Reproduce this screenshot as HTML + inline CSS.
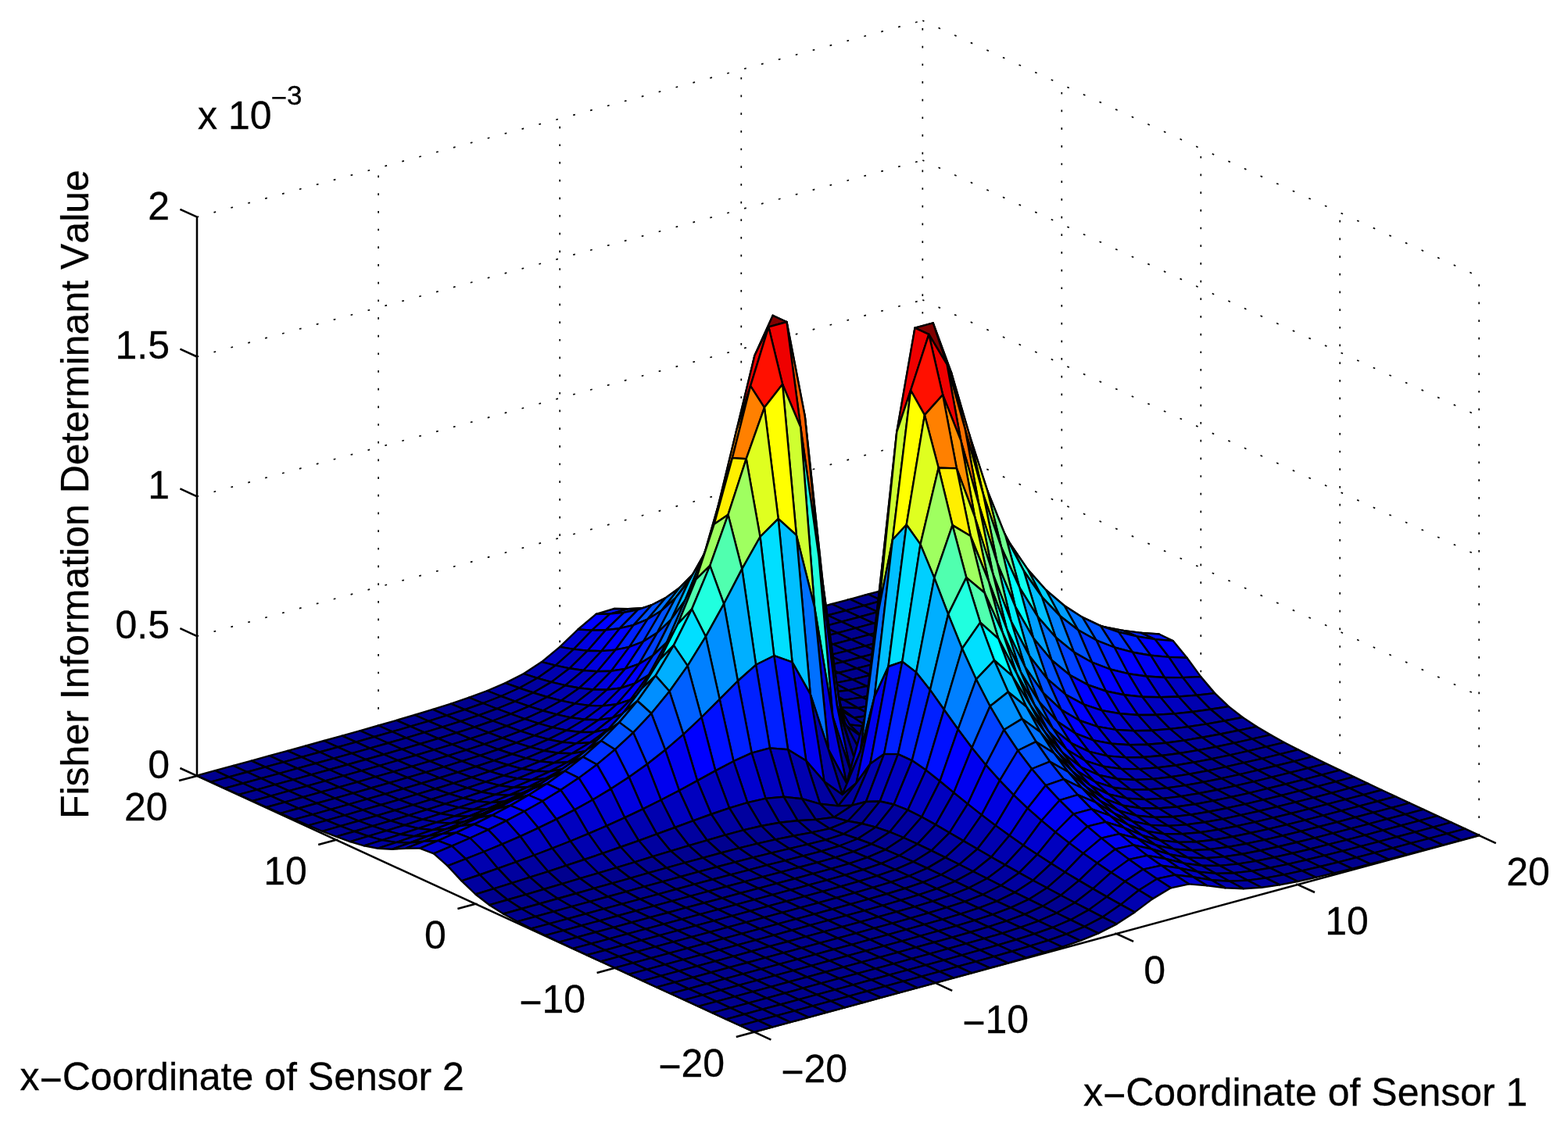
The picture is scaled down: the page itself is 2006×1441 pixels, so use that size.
<!DOCTYPE html>
<html lang="en"><head><meta charset="utf-8"><title>Fisher Information Determinant Value</title>
<style>html,body{margin:0;padding:0;background:#fff}svg{display:block}</style></head>
<body>
<svg width="2006" height="1441" viewBox="0 0 2006 1441" role="img" aria-label="Surface plot of the Fisher Information Determinant Value versus the x-coordinates of sensor 1 and sensor 2">
<rect width="2006" height="1441" fill="#fff"/>
<path d="M484.1 930L484.1 214.8M716.2 867.1L716.2 151.9M948.3 804.3L948.3 89.1M1180.3 741.4L1180.3 26.2M1358.3 823.3L1358.3 108.1M1536.3 905.3L1536.3 190.1M1714.2 987.2L1714.2 272M1892.2 1069.2L1892.2 354M252 992.9L1180.3 741.4M1180.3 741.4L1892.2 1069.2M252 814.1L1180.3 562.6M1180.3 562.6L1892.2 890.4M252 635.3L1180.3 383.8M1180.3 383.8L1892.2 711.6M252 456.5L1180.3 205M1180.3 205L1892.2 532.8M252 277.7L1180.3 26.2M1180.3 26.2L1892.2 354M1196.6 1257.8L484.1 930.1M786.6 1238.8L1714.2 987.3M1428.5 1195L716.2 867.3M608.4 1156.8L1536.3 905.4M1660.3 1132.1L948.3 804.5M430.2 1074.8L1358.3 823.6" fill="none" stroke="#000" stroke-width="1.7" stroke-dasharray="2.7 19.98" stroke-dashoffset="0.4"/>
<path d="M252 992.9L252 277.7M964.8 1320.7L1892.2 1069.2M964.8 1320.7L252 992.9M964.8 1320.7L986.4 1330.6M964.8 1320.7L941.8 1326.9M1196.6 1257.8L1218.2 1267.8M786.6 1238.8L763.6 1245M1428.5 1195L1450.1 1204.9M608.4 1156.8L585.4 1163M1660.3 1132.1L1682 1142M430.2 1074.8L407.2 1081.1M1892.2 1069.2L1913.8 1079.1M252 992.9L229 999.1M252 992.9L230.4 983M252 814.1L230.4 804.2M252 635.3L230.4 625.4M252 456.5L230.4 446.6M252 277.7L230.4 267.8" fill="none" stroke="#000" stroke-width="2.55" stroke-linecap="butt"/>
<g stroke="#000" stroke-width="2.4" stroke-linejoin="round">
<path fill="#00008f" d="M1174.9 756.2L1198.1 749.9L1180.4 741.7L1157.1 748Z"/>
<path fill="#00008f" d="M1151.7 762.5L1174.9 756.2L1157.1 748L1133.9 754.3Z"/>
<path fill="#00008f" d="M1128.5 768.7L1151.7 762.5L1133.9 754.3L1110.7 760.5Z"/>
<path fill="#00008f" d="M1105.3 775L1128.5 768.7L1110.7 760.5L1087.5 766.8Z"/>
<path fill="#00008f" d="M1082.1 781.3L1105.3 775L1087.5 766.8L1064.3 773Z"/>
<path fill="#00008f" d="M1058.9 787.5L1082.1 781.3L1064.3 773L1041.1 779.3Z"/>
<path fill="#00008f" d="M1035.7 793.7L1058.9 787.5L1041.1 779.3L1017.9 785.4Z"/>
<path fill="#00008f" d="M1012.5 799.7L1035.7 793.7L1017.9 785.4L994.7 791.5Z"/>
<path fill="#00008f" d="M989.3 805.7L1012.5 799.7L994.7 791.5L971.5 797.4Z"/>
<path fill="#00008f" d="M966.1 811.2L989.3 805.7L971.5 797.4L948.3 803Z"/>
<path fill="#00008f" d="M942.9 816.1L966.1 811.2L948.3 803L925.1 808Z"/>
<path fill="#00008f" d="M919.6 819.7L942.9 816.1L925.1 808L901.8 811.8Z"/>
<path fill="#00009f" d="M896.4 820.7L919.6 819.7L901.8 811.8L878.6 813.2Z"/>
<path fill="#0000af" d="M873.2 816.9L896.4 820.7L878.6 813.2L855.4 810.3Z"/>
<path fill="#0000cf" d="M850 806.2L873.2 816.9L855.4 810.3L832.2 801.3Z"/>
<path fill="#0000ef" d="M826.8 790.2L850 806.2L832.2 801.3L809 787.7Z"/>
<path fill="#0010ff" d="M803.6 779.3L826.8 790.2L809 787.7L785.8 779Z"/>
<path fill="#0010ff" d="M780.4 785.6L803.6 779.3L785.8 779L762.6 785.8Z"/>
<path fill="#0000ff" d="M757.2 806.6L780.4 785.6L762.6 785.8L739.4 805.5Z"/>
<path fill="#0000cf" d="M734 830.9L757.2 806.6L739.4 805.5L716.2 827.9Z"/>
<path fill="#0000bf" d="M710.8 851.6L734 830.9L716.2 827.9L693 847.1Z"/>
<path fill="#0000af" d="M687.6 867.8L710.8 851.6L693 847.1L669.8 862.2Z"/>
<path fill="#00009f" d="M664.4 880.5L687.6 867.8L669.8 862.2L646.5 874.1Z"/>
<path fill="#00009f" d="M641.1 891L664.4 880.5L646.5 874.1L623.3 884Z"/>
<path fill="#00008f" d="M617.9 900L641.1 891L623.3 884L600.1 892.7Z"/>
<path fill="#00008f" d="M594.7 908.1L617.9 900L600.1 892.7L576.9 900.6Z"/>
<path fill="#00008f" d="M571.5 915.6L594.7 908.1L576.9 900.6L553.7 907.9Z"/>
<path fill="#00008f" d="M548.3 922.8L571.5 915.6L553.7 907.9L530.5 915Z"/>
<path fill="#00008f" d="M525.1 929.7L548.3 922.8L530.5 915L507.3 921.8Z"/>
<path fill="#00008f" d="M501.9 936.4L525.1 929.7L507.3 921.8L484.1 928.5Z"/>
<path fill="#00008f" d="M478.7 943L501.9 936.4L484.1 928.5L460.9 935.1Z"/>
<path fill="#00008f" d="M455.5 949.6L478.7 943L460.9 935.1L437.7 941.6Z"/>
<path fill="#00008f" d="M432.3 956.1L455.5 949.6L437.7 941.6L414.5 948Z"/>
<path fill="#00008f" d="M409.1 962.5L432.3 956.1L414.5 948L391.3 954.5Z"/>
<path fill="#00008f" d="M385.9 968.9L409.1 962.5L391.3 954.5L368 960.8Z"/>
<path fill="#00008f" d="M362.7 975.3L385.9 968.9L368 960.8L344.8 967.2Z"/>
<path fill="#00008f" d="M339.4 981.7L362.7 975.3L344.8 967.2L321.6 973.6Z"/>
<path fill="#00008f" d="M316.2 988L339.4 981.7L321.6 973.6L298.4 979.9Z"/>
<path fill="#00008f" d="M293 994.4L316.2 988L298.4 979.9L275.2 986.2Z"/>
<path fill="#00008f" d="M269.8 1000.7L293 994.4L275.2 986.2L252 992.6Z"/>
<path fill="#00008f" d="M1192.7 764.4L1215.9 758.1L1198.1 749.9L1174.9 756.2Z"/>
<path fill="#00008f" d="M1169.5 770.6L1192.7 764.4L1174.9 756.2L1151.7 762.5Z"/>
<path fill="#00008f" d="M1146.3 776.9L1169.5 770.6L1151.7 762.5L1128.5 768.7Z"/>
<path fill="#00008f" d="M1123.1 783.2L1146.3 776.9L1128.5 768.7L1105.3 775Z"/>
<path fill="#00008f" d="M1099.9 789.5L1123.1 783.2L1105.3 775L1082.1 781.3Z"/>
<path fill="#00008f" d="M1076.7 795.7L1099.9 789.5L1082.1 781.3L1058.9 787.5Z"/>
<path fill="#00008f" d="M1053.5 801.9L1076.7 795.7L1058.9 787.5L1035.7 793.7Z"/>
<path fill="#00008f" d="M1030.3 808L1053.5 801.9L1035.7 793.7L1012.5 799.7Z"/>
<path fill="#00008f" d="M1007.1 813.9L1030.3 808L1012.5 799.7L989.3 805.7Z"/>
<path fill="#00008f" d="M983.9 819.4L1007.1 813.9L989.3 805.7L966.1 811.2Z"/>
<path fill="#00008f" d="M960.7 824.3L983.9 819.4L966.1 811.2L942.9 816.1Z"/>
<path fill="#00008f" d="M937.5 827.6L960.7 824.3L942.9 816.1L919.6 819.7Z"/>
<path fill="#00009f" d="M914.2 828.1L937.5 827.6L919.6 819.7L896.4 820.7Z"/>
<path fill="#0000af" d="M891 823.4L914.2 828.1L896.4 820.7L873.2 816.9Z"/>
<path fill="#0000cf" d="M867.8 810.7L891 823.4L873.2 816.9L850 806.2Z"/>
<path fill="#0000ff" d="M844.6 791.8L867.8 810.7L850 806.2L826.8 790.2Z"/>
<path fill="#0020ff" d="M821.4 778.3L844.6 791.8L826.8 790.2L803.6 779.3Z"/>
<path fill="#0020ff" d="M798.2 783.9L821.4 778.3L803.6 779.3L780.4 785.6Z"/>
<path fill="#0000ff" d="M775 806.3L798.2 783.9L780.4 785.6L757.2 806.6Z"/>
<path fill="#0000df" d="M751.8 832.7L775 806.3L757.2 806.6L734 830.9Z"/>
<path fill="#0000bf" d="M728.6 855.3L751.8 832.7L734 830.9L710.8 851.6Z"/>
<path fill="#0000af" d="M705.4 872.9L728.6 855.3L710.8 851.6L687.6 867.8Z"/>
<path fill="#00009f" d="M682.2 886.5L705.4 872.9L687.6 867.8L664.4 880.5Z"/>
<path fill="#00009f" d="M659 897.6L682.2 886.5L664.4 880.5L641.1 891Z"/>
<path fill="#00008f" d="M635.8 907L659 897.6L641.1 891L617.9 900Z"/>
<path fill="#00008f" d="M612.5 915.4L635.8 907L617.9 900L594.7 908.1Z"/>
<path fill="#00008f" d="M589.3 923.1L612.5 915.4L594.7 908.1L571.5 915.6Z"/>
<path fill="#00008f" d="M566.1 930.4L589.3 923.1L571.5 915.6L548.3 922.8Z"/>
<path fill="#00008f" d="M542.9 937.4L566.1 930.4L548.3 922.8L525.1 929.7Z"/>
<path fill="#00008f" d="M519.7 944.3L542.9 937.4L525.1 929.7L501.9 936.4Z"/>
<path fill="#00008f" d="M496.5 951L519.7 944.3L501.9 936.4L478.7 943Z"/>
<path fill="#00008f" d="M473.3 957.6L496.5 951L478.7 943L455.5 949.6Z"/>
<path fill="#00008f" d="M450.1 964.1L473.3 957.6L455.5 949.6L432.3 956.1Z"/>
<path fill="#00008f" d="M426.9 970.6L450.1 964.1L432.3 956.1L409.1 962.5Z"/>
<path fill="#00008f" d="M403.7 977L426.9 970.6L409.1 962.5L385.9 968.9Z"/>
<path fill="#00008f" d="M380.5 983.4L403.7 977L385.9 968.9L362.7 975.3Z"/>
<path fill="#00008f" d="M357.3 989.8L380.5 983.4L362.7 975.3L339.4 981.7Z"/>
<path fill="#00008f" d="M334.1 996.1L357.3 989.8L339.4 981.7L316.2 988Z"/>
<path fill="#00008f" d="M310.8 1002.5L334.1 996.1L316.2 988L293 994.4Z"/>
<path fill="#00008f" d="M287.6 1008.8L310.8 1002.5L293 994.4L269.8 1000.7Z"/>
<path fill="#00008f" d="M1210.5 772.5L1233.7 766.3L1215.9 758.1L1192.7 764.4Z"/>
<path fill="#00008f" d="M1187.3 778.8L1210.5 772.5L1192.7 764.4L1169.5 770.6Z"/>
<path fill="#00008f" d="M1164.1 785.1L1187.3 778.8L1169.5 770.6L1146.3 776.9Z"/>
<path fill="#00008f" d="M1140.9 791.4L1164.1 785.1L1146.3 776.9L1123.1 783.2Z"/>
<path fill="#00008f" d="M1117.7 797.7L1140.9 791.4L1123.1 783.2L1099.9 789.5Z"/>
<path fill="#00008f" d="M1094.5 803.9L1117.7 797.7L1099.9 789.5L1076.7 795.7Z"/>
<path fill="#00008f" d="M1071.3 810.1L1094.5 803.9L1076.7 795.7L1053.5 801.9Z"/>
<path fill="#00008f" d="M1048.1 816.2L1071.3 810.1L1053.5 801.9L1030.3 808Z"/>
<path fill="#00008f" d="M1024.9 822.1L1048.1 816.2L1030.3 808L1007.1 813.9Z"/>
<path fill="#00008f" d="M1001.7 827.7L1024.9 822.1L1007.1 813.9L983.9 819.4Z"/>
<path fill="#00008f" d="M978.5 832.4L1001.7 827.7L983.9 819.4L960.7 824.3Z"/>
<path fill="#00008f" d="M955.3 835.6L978.5 832.4L960.7 824.3L937.5 827.6Z"/>
<path fill="#00009f" d="M932 835.6L955.3 835.6L937.5 827.6L914.2 828.1Z"/>
<path fill="#0000af" d="M908.8 829.6L932 835.6L914.2 828.1L891 823.4Z"/>
<path fill="#0000df" d="M885.6 814.7L908.8 829.6L891 823.4L867.8 810.7Z"/>
<path fill="#0010ff" d="M862.4 792.4L885.6 814.7L867.8 810.7L844.6 791.8Z"/>
<path fill="#0030ff" d="M839.2 775.6L862.4 792.4L844.6 791.8L821.4 778.3Z"/>
<path fill="#0040ff" stroke="none" d="M816 780.3L821.4 778.3L839.2 775.6ZM816 780.3L798.2 783.9L821.4 778.3Z"/><path fill="none" d="M816 780.3L839.2 775.6L821.4 778.3L798.2 783.9Z"/>
<path fill="#0020ff" d="M792.8 804.2L816 780.3L798.2 783.9L775 806.3Z"/>
<path fill="#0000ef" d="M769.6 833.1L792.8 804.2L775 806.3L751.8 832.7Z"/>
<path fill="#0000cf" d="M746.4 858L769.6 833.1L751.8 832.7L728.6 855.3Z"/>
<path fill="#0000bf" d="M723.2 877.2L746.4 858L728.6 855.3L705.4 872.9Z"/>
<path fill="#0000af" d="M700 892L723.2 877.2L705.4 872.9L682.2 886.5Z"/>
<path fill="#00009f" d="M676.8 903.8L700 892L682.2 886.5L659 897.6Z"/>
<path fill="#00009f" d="M653.6 913.7L676.8 903.8L659 897.6L635.8 907Z"/>
<path fill="#00008f" d="M630.4 922.5L653.6 913.7L635.8 907L612.5 915.4Z"/>
<path fill="#00008f" d="M607.1 930.5L630.4 922.5L612.5 915.4L589.3 923.1Z"/>
<path fill="#00008f" d="M583.9 937.9L607.1 930.5L589.3 923.1L566.1 930.4Z"/>
<path fill="#00008f" d="M560.7 945.1L583.9 937.9L566.1 930.4L542.9 937.4Z"/>
<path fill="#00008f" d="M537.5 952L560.7 945.1L542.9 937.4L519.7 944.3Z"/>
<path fill="#00008f" d="M514.3 958.8L537.5 952L519.7 944.3L496.5 951Z"/>
<path fill="#00008f" d="M491.1 965.5L514.3 958.8L496.5 951L473.3 957.6Z"/>
<path fill="#00008f" d="M467.9 972L491.1 965.5L473.3 957.6L450.1 964.1Z"/>
<path fill="#00008f" d="M444.7 978.5L467.9 972L450.1 964.1L426.9 970.6Z"/>
<path fill="#00008f" d="M421.5 985L444.7 978.5L426.9 970.6L403.7 977Z"/>
<path fill="#00008f" d="M398.3 991.4L421.5 985L403.7 977L380.5 983.4Z"/>
<path fill="#00008f" d="M375.1 997.8L398.3 991.4L380.5 983.4L357.3 989.8Z"/>
<path fill="#00008f" d="M351.9 1004.2L375.1 997.8L357.3 989.8L334.1 996.1Z"/>
<path fill="#00008f" d="M328.7 1010.6L351.9 1004.2L334.1 996.1L310.8 1002.5Z"/>
<path fill="#00008f" d="M305.5 1016.9L328.7 1010.6L310.8 1002.5L287.6 1008.8Z"/>
<path fill="#00008f" d="M1228.3 780.7L1251.5 774.4L1233.7 766.3L1210.5 772.5Z"/>
<path fill="#00008f" d="M1205.1 787L1228.3 780.7L1210.5 772.5L1187.3 778.8Z"/>
<path fill="#00008f" d="M1181.9 793.3L1205.1 787L1187.3 778.8L1164.1 785.1Z"/>
<path fill="#00008f" d="M1158.7 799.6L1181.9 793.3L1164.1 785.1L1140.9 791.4Z"/>
<path fill="#00008f" d="M1135.5 805.9L1158.7 799.6L1140.9 791.4L1117.7 797.7Z"/>
<path fill="#00008f" d="M1112.3 812.2L1135.5 805.9L1117.7 797.7L1094.5 803.9Z"/>
<path fill="#00008f" d="M1089.1 818.4L1112.3 812.2L1094.5 803.9L1071.3 810.1Z"/>
<path fill="#00008f" d="M1065.9 824.5L1089.1 818.4L1071.3 810.1L1048.1 816.2Z"/>
<path fill="#00008f" d="M1042.7 830.4L1065.9 824.5L1048.1 816.2L1024.9 822.1Z"/>
<path fill="#00008f" d="M1019.5 835.9L1042.7 830.4L1024.9 822.1L1001.7 827.7Z"/>
<path fill="#00008f" d="M996.3 840.6L1019.5 835.9L1001.7 827.7L978.5 832.4Z"/>
<path fill="#00008f" d="M973.1 843.5L996.3 840.6L978.5 832.4L955.3 835.6Z"/>
<path fill="#00009f" d="M949.9 843L973.1 843.5L955.3 835.6L932 835.6Z"/>
<path fill="#0000af" d="M926.6 835.7L949.9 843L932 835.6L908.8 829.6Z"/>
<path fill="#0000df" d="M903.4 818.2L926.6 835.7L908.8 829.6L885.6 814.7Z"/>
<path fill="#0020ff" d="M880.2 791.7L903.4 818.2L885.6 814.7L862.4 792.4Z"/>
<path fill="#0050ff" d="M857 771L880.2 791.7L862.4 792.4L839.2 775.6Z"/>
<path fill="#0050ff" d="M833.8 774.2L857 771L839.2 775.6L816 780.3Z"/>
<path fill="#0030ff" d="M810.6 799.9L833.8 774.2L816 780.3L792.8 804.2Z"/>
<path fill="#0000ff" d="M787.4 831.7L810.6 799.9L792.8 804.2L769.6 833.1Z"/>
<path fill="#0000df" d="M764.2 859.3L787.4 831.7L769.6 833.1L746.4 858Z"/>
<path fill="#0000bf" d="M741 880.5L764.2 859.3L746.4 858L723.2 877.2Z"/>
<path fill="#0000af" d="M717.8 896.7L741 880.5L723.2 877.2L700 892Z"/>
<path fill="#00009f" d="M694.6 909.5L717.8 896.7L700 892L676.8 903.8Z"/>
<path fill="#00009f" d="M671.4 920.1L694.6 909.5L676.8 903.8L653.6 913.7Z"/>
<path fill="#00008f" d="M648.2 929.2L671.4 920.1L653.6 913.7L630.4 922.5Z"/>
<path fill="#00008f" d="M625 937.6L648.2 929.2L630.4 922.5L607.1 930.5Z"/>
<path fill="#00008f" d="M601.8 945.3L625 937.6L607.1 930.5L583.9 937.9Z"/>
<path fill="#00008f" d="M578.5 952.6L601.8 945.3L583.9 937.9L560.7 945.1Z"/>
<path fill="#00008f" d="M555.3 959.7L578.5 952.6L560.7 945.1L537.5 952Z"/>
<path fill="#00008f" d="M532.1 966.5L555.3 959.7L537.5 952L514.3 958.8Z"/>
<path fill="#00008f" d="M508.9 973.2L532.1 966.5L514.3 958.8L491.1 965.5Z"/>
<path fill="#00008f" d="M485.7 979.9L508.9 973.2L491.1 965.5L467.9 972Z"/>
<path fill="#00008f" d="M462.5 986.4L485.7 979.9L467.9 972L444.7 978.5Z"/>
<path fill="#00008f" d="M439.3 992.9L462.5 986.4L444.7 978.5L421.5 985Z"/>
<path fill="#00008f" d="M416.1 999.4L439.3 992.9L421.5 985L398.3 991.4Z"/>
<path fill="#00008f" d="M392.9 1005.8L416.1 999.4L398.3 991.4L375.1 997.8Z"/>
<path fill="#00008f" d="M369.7 1012.2L392.9 1005.8L375.1 997.8L351.9 1004.2Z"/>
<path fill="#00008f" d="M346.5 1018.6L369.7 1012.2L351.9 1004.2L328.7 1010.6Z"/>
<path fill="#00008f" d="M323.3 1025L346.5 1018.6L328.7 1010.6L305.5 1016.9Z"/>
<path fill="#00008f" d="M1246.1 788.9L1269.3 782.6L1251.5 774.4L1228.3 780.7Z"/>
<path fill="#00008f" d="M1222.9 795.2L1246.1 788.9L1228.3 780.7L1205.1 787Z"/>
<path fill="#00008f" d="M1199.7 801.5L1222.9 795.2L1205.1 787L1181.9 793.3Z"/>
<path fill="#00008f" d="M1176.5 807.8L1199.7 801.5L1181.9 793.3L1158.7 799.6Z"/>
<path fill="#00008f" d="M1153.3 814.1L1176.5 807.8L1158.7 799.6L1135.5 805.9Z"/>
<path fill="#00008f" d="M1130.1 820.4L1153.3 814.1L1135.5 805.9L1112.3 812.2Z"/>
<path fill="#00008f" d="M1106.9 826.6L1130.1 820.4L1112.3 812.2L1089.1 818.4Z"/>
<path fill="#00008f" d="M1083.7 832.8L1106.9 826.6L1089.1 818.4L1065.9 824.5Z"/>
<path fill="#00008f" d="M1060.5 838.7L1083.7 832.8L1065.9 824.5L1042.7 830.4Z"/>
<path fill="#00008f" d="M1037.3 844.2L1060.5 838.7L1042.7 830.4L1019.5 835.9Z"/>
<path fill="#00008f" d="M1014.1 848.9L1037.3 844.2L1019.5 835.9L996.3 840.6Z"/>
<path fill="#00008f" d="M990.9 851.6L1014.1 848.9L996.3 840.6L973.1 843.5Z"/>
<path fill="#00009f" d="M967.7 850.4L990.9 851.6L973.1 843.5L949.9 843Z"/>
<path fill="#0000bf" stroke="none" d="M944.4 841.7L949.9 843L967.7 850.4ZM944.4 841.7L926.6 835.7L949.9 843Z"/><path fill="none" d="M944.4 841.7L967.7 850.4L949.9 843L926.6 835.7Z"/>
<path fill="#0000ef" d="M921.2 821.1L944.4 841.7L926.6 835.7L903.4 818.2Z"/>
<path fill="#0030ff" d="M898 789.7L921.2 821.1L903.4 818.2L880.2 791.7Z"/>
<path fill="#0070ff" d="M874.8 763.8L898 789.7L880.2 791.7L857 771Z"/>
<path fill="#0070ff" d="M851.6 765.1L874.8 763.8L857 771L833.8 774.2Z"/>
<path fill="#0050ff" d="M828.4 792.6L851.6 765.1L833.8 774.2L810.6 799.9Z"/>
<path fill="#0020ff" d="M805.2 827.9L828.4 792.6L810.6 799.9L787.4 831.7Z"/>
<path fill="#0000ef" d="M782 858.8L805.2 827.9L787.4 831.7L764.2 859.3Z"/>
<path fill="#0000cf" d="M758.8 882.5L782 858.8L764.2 859.3L741 880.5Z"/>
<path fill="#0000af" d="M735.6 900.4L758.8 882.5L741 880.5L717.8 896.7Z"/>
<path fill="#0000af" d="M712.4 914.4L735.6 900.4L717.8 896.7L694.6 909.5Z"/>
<path fill="#00009f" d="M689.2 925.8L712.4 914.4L694.6 909.5L671.4 920.1Z"/>
<path fill="#00009f" d="M666 935.6L689.2 925.8L671.4 920.1L648.2 929.2Z"/>
<path fill="#00008f" d="M642.8 944.3L666 935.6L648.2 929.2L625 937.6Z"/>
<path fill="#00008f" d="M619.6 952.3L642.8 944.3L625 937.6L601.8 945.3Z"/>
<path fill="#00008f" d="M596.4 959.9L619.6 952.3L601.8 945.3L578.5 952.6Z"/>
<path fill="#00008f" d="M573.2 967.1L596.4 959.9L578.5 952.6L555.3 959.7Z"/>
<path fill="#00008f" d="M549.9 974.1L573.2 967.1L555.3 959.7L532.1 966.5Z"/>
<path fill="#00008f" d="M526.7 980.9L549.9 974.1L532.1 966.5L508.9 973.2Z"/>
<path fill="#00008f" d="M503.5 987.6L526.7 980.9L508.9 973.2L485.7 979.9Z"/>
<path fill="#00008f" d="M480.3 994.2L503.5 987.6L485.7 979.9L462.5 986.4Z"/>
<path fill="#00008f" d="M457.1 1000.8L480.3 994.2L462.5 986.4L439.3 992.9Z"/>
<path fill="#00008f" d="M433.9 1007.3L457.1 1000.8L439.3 992.9L416.1 999.4Z"/>
<path fill="#00008f" d="M410.7 1013.7L433.9 1007.3L416.1 999.4L392.9 1005.8Z"/>
<path fill="#00008f" d="M387.5 1020.2L410.7 1013.7L392.9 1005.8L369.7 1012.2Z"/>
<path fill="#00008f" d="M364.3 1026.6L387.5 1020.2L369.7 1012.2L346.5 1018.6Z"/>
<path fill="#00008f" d="M341.1 1033L364.3 1026.6L346.5 1018.6L323.3 1025Z"/>
<path fill="#00008f" d="M1263.9 797L1287.1 790.7L1269.3 782.6L1246.1 788.9Z"/>
<path fill="#00008f" d="M1240.7 803.3L1263.9 797L1246.1 788.9L1222.9 795.2Z"/>
<path fill="#00008f" d="M1217.5 809.6L1240.7 803.3L1222.9 795.2L1199.7 801.5Z"/>
<path fill="#00008f" d="M1194.3 816L1217.5 809.6L1199.7 801.5L1176.5 807.8Z"/>
<path fill="#00008f" d="M1171.1 822.3L1194.3 816L1176.5 807.8L1153.3 814.1Z"/>
<path fill="#00008f" d="M1147.9 828.6L1171.1 822.3L1153.3 814.1L1130.1 820.4Z"/>
<path fill="#00008f" d="M1124.7 834.9L1147.9 828.6L1130.1 820.4L1106.9 826.6Z"/>
<path fill="#00008f" d="M1101.5 841L1124.7 834.9L1106.9 826.6L1083.7 832.8Z"/>
<path fill="#00008f" d="M1078.3 847L1101.5 841L1083.7 832.8L1060.5 838.7Z"/>
<path fill="#00008f" d="M1055.1 852.6L1078.3 847L1060.5 838.7L1037.3 844.2Z"/>
<path fill="#00008f" d="M1031.9 857.2L1055.1 852.6L1037.3 844.2L1014.1 848.9Z"/>
<path fill="#00008f" d="M1008.7 859.8L1031.9 857.2L1014.1 848.9L990.9 851.6Z"/>
<path fill="#00009f" d="M985.5 858L1008.7 859.8L990.9 851.6L967.7 850.4Z"/>
<path fill="#0000bf" stroke="none" d="M962.3 847.7L985.5 858L967.7 850.4ZM962.3 847.7L967.7 850.4L944.4 841.7Z"/><path fill="none" d="M962.3 847.7L985.5 858L967.7 850.4L944.4 841.7Z"/>
<path fill="#0000ef" d="M939 823.5L962.3 847.7L944.4 841.7L921.2 821.1Z"/>
<path fill="#0040ff" d="M915.8 786L939 823.5L921.2 821.1L898 789.7Z"/>
<path fill="#008fff" d="M892.6 753.7L915.8 786L898 789.7L874.8 763.8Z"/>
<path fill="#008fff" d="M869.4 752.1L892.6 753.7L874.8 763.8L851.6 765.1Z"/>
<path fill="#0070ff" d="M846.2 781.5L869.4 752.1L851.6 765.1L828.4 792.6Z"/>
<path fill="#0030ff" d="M823 821L846.2 781.5L828.4 792.6L805.2 827.9Z"/>
<path fill="#0000ff" d="M799.8 855.9L823 821L805.2 827.9L782 858.8Z"/>
<path fill="#0000df" d="M776.6 882.7L799.8 855.9L782 858.8L758.8 882.5Z"/>
<path fill="#0000bf" d="M753.4 902.9L776.6 882.7L758.8 882.5L735.6 900.4Z"/>
<path fill="#0000af" d="M730.2 918.3L753.4 902.9L735.6 900.4L712.4 914.4Z"/>
<path fill="#00009f" d="M707 930.8L730.2 918.3L712.4 914.4L689.2 925.8Z"/>
<path fill="#00009f" d="M683.8 941.3L707 930.8L689.2 925.8L666 935.6Z"/>
<path fill="#00009f" d="M660.6 950.6L683.8 941.3L666 935.6L642.8 944.3Z"/>
<path fill="#00008f" d="M637.4 959L660.6 950.6L642.8 944.3L619.6 952.3Z"/>
<path fill="#00008f" d="M614.2 966.8L637.4 959L619.6 952.3L596.4 959.9Z"/>
<path fill="#00008f" d="M591 974.2L614.2 966.8L596.4 959.9L573.2 967.1Z"/>
<path fill="#00008f" d="M567.8 981.4L591 974.2L573.2 967.1L549.9 974.1Z"/>
<path fill="#00008f" d="M544.6 988.4L567.8 981.4L549.9 974.1L526.7 980.9Z"/>
<path fill="#00008f" d="M521.4 995.2L544.6 988.4L526.7 980.9L503.5 987.6Z"/>
<path fill="#00008f" d="M498.1 1001.9L521.4 995.2L503.5 987.6L480.3 994.2Z"/>
<path fill="#00008f" d="M474.9 1008.5L498.1 1001.9L480.3 994.2L457.1 1000.8Z"/>
<path fill="#00008f" d="M451.7 1015.1L474.9 1008.5L457.1 1000.8L433.9 1007.3Z"/>
<path fill="#00008f" d="M428.5 1021.6L451.7 1015.1L433.9 1007.3L410.7 1013.7Z"/>
<path fill="#00008f" d="M405.3 1028L428.5 1021.6L410.7 1013.7L387.5 1020.2Z"/>
<path fill="#00008f" d="M382.1 1034.5L405.3 1028L387.5 1020.2L364.3 1026.6Z"/>
<path fill="#00008f" d="M358.9 1040.9L382.1 1034.5L364.3 1026.6L341.1 1033Z"/>
<path fill="#00008f" d="M1281.7 805.1L1304.9 798.8L1287.1 790.7L1263.9 797Z"/>
<path fill="#00008f" d="M1258.5 811.4L1281.7 805.1L1263.9 797L1240.7 803.3Z"/>
<path fill="#00008f" d="M1235.3 817.8L1258.5 811.4L1240.7 803.3L1217.5 809.6Z"/>
<path fill="#00008f" d="M1212.1 824.1L1235.3 817.8L1217.5 809.6L1194.3 816Z"/>
<path fill="#00008f" d="M1188.9 830.4L1212.1 824.1L1194.3 816L1171.1 822.3Z"/>
<path fill="#00008f" d="M1165.7 836.8L1188.9 830.4L1171.1 822.3L1147.9 828.6Z"/>
<path fill="#00008f" d="M1142.5 843.1L1165.7 836.8L1147.9 828.6L1124.7 834.9Z"/>
<path fill="#00008f" d="M1119.3 849.3L1142.5 843.1L1124.7 834.9L1101.5 841Z"/>
<path fill="#00008f" d="M1096.1 855.4L1119.3 849.3L1101.5 841L1078.3 847Z"/>
<path fill="#00008f" d="M1072.9 861L1096.1 855.4L1078.3 847L1055.1 852.6Z"/>
<path fill="#00008f" d="M1049.7 865.7L1072.9 861L1055.1 852.6L1031.9 857.2Z"/>
<path fill="#00008f" d="M1026.5 868.2L1049.7 865.7L1031.9 857.2L1008.7 859.8Z"/>
<path fill="#00009f" d="M1003.3 865.9L1026.5 868.2L1008.7 859.8L985.5 858Z"/>
<path fill="#0000bf" d="M980.1 853.8L1003.3 865.9L985.5 858L962.3 847.7Z"/>
<path fill="#0000ff" d="M956.9 825.4L980.1 853.8L962.3 847.7L939 823.5Z"/>
<path fill="#0060ff" d="M933.6 780.5L956.9 825.4L939 823.5L915.8 786Z"/>
<path fill="#00afff" d="M910.4 739.9L933.6 780.5L915.8 786L892.6 753.7Z"/>
<path fill="#00bfff" d="M887.2 734.2L910.4 739.9L892.6 753.7L869.4 752.1Z"/>
<path fill="#009fff" d="M864 765.5L887.2 734.2L869.4 752.1L846.2 781.5Z"/>
<path fill="#0050ff" d="M840.8 809.8L864 765.5L846.2 781.5L823 821Z"/>
<path fill="#0020ff" d="M817.6 849.7L840.8 809.8L823 821L799.8 855.9Z"/>
<path fill="#0000ef" d="M794.4 880.5L817.6 849.7L799.8 855.9L776.6 882.7Z"/>
<path fill="#0000cf" d="M771.2 903.4L794.4 880.5L776.6 882.7L753.4 902.9Z"/>
<path fill="#0000bf" d="M748 920.8L771.2 903.4L753.4 902.9L730.2 918.3Z"/>
<path fill="#0000af" d="M724.8 934.7L748 920.8L730.2 918.3L707 930.8Z"/>
<path fill="#00009f" d="M701.6 946.2L724.8 934.7L707 930.8L683.8 941.3Z"/>
<path fill="#00009f" d="M678.4 956.1L701.6 946.2L683.8 941.3L660.6 950.6Z"/>
<path fill="#00009f" d="M655.2 965L678.4 956.1L660.6 950.6L637.4 959Z"/>
<path fill="#00008f" d="M632 973.3L655.2 965L637.4 959L614.2 966.8Z"/>
<path fill="#00008f" d="M608.8 981L632 973.3L614.2 966.8L591 974.2Z"/>
<path fill="#00008f" d="M585.6 988.4L608.8 981L591 974.2L567.8 981.4Z"/>
<path fill="#00008f" d="M562.4 995.5L585.6 988.4L567.8 981.4L544.6 988.4Z"/>
<path fill="#00008f" d="M539.2 1002.5L562.4 995.5L544.6 988.4L521.4 995.2Z"/>
<path fill="#00008f" d="M516 1009.3L539.2 1002.5L521.4 995.2L498.1 1001.9Z"/>
<path fill="#00008f" d="M492.8 1016.1L516 1009.3L498.1 1001.9L474.9 1008.5Z"/>
<path fill="#00008f" d="M469.6 1022.7L492.8 1016.1L474.9 1008.5L451.7 1015.1Z"/>
<path fill="#00008f" d="M446.3 1029.3L469.6 1022.7L451.7 1015.1L428.5 1021.6Z"/>
<path fill="#00008f" d="M423.1 1035.8L446.3 1029.3L428.5 1021.6L405.3 1028Z"/>
<path fill="#00008f" d="M399.9 1042.3L423.1 1035.8L405.3 1028L382.1 1034.5Z"/>
<path fill="#00008f" d="M376.7 1048.7L399.9 1042.3L382.1 1034.5L358.9 1040.9Z"/>
<path fill="#00008f" d="M1299.5 813.1L1322.7 806.8L1304.9 798.8L1281.7 805.1Z"/>
<path fill="#00008f" d="M1276.3 819.4L1299.5 813.1L1281.7 805.1L1258.5 811.4Z"/>
<path fill="#00008f" d="M1253.1 825.8L1276.3 819.4L1258.5 811.4L1235.3 817.8Z"/>
<path fill="#00008f" d="M1229.9 832.1L1253.1 825.8L1235.3 817.8L1212.1 824.1Z"/>
<path fill="#00008f" d="M1206.7 838.5L1229.9 832.1L1212.1 824.1L1188.9 830.4Z"/>
<path fill="#00008f" d="M1183.5 844.9L1206.7 838.5L1188.9 830.4L1165.7 836.8Z"/>
<path fill="#00008f" d="M1160.3 851.2L1183.5 844.9L1165.7 836.8L1142.5 843.1Z"/>
<path fill="#00008f" d="M1137.1 857.6L1160.3 851.2L1142.5 843.1L1119.3 849.3Z"/>
<path fill="#00008f" d="M1113.9 863.8L1137.1 857.6L1119.3 849.3L1096.1 855.4Z"/>
<path fill="#00008f" d="M1090.7 869.6L1113.9 863.8L1096.1 855.4L1072.9 861Z"/>
<path fill="#00008f" d="M1067.5 874.4L1090.7 869.6L1072.9 861L1049.7 865.7Z"/>
<path fill="#00008f" d="M1044.3 877L1067.5 874.4L1049.7 865.7L1026.5 868.2Z"/>
<path fill="#00009f" d="M1021.1 874.2L1044.3 877L1026.5 868.2L1003.3 865.9Z"/>
<path fill="#0000bf" d="M997.9 860.3L1021.1 874.2L1003.3 865.9L980.1 853.8Z"/>
<path fill="#0010ff" d="M974.7 827.1L997.9 860.3L980.1 853.8L956.9 825.4Z"/>
<path fill="#0080ff" d="M951.5 773.2L974.7 827.1L956.9 825.4L933.6 780.5Z"/>
<path fill="#00dfff" d="M928.2 721.8L951.5 773.2L933.6 780.5L910.4 739.9Z"/>
<path fill="#00ffff" d="M905 710L928.2 721.8L910.4 739.9L887.2 734.2Z"/>
<path fill="#00cfff" stroke="none" d="M881.8 742.8L887.2 734.2L905 710ZM881.8 742.8L864 765.5L887.2 734.2Z"/><path fill="none" d="M881.8 742.8L905 710L887.2 734.2L864 765.5Z"/>
<path fill="#0080ff" d="M858.6 792.9L881.8 742.8L864 765.5L840.8 809.8Z"/>
<path fill="#0040ff" d="M835.4 838.9L858.6 792.9L840.8 809.8L817.6 849.7Z"/>
<path fill="#0000ff" d="M812.2 874.7L835.4 838.9L817.6 849.7L794.4 880.5Z"/>
<path fill="#0000df" d="M789 901.3L812.2 874.7L794.4 880.5L771.2 903.4Z"/>
<path fill="#0000cf" d="M765.8 921.3L789 901.3L771.2 903.4L748 920.8Z"/>
<path fill="#0000bf" d="M742.6 937L765.8 921.3L748 920.8L724.8 934.7Z"/>
<path fill="#0000af" d="M719.4 949.8L742.6 937L724.8 934.7L701.6 946.2Z"/>
<path fill="#00009f" d="M696.2 960.7L719.4 949.8L701.6 946.2L678.4 956.1Z"/>
<path fill="#00009f" d="M673 970.3L696.2 960.7L678.4 956.1L655.2 965Z"/>
<path fill="#00009f" d="M649.8 979L673 970.3L655.2 965L632 973.3Z"/>
<path fill="#00008f" d="M626.6 987.2L649.8 979L632 973.3L608.8 981Z"/>
<path fill="#00008f" d="M603.4 994.9L626.6 987.2L608.8 981L585.6 988.4Z"/>
<path fill="#00008f" d="M580.2 1002.3L603.4 994.9L585.6 988.4L562.4 995.5Z"/>
<path fill="#00008f" d="M557 1009.5L580.2 1002.3L562.4 995.5L539.2 1002.5Z"/>
<path fill="#00008f" d="M533.8 1016.4L557 1009.5L539.2 1002.5L516 1009.3Z"/>
<path fill="#00008f" d="M510.6 1023.3L533.8 1016.4L516 1009.3L492.8 1016.1Z"/>
<path fill="#00008f" d="M487.4 1030L510.6 1023.3L492.8 1016.1L469.6 1022.7Z"/>
<path fill="#00008f" d="M464.2 1036.7L487.4 1030L469.6 1022.7L446.3 1029.3Z"/>
<path fill="#00008f" d="M441 1043.3L464.2 1036.7L446.3 1029.3L423.1 1035.8Z"/>
<path fill="#00008f" d="M417.8 1049.9L441 1043.3L423.1 1035.8L399.9 1042.3Z"/>
<path fill="#00008f" d="M394.5 1056.4L417.8 1049.9L399.9 1042.3L376.7 1048.7Z"/>
<path fill="#00008f" d="M1317.3 820.9L1340.5 814.6L1322.7 806.8L1299.5 813.1Z"/>
<path fill="#00008f" d="M1294.1 827.2L1317.3 820.9L1299.5 813.1L1276.3 819.4Z"/>
<path fill="#00008f" d="M1270.9 833.6L1294.1 827.2L1276.3 819.4L1253.1 825.8Z"/>
<path fill="#00008f" d="M1247.7 839.9L1270.9 833.6L1253.1 825.8L1229.9 832.1Z"/>
<path fill="#00008f" d="M1224.5 846.3L1247.7 839.9L1229.9 832.1L1206.7 838.5Z"/>
<path fill="#00008f" d="M1201.3 852.8L1224.5 846.3L1206.7 838.5L1183.5 844.9Z"/>
<path fill="#00008f" d="M1178.1 859.2L1201.3 852.8L1183.5 844.9L1160.3 851.2Z"/>
<path fill="#00008f" d="M1154.9 865.7L1178.1 859.2L1160.3 851.2L1137.1 857.6Z"/>
<path fill="#00008f" d="M1131.7 872.1L1154.9 865.7L1137.1 857.6L1113.9 863.8Z"/>
<path fill="#00008f" d="M1108.5 878.1L1131.7 872.1L1113.9 863.8L1090.7 869.6Z"/>
<path fill="#00008f" d="M1085.3 883.3L1108.5 878.1L1090.7 869.6L1067.5 874.4Z"/>
<path fill="#00008f" d="M1062.1 886.2L1085.3 883.3L1067.5 874.4L1044.3 877Z"/>
<path fill="#00009f" d="M1038.9 883.3L1062.1 886.2L1044.3 877L1021.1 874.2Z"/>
<path fill="#0000cf" d="M1015.7 867.8L1038.9 883.3L1021.1 874.2L997.9 860.3Z"/>
<path fill="#0020ff" d="M992.5 829.3L1015.7 867.8L997.9 860.3L974.7 827.1Z"/>
<path fill="#008fff" d="M969.3 764.5L992.5 829.3L974.7 827.1L951.5 773.2Z"/>
<path fill="#20ffdf" d="M946.1 698.9L969.3 764.5L951.5 773.2L928.2 721.8Z"/>
<path fill="#50ffaf" d="M922.8 678.1L946.1 698.9L928.2 721.8L905 710Z"/>
<path fill="#20ffdf" d="M899.6 711.4L922.8 678.1L905 710L881.8 742.8Z"/>
<path fill="#00bfff" d="M876.4 768.2L899.6 711.4L881.8 742.8L858.6 792.9Z"/>
<path fill="#0070ff" d="M853.2 821.8L876.4 768.2L858.6 792.9L835.4 838.9Z"/>
<path fill="#0030ff" d="M830 863.9L853.2 821.8L835.4 838.9L812.2 874.7Z"/>
<path fill="#0000ff" d="M806.8 895.3L830 863.9L812.2 874.7L789 901.3Z"/>
<path fill="#0000df" d="M783.6 918.7L806.8 895.3L789 901.3L765.8 921.3Z"/>
<path fill="#0000cf" d="M760.4 936.9L783.6 918.7L765.8 921.3L742.6 937Z"/>
<path fill="#0000bf" d="M737.2 951.4L760.4 936.9L742.6 937L719.4 949.8Z"/>
<path fill="#0000af" d="M714 963.7L737.2 951.4L719.4 949.8L696.2 960.7Z"/>
<path fill="#00009f" d="M690.8 974.3L714 963.7L696.2 960.7L673 970.3Z"/>
<path fill="#00009f" d="M667.6 983.8L690.8 974.3L673 970.3L649.8 979Z"/>
<path fill="#00009f" d="M644.4 992.5L667.6 983.8L649.8 979L626.6 987.2Z"/>
<path fill="#00009f" d="M621.2 1000.6L644.4 992.5L626.6 987.2L603.4 994.9Z"/>
<path fill="#00008f" d="M598 1008.4L621.2 1000.6L603.4 994.9L580.2 1002.3Z"/>
<path fill="#00008f" d="M574.8 1015.8L598 1008.4L580.2 1002.3L557 1009.5Z"/>
<path fill="#00008f" d="M551.6 1023.1L574.8 1015.8L557 1009.5L533.8 1016.4Z"/>
<path fill="#00008f" d="M528.4 1030.1L551.6 1023.1L533.8 1016.4L510.6 1023.3Z"/>
<path fill="#00008f" d="M505.2 1037L528.4 1030.1L510.6 1023.3L487.4 1030Z"/>
<path fill="#00008f" d="M482 1043.8L505.2 1037L487.4 1030L464.2 1036.7Z"/>
<path fill="#00008f" d="M458.8 1050.5L482 1043.8L464.2 1036.7L441 1043.3Z"/>
<path fill="#00008f" d="M435.6 1057.2L458.8 1050.5L441 1043.3L417.8 1049.9Z"/>
<path fill="#00008f" d="M412.4 1063.8L435.6 1057.2L417.8 1049.9L394.5 1056.4Z"/>
<path fill="#00008f" d="M1335.1 828.4L1358.3 822.1L1340.5 814.6L1317.3 820.9Z"/>
<path fill="#00008f" d="M1311.9 834.7L1335.1 828.4L1317.3 820.9L1294.1 827.2Z"/>
<path fill="#00008f" d="M1288.7 841L1311.9 834.7L1294.1 827.2L1270.9 833.6Z"/>
<path fill="#00008f" d="M1265.5 847.4L1288.7 841L1270.9 833.6L1247.7 839.9Z"/>
<path fill="#00008f" d="M1242.3 853.8L1265.5 847.4L1247.7 839.9L1224.5 846.3Z"/>
<path fill="#00008f" d="M1219.1 860.2L1242.3 853.8L1224.5 846.3L1201.3 852.8Z"/>
<path fill="#00008f" d="M1195.9 866.8L1219.1 860.2L1201.3 852.8L1178.1 859.2Z"/>
<path fill="#00008f" d="M1172.7 873.4L1195.9 866.8L1178.1 859.2L1154.9 865.7Z"/>
<path fill="#00008f" d="M1149.5 880.1L1172.7 873.4L1154.9 865.7L1131.7 872.1Z"/>
<path fill="#00008f" d="M1126.3 886.6L1149.5 880.1L1131.7 872.1L1108.5 878.1Z"/>
<path fill="#00008f" d="M1103.1 892.4L1126.3 886.6L1108.5 878.1L1085.3 883.3Z"/>
<path fill="#00008f" d="M1079.9 895.9L1103.1 892.4L1085.3 883.3L1062.1 886.2Z"/>
<path fill="#00009f" d="M1056.7 893.5L1079.9 895.9L1062.1 886.2L1038.9 883.3Z"/>
<path fill="#0000bf" d="M1033.5 877.1L1056.7 893.5L1038.9 883.3L1015.7 867.8Z"/>
<path fill="#0020ff" d="M1010.3 833.4L1033.5 877.1L1015.7 867.8L992.5 829.3Z"/>
<path fill="#00afff" d="M987.1 755.6L1010.3 833.4L992.5 829.3L969.3 764.5Z"/>
<path fill="#50ffaf" d="M963.9 671.4L987.1 755.6L969.3 764.5L946.1 698.9Z"/>
<path fill="#9fff60" d="M940.7 637L963.9 671.4L946.1 698.9L922.8 678.1Z"/>
<path fill="#70ff8f" d="M917.5 668.9L940.7 637L922.8 678.1L899.6 711.4Z"/>
<path fill="#10ffef" d="M894.2 732.8L917.5 668.9L899.6 711.4L876.4 768.2Z"/>
<path fill="#009fff" d="M871 795.7L894.2 732.8L876.4 768.2L853.2 821.8Z"/>
<path fill="#0050ff" d="M847.8 846L871 795.7L853.2 821.8L830 863.9Z"/>
<path fill="#0020ff" d="M824.6 883.6L847.8 846L830 863.9L806.8 895.3Z"/>
<path fill="#0000ff" d="M801.4 911.7L824.6 883.6L806.8 895.3L783.6 918.7Z"/>
<path fill="#0000df" d="M778.2 933.2L801.4 911.7L783.6 918.7L760.4 936.9Z"/>
<path fill="#0000cf" d="M755 950.3L778.2 933.2L760.4 936.9L737.2 951.4Z"/>
<path fill="#0000bf" d="M731.8 964.3L755 950.3L737.2 951.4L714 963.7Z"/>
<path fill="#0000af" d="M708.6 976.3L731.8 964.3L714 963.7L690.8 974.3Z"/>
<path fill="#0000af" d="M685.4 986.8L708.6 976.3L690.8 974.3L667.6 983.8Z"/>
<path fill="#00009f" d="M662.2 996.4L685.4 986.8L667.6 983.8L644.4 992.5Z"/>
<path fill="#00009f" d="M639 1005.2L662.2 996.4L644.4 992.5L621.2 1000.6Z"/>
<path fill="#00009f" d="M615.8 1013.5L639 1005.2L621.2 1000.6L598 1008.4Z"/>
<path fill="#00009f" d="M592.6 1021.3L615.8 1013.5L598 1008.4L574.8 1015.8Z"/>
<path fill="#00008f" d="M569.4 1028.9L592.6 1021.3L574.8 1015.8L551.6 1023.1Z"/>
<path fill="#00008f" d="M546.2 1036.2L569.4 1028.9L551.6 1023.1L528.4 1030.1Z"/>
<path fill="#00008f" d="M523 1043.4L546.2 1036.2L528.4 1030.1L505.2 1037Z"/>
<path fill="#00008f" d="M499.8 1050.4L523 1043.4L505.2 1037L482 1043.8Z"/>
<path fill="#00008f" d="M476.6 1057.2L499.8 1050.4L482 1043.8L458.8 1050.5Z"/>
<path fill="#00008f" d="M453.4 1064L476.6 1057.2L458.8 1050.5L435.6 1057.2Z"/>
<path fill="#00008f" d="M430.2 1070.7L453.4 1064L435.6 1057.2L412.4 1063.8Z"/>
<path fill="#00008f" d="M1352.9 835.2L1376.1 829L1358.3 822.1L1335.1 828.4Z"/>
<path fill="#00008f" d="M1329.7 841.4L1352.9 835.2L1335.1 828.4L1311.9 834.7Z"/>
<path fill="#00008f" d="M1306.5 847.7L1329.7 841.4L1311.9 834.7L1288.7 841Z"/>
<path fill="#00008f" d="M1283.3 853.9L1306.5 847.7L1288.7 841L1265.5 847.4Z"/>
<path fill="#00008f" d="M1260.1 860.3L1283.3 853.9L1265.5 847.4L1242.3 853.8Z"/>
<path fill="#00008f" d="M1236.9 866.8L1260.1 860.3L1242.3 853.8L1219.1 860.2Z"/>
<path fill="#00008f" d="M1213.7 873.4L1236.9 866.8L1219.1 860.2L1195.9 866.8Z"/>
<path fill="#00008f" d="M1190.5 880.1L1213.7 873.4L1195.9 866.8L1172.7 873.4Z"/>
<path fill="#00008f" d="M1167.3 887.1L1190.5 880.1L1172.7 873.4L1149.5 880.1Z"/>
<path fill="#00008f" d="M1144.1 894.3L1167.3 887.1L1149.5 880.1L1126.3 886.6Z"/>
<path fill="#00008f" d="M1120.9 901.1L1144.1 894.3L1126.3 886.6L1103.1 892.4Z"/>
<path fill="#00008f" d="M1097.7 906.1L1120.9 901.1L1103.1 892.4L1079.9 895.9Z"/>
<path fill="#00008f" d="M1074.5 905.4L1097.7 906.1L1079.9 895.9L1056.7 893.5Z"/>
<path fill="#0000bf" stroke="none" d="M1051.3 889.5L1074.5 905.4L1056.7 893.5ZM1051.3 889.5L1056.7 893.5L1033.5 877.1Z"/><path fill="none" d="M1051.3 889.5L1074.5 905.4L1056.7 893.5L1033.5 877.1Z"/>
<path fill="#0020ff" d="M1028.1 841.6L1051.3 889.5L1033.5 877.1L1010.3 833.4Z"/>
<path fill="#00cfff" d="M1004.9 749.5L1028.1 841.6L1010.3 833.4L987.1 755.6Z"/>
<path fill="#9fff60" d="M981.7 641.2L1004.9 749.5L987.1 755.6L963.9 671.4Z"/>
<path fill="#ffef00" d="M958.5 586.3L981.7 641.2L963.9 671.4L940.7 637Z"/>
<path fill="#dfff20" d="M935.3 612.8L958.5 586.3L940.7 637L917.5 668.9Z"/>
<path fill="#70ff8f" stroke="none" d="M912.1 683.4L935.3 612.8L917.5 668.9ZM912.1 683.4L917.5 668.9L894.2 732.8Z"/><path fill="none" d="M912.1 683.4L935.3 612.8L917.5 668.9L894.2 732.8Z"/>
<path fill="#00ffff" stroke="none" d="M888.9 757.3L894.2 732.8L912.1 683.4ZM888.9 757.3L871 795.7L894.2 732.8Z"/><path fill="none" d="M888.9 757.3L912.1 683.4L894.2 732.8L871 795.7Z"/>
<path fill="#009fff" d="M865.7 817.9L888.9 757.3L871 795.7L847.8 846Z"/>
<path fill="#0050ff" d="M842.4 863.8L865.7 817.9L847.8 846L824.6 883.6Z"/>
<path fill="#0020ff" d="M819.2 898.1L842.4 863.8L824.6 883.6L801.4 911.7Z"/>
<path fill="#0000ff" d="M796 924.2L819.2 898.1L801.4 911.7L778.2 933.2Z"/>
<path fill="#0000df" d="M772.8 944.7L796 924.2L778.2 933.2L755 950.3Z"/>
<path fill="#0000cf" d="M749.6 961.3L772.8 944.7L755 950.3L731.8 964.3Z"/>
<path fill="#0000bf" d="M726.4 975.3L749.6 961.3L731.8 964.3L708.6 976.3Z"/>
<path fill="#0000af" d="M703.2 987.4L726.4 975.3L708.6 976.3L685.4 986.8Z"/>
<path fill="#0000af" d="M680 998.1L703.2 987.4L685.4 986.8L662.2 996.4Z"/>
<path fill="#0000af" d="M656.8 1007.8L680 998.1L662.2 996.4L639 1005.2Z"/>
<path fill="#00009f" d="M633.6 1016.9L656.8 1007.8L639 1005.2L615.8 1013.5Z"/>
<path fill="#00009f" d="M610.4 1025.4L633.6 1016.9L615.8 1013.5L592.6 1021.3Z"/>
<path fill="#00009f" d="M587.2 1033.4L610.4 1025.4L592.6 1021.3L569.4 1028.9Z"/>
<path fill="#00009f" d="M564 1041.2L587.2 1033.4L569.4 1028.9L546.2 1036.2Z"/>
<path fill="#00009f" d="M540.8 1048.7L564 1041.2L546.2 1036.2L523 1043.4Z"/>
<path fill="#00008f" d="M517.6 1056L540.8 1048.7L523 1043.4L499.8 1050.4Z"/>
<path fill="#00008f" d="M494.4 1063.1L517.6 1056L499.8 1050.4L476.6 1057.2Z"/>
<path fill="#00008f" d="M471.2 1070.2L494.4 1063.1L476.6 1057.2L453.4 1064Z"/>
<path fill="#00008f" d="M448 1077.1L471.2 1070.2L453.4 1064L430.2 1070.7Z"/>
<path fill="#00008f" d="M1370.7 840.7L1393.9 834.7L1376.1 829L1352.9 835.2Z"/>
<path fill="#00008f" d="M1347.5 846.7L1370.7 840.7L1352.9 835.2L1329.7 841.4Z"/>
<path fill="#00008f" d="M1324.3 852.7L1347.5 846.7L1329.7 841.4L1306.5 847.7Z"/>
<path fill="#00008f" d="M1301.1 858.8L1324.3 852.7L1306.5 847.7L1283.3 853.9Z"/>
<path fill="#00008f" d="M1277.9 865L1301.1 858.8L1283.3 853.9L1260.1 860.3Z"/>
<path fill="#00008f" d="M1254.7 871.2L1277.9 865L1260.1 860.3L1236.9 866.8Z"/>
<path fill="#00008f" d="M1231.5 877.7L1254.7 871.2L1236.9 866.8L1213.7 873.4Z"/>
<path fill="#00008f" d="M1208.3 884.6L1231.5 877.7L1213.7 873.4L1190.5 880.1Z"/>
<path fill="#00008f" d="M1185.1 891.9L1208.3 884.6L1190.5 880.1L1167.3 887.1Z"/>
<path fill="#00008f" d="M1161.9 899.7L1185.1 891.9L1167.3 887.1L1144.1 894.3Z"/>
<path fill="#00008f" d="M1138.7 908L1161.9 899.7L1144.1 894.3L1120.9 901.1Z"/>
<path fill="#00008f" d="M1115.5 915.5L1138.7 908L1120.9 901.1L1097.7 906.1Z"/>
<path fill="#00008f" d="M1092.3 918.5L1115.5 915.5L1097.7 906.1L1074.5 905.4Z"/>
<path fill="#0000af" d="M1069.1 906.3L1092.3 918.5L1074.5 905.4L1051.3 889.5Z"/>
<path fill="#0010ff" d="M1045.9 857.8L1069.1 906.3L1051.3 889.5L1028.1 841.6Z"/>
<path fill="#00dfff" d="M1022.7 752.3L1045.9 857.8L1028.1 841.6L1004.9 749.5Z"/>
<path fill="#dfff20" d="M999.5 614.6L1022.7 752.3L1004.9 749.5L981.7 641.2Z"/>
<path fill="#ff8000" d="M976.3 529.3L999.5 614.6L981.7 641.2L958.5 586.3Z"/>
<path fill="#ff8f00" d="M953.1 542.6L976.3 529.3L958.5 586.3L935.3 612.8Z"/>
<path fill="#efff10" d="M929.9 617.3L953.1 542.6L935.3 612.8L912.1 683.4Z"/>
<path fill="#70ff8f" stroke="none" d="M906.7 702.9L929.9 617.3L912.1 683.4ZM906.7 702.9L888.9 757.3L912.1 683.4Z"/><path fill="none" d="M906.7 702.9L929.9 617.3L912.1 683.4L888.9 757.3Z"/>
<path fill="#00efff" stroke="none" d="M883.5 775.9L888.9 757.3L906.7 702.9ZM883.5 775.9L865.7 817.9L888.9 757.3Z"/><path fill="none" d="M883.5 775.9L906.7 702.9L888.9 757.3L865.7 817.9Z"/>
<path fill="#009fff" stroke="none" d="M860.3 832.4L865.7 817.9L883.5 775.9ZM860.3 832.4L842.4 863.8L865.7 817.9Z"/><path fill="none" d="M860.3 832.4L883.5 775.9L865.7 817.9L842.4 863.8Z"/>
<path fill="#0050ff" stroke="none" d="M837.1 875L842.4 863.8L860.3 832.4ZM837.1 875L819.2 898.1L842.4 863.8Z"/><path fill="none" d="M837.1 875L860.3 832.4L842.4 863.8L819.2 898.1Z"/>
<path fill="#0030ff" stroke="none" d="M813.9 907.4L819.2 898.1L837.1 875ZM813.9 907.4L796 924.2L819.2 898.1Z"/><path fill="none" d="M813.9 907.4L837.1 875L819.2 898.1L796 924.2Z"/>
<path fill="#0000ff" stroke="none" d="M790.7 932.6L796 924.2L813.9 907.4ZM790.7 932.6L772.8 944.7L796 924.2Z"/><path fill="none" d="M790.7 932.6L813.9 907.4L796 924.2L772.8 944.7Z"/>
<path fill="#0000ef" d="M767.5 952.9L790.7 932.6L772.8 944.7L749.6 961.3Z"/>
<path fill="#0000df" d="M744.2 969.6L767.5 952.9L749.6 961.3L726.4 975.3Z"/>
<path fill="#0000cf" d="M721 983.9L744.2 969.6L726.4 975.3L703.2 987.4Z"/>
<path fill="#0000bf" d="M697.8 996.4L721 983.9L703.2 987.4L680 998.1Z"/>
<path fill="#0000bf" d="M674.6 1007.5L697.8 996.4L680 998.1L656.8 1007.8Z"/>
<path fill="#0000af" d="M651.4 1017.7L674.6 1007.5L656.8 1007.8L633.6 1016.9Z"/>
<path fill="#0000af" d="M628.2 1027.1L651.4 1017.7L633.6 1016.9L610.4 1025.4Z"/>
<path fill="#00009f" d="M605 1036L628.2 1027.1L610.4 1025.4L587.2 1033.4Z"/>
<path fill="#00009f" d="M581.8 1044.4L605 1036L587.2 1033.4L564 1041.2Z"/>
<path fill="#00009f" d="M558.6 1052.4L581.8 1044.4L564 1041.2L540.8 1048.7Z"/>
<path fill="#00009f" d="M535.4 1060.2L558.6 1052.4L540.8 1048.7L517.6 1056Z"/>
<path fill="#00009f" d="M512.2 1067.7L535.4 1060.2L517.6 1056L494.4 1063.1Z"/>
<path fill="#00009f" d="M489 1075.1L512.2 1067.7L494.4 1063.1L471.2 1070.2Z"/>
<path fill="#00009f" d="M465.8 1082.3L489 1075.1L471.2 1070.2L448 1077.1Z"/>
<path fill="#00009f" d="M1388.5 843.6L1411.7 838L1393.9 834.7L1370.7 840.7Z"/>
<path fill="#00009f" d="M1365.3 849.1L1388.5 843.6L1370.7 840.7L1347.5 846.7Z"/>
<path fill="#00009f" d="M1342.1 854.6L1365.3 849.1L1347.5 846.7L1324.3 852.7Z"/>
<path fill="#00009f" d="M1318.9 860.1L1342.1 854.6L1324.3 852.7L1301.1 858.8Z"/>
<path fill="#00009f" d="M1295.7 865.7L1318.9 860.1L1301.1 858.8L1277.9 865Z"/>
<path fill="#00009f" d="M1272.5 871.4L1295.7 865.7L1277.9 865L1254.7 871.2Z"/>
<path fill="#00009f" d="M1249.3 877.3L1272.5 871.4L1254.7 871.2L1231.5 877.7Z"/>
<path fill="#00009f" d="M1226.1 883.7L1249.3 877.3L1231.5 877.7L1208.3 884.6Z"/>
<path fill="#00009f" d="M1202.9 890.9L1226.1 883.7L1208.3 884.6L1185.1 891.9Z"/>
<path fill="#00009f" d="M1179.7 899.3L1202.9 890.9L1185.1 891.9L1161.9 899.7Z"/>
<path fill="#00008f" d="M1156.5 909.2L1179.7 899.3L1161.9 899.7L1138.7 908Z"/>
<path fill="#00008f" d="M1133.3 920.4L1156.5 909.2L1138.7 908L1115.5 915.5Z"/>
<path fill="#00008f" d="M1110.1 930L1133.3 920.4L1115.5 915.5L1092.3 918.5Z"/>
<path fill="#00009f" d="M1086.9 927.4L1110.1 930L1092.3 918.5L1069.1 906.3Z"/>
<path fill="#0000ef" d="M1063.7 886.7L1086.9 927.4L1069.1 906.3L1045.9 857.8Z"/>
<path fill="#00bfff" d="M1040.5 774.9L1063.7 886.7L1045.9 857.8L1022.7 752.3Z"/>
<path fill="#ffff00" d="M1017.3 606L1040.5 774.9L1022.7 752.3L999.5 614.6Z"/>
<path fill="#ff1000" d="M994.1 478.1L1017.3 606L999.5 614.6L976.3 529.3Z"/>
<path fill="#ef0000" d="M970.9 464.9L994.1 478.1L976.3 529.3L953.1 542.6Z"/>
<path fill="#ff7000" d="M947.7 536L970.9 464.9L953.1 542.6L929.9 617.3Z"/>
<path fill="#ffff00" stroke="none" d="M924.5 631.1L947.7 536L929.9 617.3ZM924.5 631.1L929.9 617.3L906.7 702.9Z"/><path fill="none" d="M924.5 631.1L947.7 536L929.9 617.3L906.7 702.9Z"/>
<path fill="#70ff8f" stroke="none" d="M901.3 717.4L924.5 631.1L906.7 702.9ZM901.3 717.4L906.7 702.9L883.5 775.9Z"/><path fill="none" d="M901.3 717.4L924.5 631.1L906.7 702.9L883.5 775.9Z"/>
<path fill="#00ffff" stroke="none" d="M878.1 786.3L901.3 717.4L883.5 775.9ZM878.1 786.3L883.5 775.9L860.3 832.4Z"/><path fill="none" d="M878.1 786.3L901.3 717.4L883.5 775.9L860.3 832.4Z"/>
<path fill="#009fff" stroke="none" d="M854.9 839.1L878.1 786.3L860.3 832.4ZM854.9 839.1L860.3 832.4L837.1 875Z"/><path fill="none" d="M854.9 839.1L878.1 786.3L860.3 832.4L837.1 875Z"/>
<path fill="#0070ff" stroke="none" d="M831.7 879.7L854.9 839.1L837.1 875ZM831.7 879.7L837.1 875L813.9 907.4Z"/><path fill="none" d="M831.7 879.7L854.9 839.1L837.1 875L813.9 907.4Z"/>
<path fill="#0040ff" stroke="none" d="M808.5 911.4L831.7 879.7L813.9 907.4ZM808.5 911.4L813.9 907.4L790.7 932.6Z"/><path fill="none" d="M808.5 911.4L831.7 879.7L813.9 907.4L790.7 932.6Z"/>
<path fill="#0020ff" stroke="none" d="M785.3 936.6L808.5 911.4L790.7 932.6ZM785.3 936.6L790.7 932.6L767.5 952.9Z"/><path fill="none" d="M785.3 936.6L808.5 911.4L790.7 932.6L767.5 952.9Z"/>
<path fill="#0000ff" stroke="none" d="M762.1 957.3L785.3 936.6L767.5 952.9ZM762.1 957.3L744.2 969.6L767.5 952.9Z"/><path fill="none" d="M762.1 957.3L785.3 936.6L767.5 952.9L744.2 969.6Z"/>
<path fill="#0000ef" stroke="none" d="M738.9 974.7L744.2 969.6L762.1 957.3ZM738.9 974.7L721 983.9L744.2 969.6Z"/><path fill="none" d="M738.9 974.7L762.1 957.3L744.2 969.6L721 983.9Z"/>
<path fill="#0000df" d="M715.7 989.6L738.9 974.7L721 983.9L697.8 996.4Z"/>
<path fill="#0000cf" d="M692.5 1002.8L715.7 989.6L697.8 996.4L674.6 1007.5Z"/>
<path fill="#0000bf" d="M669.3 1014.6L692.5 1002.8L674.6 1007.5L651.4 1017.7Z"/>
<path fill="#0000bf" d="M646.1 1025.4L669.3 1014.6L651.4 1017.7L628.2 1027.1Z"/>
<path fill="#0000af" d="M622.9 1035.4L646.1 1025.4L628.2 1027.1L605 1036Z"/>
<path fill="#0000af" d="M599.7 1044.7L622.9 1035.4L605 1036L581.8 1044.4Z"/>
<path fill="#0000af" d="M576.4 1053.6L599.7 1044.7L581.8 1044.4L558.6 1052.4Z"/>
<path fill="#0000af" d="M553.2 1062.1L576.4 1053.6L558.6 1052.4L535.4 1060.2Z"/>
<path fill="#00009f" d="M530 1070.2L553.2 1062.1L535.4 1060.2L512.2 1067.7Z"/>
<path fill="#00009f" d="M506.8 1078.1L530 1070.2L512.2 1067.7L489 1075.1Z"/>
<path fill="#00009f" d="M483.6 1085.7L506.8 1078.1L489 1075.1L465.8 1082.3Z"/>
<path fill="#0000af" d="M1406.3 841.7L1429.5 837L1411.7 838L1388.5 843.6Z"/>
<path fill="#0000af" d="M1383.1 846.2L1406.3 841.7L1388.5 843.6L1365.3 849.1Z"/>
<path fill="#0000af" stroke="none" d="M1359.9 850.6L1365.3 849.1L1383.1 846.2ZM1359.9 850.6L1342.1 854.6L1365.3 849.1Z"/><path fill="none" d="M1359.9 850.6L1383.1 846.2L1365.3 849.1L1342.1 854.6Z"/>
<path fill="#0000af" stroke="none" d="M1336.7 854.8L1359.9 850.6L1342.1 854.6ZM1336.7 854.8L1342.1 854.6L1318.9 860.1Z"/><path fill="none" d="M1336.7 854.8L1359.9 850.6L1342.1 854.6L1318.9 860.1Z"/>
<path fill="#0000bf" d="M1313.5 858.9L1336.7 854.8L1318.9 860.1L1295.7 865.7Z"/>
<path fill="#0000bf" d="M1290.3 862.9L1313.5 858.9L1295.7 865.7L1272.5 871.4Z"/>
<path fill="#0000bf" d="M1267.1 867.1L1290.3 862.9L1272.5 871.4L1249.3 877.3Z"/>
<path fill="#0000bf" d="M1243.9 871.7L1267.1 867.1L1249.3 877.3L1226.1 883.7Z"/>
<path fill="#0000cf" d="M1220.7 877.3L1243.9 871.7L1226.1 883.7L1202.9 890.9Z"/>
<path fill="#0000bf" d="M1197.5 884.7L1220.7 877.3L1202.9 890.9L1179.7 899.3Z"/>
<path fill="#0000bf" d="M1174.3 895.2L1197.5 884.7L1179.7 899.3L1156.5 909.2Z"/>
<path fill="#0000af" stroke="none" d="M1151.1 910.2L1174.3 895.2L1156.5 909.2ZM1151.1 910.2L1156.5 909.2L1133.3 920.4Z"/><path fill="none" d="M1151.1 910.2L1174.3 895.2L1156.5 909.2L1133.3 920.4Z"/>
<path fill="#00009f" stroke="none" d="M1127.9 929.3L1133.3 920.4L1151.1 910.2ZM1127.9 929.3L1110.1 930L1133.3 920.4Z"/><path fill="none" d="M1127.9 929.3L1151.1 910.2L1133.3 920.4L1110.1 930Z"/>
<path fill="#00008f" stroke="none" d="M1104.7 944.5L1110.1 930L1127.9 929.3ZM1104.7 944.5L1086.9 927.4L1110.1 930Z"/><path fill="none" d="M1104.7 944.5L1127.9 929.3L1110.1 930L1086.9 927.4Z"/>
<path fill="#0000af" stroke="none" d="M1081.5 927.9L1086.9 927.4L1104.7 944.5ZM1081.5 927.9L1063.7 886.7L1086.9 927.4Z"/><path fill="none" d="M1081.5 927.9L1104.7 944.5L1086.9 927.4L1063.7 886.7Z"/>
<path fill="#0070ff" d="M1058.3 830.4L1081.5 927.9L1063.7 886.7L1040.5 774.9Z"/>
<path fill="#cfff30" d="M1035.1 641.6L1058.3 830.4L1040.5 774.9L1017.3 606Z"/>
<path fill="#ef0000" d="M1011.9 462.9L1035.1 641.6L1017.3 606L994.1 478.1Z"/>
<path fill="#800000" d="M988.7 403.8L1011.9 462.9L994.1 478.1L970.9 464.9Z"/>
<path fill="#cf0000" d="M965.5 454.9L988.7 403.8L970.9 464.9L947.7 536Z"/>
<path fill="#ff7000" d="M942.3 550.5L965.5 454.9L947.7 536L924.5 631.1Z"/>
<path fill="#efff10" stroke="none" d="M919.1 646.3L942.3 550.5L924.5 631.1ZM919.1 646.3L924.5 631.1L901.3 717.4Z"/><path fill="none" d="M919.1 646.3L942.3 550.5L924.5 631.1L901.3 717.4Z"/>
<path fill="#70ff8f" stroke="none" d="M895.9 726.9L919.1 646.3L901.3 717.4ZM895.9 726.9L901.3 717.4L878.1 786.3Z"/><path fill="none" d="M895.9 726.9L919.1 646.3L901.3 717.4L878.1 786.3Z"/>
<path fill="#10ffef" stroke="none" d="M872.7 790.7L895.9 726.9L878.1 786.3ZM872.7 790.7L878.1 786.3L854.9 839.1Z"/><path fill="none" d="M872.7 790.7L895.9 726.9L878.1 786.3L854.9 839.1Z"/>
<path fill="#00bfff" d="M849.5 840.6L872.7 790.7L854.9 839.1L831.7 879.7Z"/>
<path fill="#0080ff" d="M826.3 879.8L849.5 840.6L831.7 879.7L808.5 911.4Z"/>
<path fill="#0050ff" d="M803.1 911.2L826.3 879.8L808.5 911.4L785.3 936.6Z"/>
<path fill="#0030ff" d="M779.9 936.9L803.1 911.2L785.3 936.6L762.1 957.3Z"/>
<path fill="#0020ff" stroke="none" d="M756.7 958.3L779.9 936.9L762.1 957.3ZM756.7 958.3L762.1 957.3L738.9 974.7Z"/><path fill="none" d="M756.7 958.3L779.9 936.9L762.1 957.3L738.9 974.7Z"/>
<path fill="#0000ff" stroke="none" d="M733.5 976.5L756.7 958.3L738.9 974.7ZM733.5 976.5L738.9 974.7L715.7 989.6Z"/><path fill="none" d="M733.5 976.5L756.7 958.3L738.9 974.7L715.7 989.6Z"/>
<path fill="#0000ef" stroke="none" d="M710.3 992.4L733.5 976.5L715.7 989.6ZM710.3 992.4L715.7 989.6L692.5 1002.8Z"/><path fill="none" d="M710.3 992.4L733.5 976.5L715.7 989.6L692.5 1002.8Z"/>
<path fill="#0000df" stroke="none" d="M687.1 1006.5L692.5 1002.8L710.3 992.4ZM687.1 1006.5L669.3 1014.6L692.5 1002.8Z"/><path fill="none" d="M687.1 1006.5L710.3 992.4L692.5 1002.8L669.3 1014.6Z"/>
<path fill="#0000cf" d="M663.9 1019.1L687.1 1006.5L669.3 1014.6L646.1 1025.4Z"/>
<path fill="#0000cf" d="M640.7 1030.7L663.9 1019.1L646.1 1025.4L622.9 1035.4Z"/>
<path fill="#0000bf" d="M617.5 1041.4L640.7 1030.7L622.9 1035.4L599.7 1044.7Z"/>
<path fill="#0000bf" d="M594.3 1051.4L617.5 1041.4L599.7 1044.7L576.4 1053.6Z"/>
<path fill="#0000bf" d="M571.1 1060.9L594.3 1051.4L576.4 1053.6L553.2 1062.1Z"/>
<path fill="#0000af" d="M547.9 1069.9L571.1 1060.9L553.2 1062.1L530 1070.2Z"/>
<path fill="#0000af" d="M524.7 1078.5L547.9 1069.9L530 1070.2L506.8 1078.1Z"/>
<path fill="#0000af" d="M501.5 1086.8L524.7 1078.5L506.8 1078.1L483.6 1085.7Z"/>
<path fill="#0000cf" d="M1424.1 832.9L1447.3 829.9L1429.5 837L1406.3 841.7Z"/>
<path fill="#0000cf" d="M1400.9 835.5L1424.1 832.9L1406.3 841.7L1383.1 846.2Z"/>
<path fill="#0000df" d="M1377.7 837.6L1400.9 835.5L1383.1 846.2L1359.9 850.6Z"/>
<path fill="#0000df" d="M1354.5 839.2L1377.7 837.6L1359.9 850.6L1336.7 854.8Z"/>
<path fill="#0000ef" d="M1331.3 840.2L1354.5 839.2L1336.7 854.8L1313.5 858.9Z"/>
<path fill="#0000ef" d="M1308.1 840.6L1331.3 840.2L1313.5 858.9L1290.3 862.9Z"/>
<path fill="#0000ff" d="M1284.9 840.6L1308.1 840.6L1290.3 862.9L1267.1 867.1Z"/>
<path fill="#0010ff" d="M1261.7 840.5L1284.9 840.6L1267.1 867.1L1243.9 871.7Z"/>
<path fill="#0020ff" d="M1238.5 840.8L1261.7 840.5L1243.9 871.7L1220.7 877.3Z"/>
<path fill="#0020ff" d="M1215.3 842.9L1238.5 840.8L1220.7 877.3L1197.5 884.7Z"/>
<path fill="#0020ff" d="M1192.1 849.2L1215.3 842.9L1197.5 884.7L1174.3 895.2Z"/>
<path fill="#0010ff" d="M1168.9 863.6L1192.1 849.2L1174.3 895.2L1151.1 910.2Z"/>
<path fill="#0000ef" d="M1145.7 890.6L1168.9 863.6L1151.1 910.2L1127.9 929.3Z"/>
<path fill="#0000af" stroke="none" d="M1122.5 929.8L1145.7 890.6L1127.9 929.3ZM1122.5 929.8L1127.9 929.3L1104.7 944.5Z"/><path fill="none" d="M1122.5 929.8L1145.7 890.6L1127.9 929.3L1104.7 944.5Z"/>
<path fill="#00008f" stroke="none" d="M1099.3 959L1104.7 944.5L1122.5 929.8ZM1099.3 959L1081.5 927.9L1104.7 944.5Z"/><path fill="none" d="M1099.3 959L1122.5 929.8L1104.7 944.5L1081.5 927.9Z"/>
<path fill="#0000df" stroke="none" d="M1076.1 915.8L1099.3 959L1081.5 927.9ZM1076.1 915.8L1058.3 830.4L1081.5 927.9Z"/><path fill="none" d="M1076.1 915.8L1099.3 959L1081.5 927.9L1058.3 830.4Z"/>
<path fill="#20ffdf" d="M1052.9 748.1L1076.1 915.8L1058.3 830.4L1035.1 641.6Z"/>
<path fill="#ff6000" d="M1029.7 532.4L1052.9 748.1L1035.1 641.6L1011.9 462.9Z"/>
<path fill="#800000" stroke="none" d="M1006.5 412L1029.7 532.4L1011.9 462.9ZM1006.5 412L1011.9 462.9L988.7 403.8Z"/><path fill="none" d="M1006.5 412L1029.7 532.4L1011.9 462.9L988.7 403.8Z"/>
<path fill="#800000" stroke="none" d="M983.3 418.3L988.7 403.8L1006.5 412ZM983.3 418.3L965.5 454.9L988.7 403.8Z"/><path fill="none" d="M983.3 418.3L1006.5 412L988.7 403.8L965.5 454.9Z"/>
<path fill="#ef0000" d="M960.1 493.9L983.3 418.3L965.5 454.9L942.3 550.5Z"/>
<path fill="#ff8f00" d="M936.9 586.1L960.1 493.9L942.3 550.5L919.1 646.3Z"/>
<path fill="#dfff20" d="M913.7 670.7L936.9 586.1L919.1 646.3L895.9 726.9Z"/>
<path fill="#70ff8f" stroke="none" d="M890.5 741.3L913.7 670.7L895.9 726.9ZM890.5 741.3L895.9 726.9L872.7 790.7Z"/><path fill="none" d="M890.5 741.3L913.7 670.7L895.9 726.9L872.7 790.7Z"/>
<path fill="#20ffdf" stroke="none" d="M867.3 798.3L890.5 741.3L872.7 790.7ZM867.3 798.3L872.7 790.7L849.5 840.6Z"/><path fill="none" d="M867.3 798.3L890.5 741.3L872.7 790.7L849.5 840.6Z"/>
<path fill="#00cfff" d="M844.1 844.2L867.3 798.3L849.5 840.6L826.3 879.8Z"/>
<path fill="#009fff" d="M820.9 881.3L844.1 844.2L826.3 879.8L803.1 911.2Z"/>
<path fill="#0070ff" d="M797.7 911.9L820.9 881.3L803.1 911.2L779.9 936.9Z"/>
<path fill="#0050ff" d="M774.5 937.4L797.7 911.9L779.9 936.9L756.7 958.3Z"/>
<path fill="#0030ff" d="M751.3 959.2L774.5 937.4L756.7 958.3L733.5 976.5Z"/>
<path fill="#0020ff" stroke="none" d="M728.1 978L751.3 959.2L733.5 976.5ZM728.1 978L733.5 976.5L710.3 992.4Z"/><path fill="none" d="M728.1 978L751.3 959.2L733.5 976.5L710.3 992.4Z"/>
<path fill="#0000ff" stroke="none" d="M704.9 994.6L728.1 978L710.3 992.4ZM704.9 994.6L710.3 992.4L687.1 1006.5Z"/><path fill="none" d="M704.9 994.6L728.1 978L710.3 992.4L687.1 1006.5Z"/>
<path fill="#0000ff" stroke="none" d="M681.7 1009.4L704.9 994.6L687.1 1006.5ZM681.7 1009.4L687.1 1006.5L663.9 1019.1Z"/><path fill="none" d="M681.7 1009.4L704.9 994.6L687.1 1006.5L663.9 1019.1Z"/>
<path fill="#0000ef" stroke="none" d="M658.5 1022.8L663.9 1019.1L681.7 1009.4ZM658.5 1022.8L640.7 1030.7L663.9 1019.1Z"/><path fill="none" d="M658.5 1022.8L681.7 1009.4L663.9 1019.1L640.7 1030.7Z"/>
<path fill="#0000df" d="M635.3 1035L658.5 1022.8L640.7 1030.7L617.5 1041.4Z"/>
<path fill="#0000cf" d="M612.1 1046.4L635.3 1035L617.5 1041.4L594.3 1051.4Z"/>
<path fill="#0000cf" d="M588.9 1057L612.1 1046.4L594.3 1051.4L571.1 1060.9Z"/>
<path fill="#0000cf" d="M565.7 1067.1L588.9 1057L571.1 1060.9L547.9 1069.9Z"/>
<path fill="#0000bf" d="M542.5 1076.6L565.7 1067.1L547.9 1069.9L524.7 1078.5Z"/>
<path fill="#0000bf" d="M519.3 1085.7L542.5 1076.6L524.7 1078.5L501.5 1086.8Z"/>
<path fill="#0000ef" d="M1441.9 818.8L1465.1 818.2L1447.3 829.9L1424.1 832.9Z"/>
<path fill="#0000ff" d="M1418.7 818.5L1441.9 818.8L1424.1 832.9L1400.9 835.5Z"/>
<path fill="#0010ff" d="M1395.5 817.2L1418.7 818.5L1400.9 835.5L1377.7 837.6Z"/>
<path fill="#0020ff" d="M1372.3 814.6L1395.5 817.2L1377.7 837.6L1354.5 839.2Z"/>
<path fill="#0030ff" d="M1349.1 810.7L1372.3 814.6L1354.5 839.2L1331.3 840.2Z"/>
<path fill="#0040ff" d="M1325.9 805.1L1349.1 810.7L1331.3 840.2L1308.1 840.6Z"/>
<path fill="#0060ff" d="M1302.7 797.7L1325.9 805.1L1308.1 840.6L1284.9 840.6Z"/>
<path fill="#0080ff" d="M1279.5 788.5L1302.7 797.7L1284.9 840.6L1261.7 840.5Z"/>
<path fill="#008fff" d="M1256.3 777.9L1279.5 788.5L1261.7 840.5L1238.5 840.8Z"/>
<path fill="#00afff" d="M1233.1 767.1L1256.3 777.9L1238.5 840.8L1215.3 842.9Z"/>
<path fill="#00cfff" d="M1209.9 759L1233.1 767.1L1215.3 842.9L1192.1 849.2Z"/>
<path fill="#00dfff" d="M1186.7 759.9L1209.9 759L1192.1 849.2L1168.9 863.6Z"/>
<path fill="#00bfff" d="M1163.5 780.6L1186.7 759.9L1168.9 863.6L1145.7 890.6Z"/>
<path fill="#0070ff" d="M1140.3 834.2L1163.5 780.6L1145.7 890.6L1122.5 929.8Z"/>
<path fill="#0000df" stroke="none" d="M1117.1 917.7L1140.3 834.2L1122.5 929.8ZM1117.1 917.7L1122.5 929.8L1099.3 959Z"/><path fill="none" d="M1117.1 917.7L1140.3 834.2L1122.5 929.8L1099.3 959Z"/>
<path fill="#00008f" stroke="none" d="M1093.9 973.5L1099.3 959L1117.1 917.7ZM1093.9 973.5L1076.1 915.8L1099.3 959Z"/><path fill="none" d="M1093.9 973.5L1117.1 917.7L1099.3 959L1076.1 915.8Z"/>
<path fill="#0010ff" stroke="none" d="M1070.7 902.5L1076.1 915.8L1093.9 973.5ZM1070.7 902.5L1052.9 748.1L1076.1 915.8Z"/><path fill="none" d="M1070.7 902.5L1093.9 973.5L1076.1 915.8L1052.9 748.1Z"/>
<path fill="#70ff8f" stroke="none" d="M1047.5 712.1L1052.9 748.1L1070.7 902.5ZM1047.5 712.1L1029.7 532.4L1052.9 748.1Z"/><path fill="none" d="M1047.5 712.1L1070.7 902.5L1052.9 748.1L1029.7 532.4Z"/>
<path fill="#ff6000" d="M1024.3 546.9L1047.5 712.1L1029.7 532.4L1006.5 412Z"/>
<path fill="#ef0000" d="M1001.1 491.8L1024.3 546.9L1006.5 412L983.3 418.3Z"/>
<path fill="#ff1000" d="M977.9 521.6L1001.1 491.8L983.3 418.3L960.1 493.9Z"/>
<path fill="#ff8000" d="M954.7 587.2L977.9 521.6L960.1 493.9L936.9 586.1Z"/>
<path fill="#ffef00" d="M931.5 658.7L954.7 587.2L936.9 586.1L913.7 670.7Z"/>
<path fill="#9fff60" d="M908.3 723.9L931.5 658.7L913.7 670.7L890.5 741.3Z"/>
<path fill="#50ffaf" d="M885.1 779.5L908.3 723.9L890.5 741.3L867.3 798.3Z"/>
<path fill="#00ffff" d="M861.9 825.9L885.1 779.5L867.3 798.3L844.1 844.2Z"/>
<path fill="#00bfff" d="M838.7 864.6L861.9 825.9L844.1 844.2L820.9 881.3Z"/>
<path fill="#008fff" d="M815.5 897L838.7 864.6L820.9 881.3L797.7 911.9Z"/>
<path fill="#0070ff" d="M792.3 924.4L815.5 897L797.7 911.9L774.5 937.4Z"/>
<path fill="#0050ff" d="M769.1 948L792.3 924.4L774.5 937.4L751.3 959.2Z"/>
<path fill="#0040ff" d="M745.9 968.6L769.1 948L751.3 959.2L728.1 978Z"/>
<path fill="#0020ff" d="M722.7 986.7L745.9 968.6L728.1 978L704.9 994.6Z"/>
<path fill="#0010ff" d="M699.5 1002.9L722.7 986.7L704.9 994.6L681.7 1009.4Z"/>
<path fill="#0000ff" d="M676.3 1017.5L699.5 1002.9L681.7 1009.4L658.5 1022.8Z"/>
<path fill="#0000ef" d="M653.1 1030.9L676.3 1017.5L658.5 1022.8L635.3 1035Z"/>
<path fill="#0000ef" d="M629.9 1043.3L653.1 1030.9L635.3 1035L612.1 1046.4Z"/>
<path fill="#0000df" d="M606.7 1054.8L629.9 1043.3L612.1 1046.4L588.9 1057Z"/>
<path fill="#0000df" d="M583.5 1065.6L606.7 1054.8L588.9 1057L565.7 1067.1Z"/>
<path fill="#0000cf" d="M560.3 1075.9L583.5 1065.6L565.7 1067.1L542.5 1076.6Z"/>
<path fill="#0000cf" d="M537.1 1085.6L560.3 1075.9L542.5 1076.6L519.3 1085.7Z"/>
<path fill="#0010ff" d="M1459.7 809.9L1482.9 811.5L1465.1 818.2L1441.9 818.8Z"/>
<path fill="#0020ff" d="M1436.5 806.9L1459.7 809.9L1441.9 818.8L1418.7 818.5Z"/>
<path fill="#0030ff" d="M1413.3 802.4L1436.5 806.9L1418.7 818.5L1395.5 817.2Z"/>
<path fill="#0050ff" d="M1390.1 795.8L1413.3 802.4L1395.5 817.2L1372.3 814.6Z"/>
<path fill="#0070ff" d="M1366.9 786.7L1390.1 795.8L1372.3 814.6L1349.1 810.7Z"/>
<path fill="#008fff" d="M1343.7 774.7L1366.9 786.7L1349.1 810.7L1325.9 805.1Z"/>
<path fill="#00afff" d="M1320.5 758.9L1343.7 774.7L1325.9 805.1L1302.7 797.7Z"/>
<path fill="#00dfff" d="M1297.3 738.9L1320.5 758.9L1302.7 797.7L1279.5 788.5Z"/>
<path fill="#20ffdf" d="M1274.1 714.1L1297.3 738.9L1279.5 788.5L1256.3 777.9Z"/>
<path fill="#50ffaf" d="M1250.9 684.7L1274.1 714.1L1256.3 777.9L1233.1 767.1Z"/>
<path fill="#9fff60" d="M1227.7 652.7L1250.9 684.7L1233.1 767.1L1209.9 759Z"/>
<path fill="#dfff20" d="M1204.5 624.1L1227.7 652.7L1209.9 759L1186.7 759.9Z"/>
<path fill="#ffff00" d="M1181.3 613.6L1204.5 624.1L1186.7 759.9L1163.5 780.6Z"/>
<path fill="#cfff30" d="M1158.1 647.3L1181.3 613.6L1163.5 780.6L1140.3 834.2Z"/>
<path fill="#20ffdf" d="M1134.9 751.9L1158.1 647.3L1140.3 834.2L1117.1 917.7Z"/>
<path fill="#0010ff" stroke="none" d="M1111.7 904.4L1134.9 751.9L1117.1 917.7ZM1111.7 904.4L1117.1 917.7L1093.9 973.5Z"/><path fill="none" d="M1111.7 904.4L1134.9 751.9L1117.1 917.7L1093.9 973.5Z"/>
<path fill="#00008f" stroke="none" d="M1088.5 988L1111.7 904.4L1093.9 973.5ZM1088.5 988L1070.7 902.5L1093.9 973.5Z"/><path fill="none" d="M1088.5 988L1111.7 904.4L1093.9 973.5L1070.7 902.5Z"/>
<path fill="#0010ff" stroke="none" d="M1065.3 916.9L1070.7 902.5L1088.5 988ZM1065.3 916.9L1047.5 712.1L1070.7 902.5Z"/><path fill="none" d="M1065.3 916.9L1088.5 988L1070.7 902.5L1047.5 712.1Z"/>
<path fill="#20ffdf" d="M1042.1 777.1L1065.3 916.9L1047.5 712.1L1024.3 546.9Z"/>
<path fill="#cfff30" d="M1018.9 685L1042.1 777.1L1024.3 546.9L1001.1 491.8Z"/>
<path fill="#ffff00" d="M995.7 663.9L1018.9 685L1001.1 491.8L977.9 521.6Z"/>
<path fill="#dfff20" d="M972.5 687L995.7 663.9L977.9 521.6L954.7 587.2Z"/>
<path fill="#9fff60" d="M949.3 728.1L972.5 687L954.7 587.2L931.5 658.7Z"/>
<path fill="#50ffaf" d="M926.1 772.8L949.3 728.1L931.5 658.7L908.3 723.9Z"/>
<path fill="#20ffdf" d="M902.9 814.7L926.1 772.8L908.3 723.9L885.1 779.5Z"/>
<path fill="#00dfff" d="M879.7 852.1L902.9 814.7L885.1 779.5L861.9 825.9Z"/>
<path fill="#00afff" d="M856.5 884.7L879.7 852.1L861.9 825.9L838.7 864.6Z"/>
<path fill="#008fff" d="M833.3 913L856.5 884.7L838.7 864.6L815.5 897Z"/>
<path fill="#0070ff" d="M810.1 937.6L833.3 913L815.5 897L792.3 924.4Z"/>
<path fill="#0050ff" d="M786.9 959.2L810.1 937.6L792.3 924.4L769.1 948Z"/>
<path fill="#0030ff" d="M763.7 978.4L786.9 959.2L769.1 948L745.9 968.6Z"/>
<path fill="#0020ff" d="M740.5 995.6L763.7 978.4L745.9 968.6L722.7 986.7Z"/>
<path fill="#0010ff" d="M717.3 1011.1L740.5 995.6L722.7 986.7L699.5 1002.9Z"/>
<path fill="#0000ff" d="M694.1 1025.2L717.3 1011.1L699.5 1002.9L676.3 1017.5Z"/>
<path fill="#0000ff" d="M670.9 1038.3L694.1 1025.2L676.3 1017.5L653.1 1030.9Z"/>
<path fill="#0000ef" d="M647.7 1050.4L670.9 1038.3L653.1 1030.9L629.9 1043.3Z"/>
<path fill="#0000df" d="M624.5 1061.8L647.7 1050.4L629.9 1043.3L606.7 1054.8Z"/>
<path fill="#0000df" d="M601.3 1072.5L624.5 1061.8L606.7 1054.8L583.5 1065.6Z"/>
<path fill="#0000cf" d="M578.1 1082.7L601.3 1072.5L583.5 1065.6L560.3 1075.9Z"/>
<path fill="#0000cf" d="M554.9 1092.4L578.1 1082.7L560.3 1075.9L537.1 1085.6Z"/>
<path fill="#0010ff" d="M1477.5 818.1L1500.7 820.1L1482.9 811.5L1459.7 809.9Z"/>
<path fill="#0020ff" d="M1454.3 814.4L1477.5 818.1L1459.7 809.9L1436.5 806.9Z"/>
<path fill="#0040ff" d="M1431.1 808.9L1454.3 814.4L1436.5 806.9L1413.3 802.4Z"/>
<path fill="#0050ff" stroke="none" d="M1407.9 800.9L1413.3 802.4L1431.1 808.9ZM1407.9 800.9L1390.1 795.8L1413.3 802.4Z"/><path fill="none" d="M1407.9 800.9L1431.1 808.9L1413.3 802.4L1390.1 795.8Z"/>
<path fill="#0070ff" d="M1384.7 789.9L1407.9 800.9L1390.1 795.8L1366.9 786.7Z"/>
<path fill="#008fff" d="M1361.5 775L1384.7 789.9L1366.9 786.7L1343.7 774.7Z"/>
<path fill="#00bfff" d="M1338.3 755.2L1361.5 775L1343.7 774.7L1320.5 758.9Z"/>
<path fill="#00ffff" d="M1315.1 729.1L1338.3 755.2L1320.5 758.9L1297.3 738.9Z"/>
<path fill="#50ffaf" d="M1291.9 695.3L1315.1 729.1L1297.3 738.9L1274.1 714.1Z"/>
<path fill="#9fff60" d="M1268.7 652.2L1291.9 695.3L1274.1 714.1L1250.9 684.7Z"/>
<path fill="#ffef00" d="M1245.5 599.7L1268.7 652.2L1250.9 684.7L1227.7 652.7Z"/>
<path fill="#ff8000" d="M1222.3 540.7L1245.5 599.7L1227.7 652.7L1204.5 624.1Z"/>
<path fill="#ff1000" d="M1199.1 487.7L1222.3 540.7L1204.5 624.1L1181.3 613.6Z"/>
<path fill="#ef0000" d="M1175.9 470.5L1199.1 487.7L1181.3 613.6L1158.1 647.3Z"/>
<path fill="#ff6000" d="M1152.7 538.2L1175.9 470.5L1158.1 647.3L1134.9 751.9Z"/>
<path fill="#70ff8f" d="M1129.5 715.9L1152.7 538.2L1134.9 751.9L1111.7 904.4Z"/>
<path fill="#0010ff" stroke="none" d="M1106.3 918.8L1129.5 715.9L1111.7 904.4ZM1106.3 918.8L1111.7 904.4L1088.5 988Z"/><path fill="none" d="M1106.3 918.8L1129.5 715.9L1111.7 904.4L1088.5 988Z"/>
<path fill="#00008f" stroke="none" d="M1083.1 1002.5L1106.3 918.8L1088.5 988ZM1083.1 1002.5L1065.3 916.9L1088.5 988Z"/><path fill="none" d="M1083.1 1002.5L1106.3 918.8L1088.5 988L1065.3 916.9Z"/>
<path fill="#0000df" stroke="none" d="M1059.9 959.3L1065.3 916.9L1083.1 1002.5ZM1059.9 959.3L1042.1 777.1L1065.3 916.9Z"/><path fill="none" d="M1059.9 959.3L1083.1 1002.5L1065.3 916.9L1042.1 777.1Z"/>
<path fill="#0070ff" d="M1036.7 888.3L1059.9 959.3L1042.1 777.1L1018.9 685Z"/>
<path fill="#00bfff" d="M1013.5 847.3L1036.7 888.3L1018.9 685L995.7 663.9Z"/>
<path fill="#00dfff" d="M990.3 839.2L1013.5 847.3L995.7 663.9L972.5 687Z"/>
<path fill="#00cfff" d="M967.1 850.8L990.3 839.2L972.5 687L949.3 728.1Z"/>
<path fill="#00afff" d="M943.9 871.5L967.1 850.8L949.3 728.1L926.1 772.8Z"/>
<path fill="#008fff" d="M920.7 894.9L943.9 871.5L926.1 772.8L902.9 814.7Z"/>
<path fill="#0080ff" d="M897.5 918L920.7 894.9L902.9 814.7L879.7 852.1Z"/>
<path fill="#0060ff" d="M874.3 939.8L897.5 918L879.7 852.1L856.5 884.7Z"/>
<path fill="#0040ff" d="M851.1 959.8L874.3 939.8L856.5 884.7L833.3 913Z"/>
<path fill="#0030ff" d="M827.9 978L851.1 959.8L833.3 913L810.1 937.6Z"/>
<path fill="#0020ff" d="M804.7 994.5L827.9 978L810.1 937.6L786.9 959.2Z"/>
<path fill="#0010ff" d="M781.5 1009.6L804.7 994.5L786.9 959.2L763.7 978.4Z"/>
<path fill="#0000ff" d="M758.3 1023.5L781.5 1009.6L763.7 978.4L740.5 995.6Z"/>
<path fill="#0000ef" d="M735.1 1036.4L758.3 1023.5L740.5 995.6L717.3 1011.1Z"/>
<path fill="#0000ef" d="M711.9 1048.4L735.1 1036.4L717.3 1011.1L694.1 1025.2Z"/>
<path fill="#0000df" d="M688.7 1059.6L711.9 1048.4L694.1 1025.2L670.9 1038.3Z"/>
<path fill="#0000df" d="M665.5 1070.3L688.7 1059.6L670.9 1038.3L647.7 1050.4Z"/>
<path fill="#0000cf" d="M642.3 1080.3L665.5 1070.3L647.7 1050.4L624.5 1061.8Z"/>
<path fill="#0000cf" d="M619.1 1090L642.3 1080.3L624.5 1061.8L601.3 1072.5Z"/>
<path fill="#0000bf" d="M595.9 1099.2L619.1 1090L601.3 1072.5L578.1 1082.7Z"/>
<path fill="#0000bf" d="M572.7 1108.1L595.9 1099.2L578.1 1082.7L554.9 1092.4Z"/>
<path fill="#0000ff" d="M1495.3 840.9L1518.5 841.8L1500.7 820.1L1477.5 818.1Z"/>
<path fill="#0000ff" d="M1472.1 838.7L1495.3 840.9L1477.5 818.1L1454.3 814.4Z"/>
<path fill="#0020ff" d="M1448.9 834.7L1472.1 838.7L1454.3 814.4L1431.1 808.9Z"/>
<path fill="#0030ff" d="M1425.7 828.5L1448.9 834.7L1431.1 808.9L1407.9 800.9Z"/>
<path fill="#0050ff" d="M1402.5 819.3L1425.7 828.5L1407.9 800.9L1384.7 789.9Z"/>
<path fill="#0070ff" d="M1379.3 806.3L1402.5 819.3L1384.7 789.9L1361.5 775Z"/>
<path fill="#009fff" d="M1356.1 788.3L1379.3 806.3L1361.5 775L1338.3 755.2Z"/>
<path fill="#00cfff" d="M1332.9 763.8L1356.1 788.3L1338.3 755.2L1315.1 729.1Z"/>
<path fill="#20ffdf" d="M1309.7 730.5L1332.9 763.8L1315.1 729.1L1291.9 695.3Z"/>
<path fill="#70ff8f" stroke="none" d="M1286.5 686.1L1291.9 695.3L1309.7 730.5ZM1286.5 686.1L1268.7 652.2L1291.9 695.3Z"/><path fill="none" d="M1286.5 686.1L1309.7 730.5L1291.9 695.3L1268.7 652.2Z"/>
<path fill="#dfff20" d="M1263.3 628.1L1286.5 686.1L1268.7 652.2L1245.5 599.7Z"/>
<path fill="#ff8f00" d="M1240.1 556L1263.3 628.1L1245.5 599.7L1222.3 540.7Z"/>
<path fill="#ef0000" d="M1216.9 476.3L1240.1 556L1222.3 540.7L1199.1 487.7Z"/>
<path fill="#800000" d="M1193.7 413.3L1216.9 476.3L1199.1 487.7L1175.9 470.5Z"/>
<path fill="#800000" d="M1170.5 419.6L1193.7 413.3L1175.9 470.5L1152.7 538.2Z"/>
<path fill="#ff6000" stroke="none" d="M1147.3 552.6L1170.5 419.6L1152.7 538.2ZM1147.3 552.6L1152.7 538.2L1129.5 715.9Z"/><path fill="none" d="M1147.3 552.6L1170.5 419.6L1152.7 538.2L1129.5 715.9Z"/>
<path fill="#20ffdf" stroke="none" d="M1124.1 780.9L1129.5 715.9L1147.3 552.6ZM1124.1 780.9L1106.3 918.8L1129.5 715.9Z"/><path fill="none" d="M1124.1 780.9L1147.3 552.6L1129.5 715.9L1106.3 918.8Z"/>
<path fill="#0000df" stroke="none" d="M1100.9 961.2L1106.3 918.8L1124.1 780.9ZM1100.9 961.2L1083.1 1002.5L1106.3 918.8Z"/><path fill="none" d="M1100.9 961.2L1124.1 780.9L1106.3 918.8L1083.1 1002.5Z"/>
<path fill="#00008f" stroke="none" d="M1077.7 1016.9L1083.1 1002.5L1100.9 961.2ZM1077.7 1016.9L1059.9 959.3L1083.1 1002.5Z"/><path fill="none" d="M1077.7 1016.9L1100.9 961.2L1083.1 1002.5L1059.9 959.3Z"/>
<path fill="#0000af" d="M1054.5 1000.3L1077.7 1016.9L1059.9 959.3L1036.7 888.3Z"/>
<path fill="#0000ef" d="M1031.3 973.6L1054.5 1000.3L1036.7 888.3L1013.5 847.3Z"/>
<path fill="#0010ff" d="M1008.1 959.2L1031.3 973.6L1013.5 847.3L990.3 839.2Z"/>
<path fill="#0020ff" d="M984.9 957.4L1008.1 959.2L990.3 839.2L967.1 850.8Z"/>
<path fill="#0020ff" d="M961.7 963.7L984.9 957.4L967.1 850.8L943.9 871.5Z"/>
<path fill="#0020ff" d="M938.5 974.2L961.7 963.7L943.9 871.5L920.7 894.9Z"/>
<path fill="#0010ff" d="M915.3 986.4L938.5 974.2L920.7 894.9L897.5 918Z"/>
<path fill="#0000ff" d="M892.1 999.1L915.3 986.4L897.5 918L874.3 939.8Z"/>
<path fill="#0000ef" d="M868.9 1011.7L892.1 999.1L874.3 939.8L851.1 959.8Z"/>
<path fill="#0000ef" d="M845.7 1023.8L868.9 1011.7L851.1 959.8L827.9 978Z"/>
<path fill="#0000df" d="M822.5 1035.4L845.7 1023.8L827.9 978L804.7 994.5Z"/>
<path fill="#0000df" d="M799.3 1046.4L822.5 1035.4L804.7 994.5L781.5 1009.6Z"/>
<path fill="#0000cf" d="M776.1 1056.9L799.3 1046.4L781.5 1009.6L758.3 1023.5Z"/>
<path fill="#0000cf" d="M752.9 1066.9L776.1 1056.9L758.3 1023.5L735.1 1036.4Z"/>
<path fill="#0000bf" d="M729.7 1076.5L752.9 1066.9L735.1 1036.4L711.9 1048.4Z"/>
<path fill="#0000bf" d="M706.5 1085.6L729.7 1076.5L711.9 1048.4L688.7 1059.6Z"/>
<path fill="#0000bf" d="M683.3 1094.5L706.5 1085.6L688.7 1059.6L665.5 1070.3Z"/>
<path fill="#0000af" d="M660.2 1103.1L683.3 1094.5L665.5 1070.3L642.3 1080.3Z"/>
<path fill="#0000af" d="M637 1111.4L660.2 1103.1L642.3 1080.3L619.1 1090Z"/>
<path fill="#0000af" d="M613.8 1119.5L637 1111.4L619.1 1090L595.9 1099.2Z"/>
<path fill="#0000af" d="M590.6 1127.4L613.8 1119.5L595.9 1099.2L572.7 1108.1Z"/>
<path fill="#0000cf" d="M1513.1 867.1L1536.3 866.1L1518.5 841.8L1495.3 840.9Z"/>
<path fill="#0000df" d="M1489.9 867L1513.1 867.1L1495.3 840.9L1472.1 838.7Z"/>
<path fill="#0000ef" d="M1466.7 865.5L1489.9 867L1472.1 838.7L1448.9 834.7Z"/>
<path fill="#0000ff" d="M1443.5 862.2L1466.7 865.5L1448.9 834.7L1425.7 828.5Z"/>
<path fill="#0020ff" d="M1420.3 856.5L1443.5 862.2L1425.7 828.5L1402.5 819.3Z"/>
<path fill="#0030ff" d="M1397.1 847.7L1420.3 856.5L1402.5 819.3L1379.3 806.3Z"/>
<path fill="#0050ff" d="M1373.9 834.6L1397.1 847.7L1379.3 806.3L1356.1 788.3Z"/>
<path fill="#0080ff" d="M1350.7 815.8L1373.9 834.6L1356.1 788.3L1332.9 763.8Z"/>
<path fill="#00bfff" d="M1327.5 789.1L1350.7 815.8L1332.9 763.8L1309.7 730.5Z"/>
<path fill="#10ffef" d="M1304.3 751.8L1327.5 789.1L1309.7 730.5L1286.5 686.1Z"/>
<path fill="#70ff8f" d="M1281.1 700.6L1304.3 751.8L1286.5 686.1L1263.3 628.1Z"/>
<path fill="#efff10" d="M1257.9 632.6L1281.1 700.6L1263.3 628.1L1240.1 556Z"/>
<path fill="#ff7000" d="M1234.7 549.3L1257.9 632.6L1240.1 556L1216.9 476.3Z"/>
<path fill="#cf0000" stroke="none" d="M1211.5 466.4L1216.9 476.3L1234.7 549.3ZM1211.5 466.4L1193.7 413.3L1216.9 476.3Z"/><path fill="none" d="M1211.5 466.4L1234.7 549.3L1216.9 476.3L1193.7 413.3Z"/>
<path fill="#800000" stroke="none" d="M1188.3 427.8L1193.7 413.3L1211.5 466.4ZM1188.3 427.8L1170.5 419.6L1193.7 413.3Z"/><path fill="none" d="M1188.3 427.8L1211.5 466.4L1193.7 413.3L1170.5 419.6Z"/>
<path fill="#ef0000" d="M1165.1 499.5L1188.3 427.8L1170.5 419.6L1147.3 552.6Z"/>
<path fill="#cfff30" d="M1141.9 690.7L1165.1 499.5L1147.3 552.6L1124.1 780.9Z"/>
<path fill="#0070ff" d="M1118.7 892.1L1141.9 690.7L1124.1 780.9L1100.9 961.2Z"/>
<path fill="#0000af" stroke="none" d="M1095.5 1002.3L1100.9 961.2L1118.7 892.1ZM1095.5 1002.3L1077.7 1016.9L1100.9 961.2Z"/><path fill="none" d="M1095.5 1002.3L1118.7 892.1L1100.9 961.2L1077.7 1016.9Z"/>
<path fill="#00008f" stroke="none" d="M1072.3 1031.4L1077.7 1016.9L1095.5 1002.3ZM1072.3 1031.4L1054.5 1000.3L1077.7 1016.9Z"/><path fill="none" d="M1072.3 1031.4L1095.5 1002.3L1077.7 1016.9L1054.5 1000.3Z"/>
<path fill="#00009f" d="M1049.1 1028.8L1072.3 1031.4L1054.5 1000.3L1031.3 973.6Z"/>
<path fill="#0000af" d="M1025.9 1022.2L1049.1 1028.8L1031.3 973.6L1008.1 959.2Z"/>
<path fill="#0000bf" d="M1002.7 1019.8L1025.9 1022.2L1008.1 959.2L984.9 957.4Z"/>
<path fill="#0000bf" d="M979.5 1021.9L1002.7 1019.8L984.9 957.4L961.7 963.7Z"/>
<path fill="#0000cf" d="M956.3 1027.1L979.5 1021.9L961.7 963.7L938.5 974.2Z"/>
<path fill="#0000bf" d="M933.1 1034.1L956.3 1027.1L938.5 974.2L915.3 986.4Z"/>
<path fill="#0000bf" d="M909.9 1042L933.1 1034.1L915.3 986.4L892.1 999.1Z"/>
<path fill="#0000bf" d="M886.7 1050.4L909.9 1042L892.1 999.1L868.9 1011.7Z"/>
<path fill="#0000bf" d="M863.5 1059L886.7 1050.4L868.9 1011.7L845.7 1023.8Z"/>
<path fill="#0000af" d="M840.3 1067.4L863.5 1059L845.7 1023.8L822.5 1035.4Z"/>
<path fill="#0000af" d="M817.2 1075.8L840.3 1067.4L822.5 1035.4L799.3 1046.4Z"/>
<path fill="#0000af" d="M794 1084L817.2 1075.8L799.3 1046.4L776.1 1056.9Z"/>
<path fill="#0000af" d="M770.8 1092.1L794 1084L776.1 1056.9L752.9 1066.9Z"/>
<path fill="#0000af" d="M747.6 1100L770.8 1092.1L752.9 1066.9L729.7 1076.5Z"/>
<path fill="#00009f" d="M724.4 1107.7L747.6 1100L729.7 1076.5L706.5 1085.6Z"/>
<path fill="#00009f" d="M701.2 1115.3L724.4 1107.7L706.5 1085.6L683.3 1094.5Z"/>
<path fill="#00009f" d="M678 1122.7L701.2 1115.3L683.3 1094.5L660.2 1103.1Z"/>
<path fill="#00009f" d="M654.8 1130.1L678 1122.7L660.2 1103.1L637 1111.4Z"/>
<path fill="#00009f" d="M631.6 1137.3L654.8 1130.1L637 1111.4L613.8 1119.5Z"/>
<path fill="#00009f" d="M608.4 1144.5L631.6 1137.3L613.8 1119.5L590.6 1127.4Z"/>
<path fill="#0000bf" d="M1530.9 889.7L1554.1 887.1L1536.3 866.1L1513.1 867.1Z"/>
<path fill="#0000bf" d="M1507.7 891.5L1530.9 889.7L1513.1 867.1L1489.9 867Z"/>
<path fill="#0000cf" d="M1484.5 892.3L1507.7 891.5L1489.9 867L1466.7 865.5Z"/>
<path fill="#0000df" d="M1461.3 891.7L1484.5 892.3L1466.7 865.5L1443.5 862.2Z"/>
<path fill="#0000ef" d="M1438.1 889.3L1461.3 891.7L1443.5 862.2L1420.3 856.5Z"/>
<path fill="#0000ff" d="M1414.9 884.5L1438.1 889.3L1420.3 856.5L1397.1 847.7Z"/>
<path fill="#0020ff" d="M1391.7 876.4L1414.9 884.5L1397.1 847.7L1373.9 834.6Z"/>
<path fill="#0040ff" d="M1368.5 863.7L1391.7 876.4L1373.9 834.6L1350.7 815.8Z"/>
<path fill="#0070ff" d="M1345.3 844.7L1368.5 863.7L1350.7 815.8L1327.5 789.1Z"/>
<path fill="#009fff" d="M1322.1 816.7L1345.3 844.7L1327.5 789.1L1304.3 751.8Z"/>
<path fill="#00ffff" d="M1298.9 776.4L1322.1 816.7L1304.3 751.8L1281.1 700.6Z"/>
<path fill="#70ff8f" d="M1275.7 720.1L1298.9 776.4L1281.1 700.6L1257.9 632.6Z"/>
<path fill="#ffff00" d="M1252.5 646.4L1275.7 720.1L1257.9 632.6L1234.7 549.3Z"/>
<path fill="#ff7000" d="M1229.3 563.8L1252.5 646.4L1234.7 549.3L1211.5 466.4Z"/>
<path fill="#ef0000" d="M1206.1 505.3L1229.3 563.8L1211.5 466.4L1188.3 427.8Z"/>
<path fill="#ff1000" d="M1182.9 531.1L1206.1 505.3L1188.3 427.8L1165.1 499.5Z"/>
<path fill="#ffff00" d="M1159.7 671.5L1182.9 531.1L1165.1 499.5L1141.9 690.7Z"/>
<path fill="#00bfff" d="M1136.5 853L1159.7 671.5L1141.9 690.7L1118.7 892.1Z"/>
<path fill="#0000ef" d="M1113.3 977.5L1136.5 853L1118.7 892.1L1095.5 1002.3Z"/>
<path fill="#00009f" stroke="none" d="M1090.1 1030.7L1095.5 1002.3L1113.3 977.5ZM1090.1 1030.7L1072.3 1031.4L1095.5 1002.3Z"/><path fill="none" d="M1090.1 1030.7L1113.3 977.5L1095.5 1002.3L1072.3 1031.4Z"/>
<path fill="#00008f" stroke="none" d="M1066.9 1045.9L1072.3 1031.4L1090.1 1030.7ZM1066.9 1045.9L1049.1 1028.8L1072.3 1031.4Z"/><path fill="none" d="M1066.9 1045.9L1090.1 1030.7L1072.3 1031.4L1049.1 1028.8Z"/>
<path fill="#00008f" d="M1043.7 1048.9L1066.9 1045.9L1049.1 1028.8L1025.9 1022.2Z"/>
<path fill="#00008f" d="M1020.5 1050.2L1043.7 1048.9L1025.9 1022.2L1002.7 1019.8Z"/>
<path fill="#00009f" d="M997.3 1052.8L1020.5 1050.2L1002.7 1019.8L979.5 1021.9Z"/>
<path fill="#00009f" d="M974.1 1057L997.3 1052.8L979.5 1021.9L956.3 1027.1Z"/>
<path fill="#00009f" d="M951 1062.4L974.1 1057L956.3 1027.1L933.1 1034.1Z"/>
<path fill="#00009f" d="M927.8 1068.6L951 1062.4L933.1 1034.1L909.9 1042Z"/>
<path fill="#00009f" d="M904.6 1075.3L927.8 1068.6L909.9 1042L886.7 1050.4Z"/>
<path fill="#00009f" d="M881.4 1082.1L904.6 1075.3L886.7 1050.4L863.5 1059Z"/>
<path fill="#00009f" d="M858.2 1089.2L881.4 1082.1L863.5 1059L840.3 1067.4Z"/>
<path fill="#00009f" d="M835 1096.2L858.2 1089.2L840.3 1067.4L817.2 1075.8Z"/>
<path fill="#00009f" d="M811.8 1103.3L835 1096.2L817.2 1075.8L794 1084Z"/>
<path fill="#00009f" d="M788.6 1110.3L811.8 1103.3L794 1084L770.8 1092.1Z"/>
<path fill="#00009f" d="M765.4 1117.3L788.6 1110.3L770.8 1092.1L747.6 1100Z"/>
<path fill="#00009f" d="M742.2 1124.2L765.4 1117.3L747.6 1100L724.4 1107.7Z"/>
<path fill="#00008f" d="M719 1131.1L742.2 1124.2L724.4 1107.7L701.2 1115.3Z"/>
<path fill="#00008f" d="M695.8 1138L719 1131.1L701.2 1115.3L678 1122.7Z"/>
<path fill="#00008f" d="M672.6 1144.8L695.8 1138L678 1122.7L654.8 1130.1Z"/>
<path fill="#00008f" d="M649.4 1151.5L672.6 1144.8L654.8 1130.1L631.6 1137.3Z"/>
<path fill="#00008f" d="M626.2 1158.2L649.4 1151.5L631.6 1137.3L608.4 1144.5Z"/>
<path fill="#0000af" d="M1548.7 907.8L1571.9 904.1L1554.1 887.1L1530.9 889.7Z"/>
<path fill="#0000af" d="M1525.5 911L1548.7 907.8L1530.9 889.7L1507.7 891.5Z"/>
<path fill="#0000bf" d="M1502.3 913.4L1525.5 911L1507.7 891.5L1484.5 892.3Z"/>
<path fill="#0000bf" d="M1479.1 914.8L1502.3 913.4L1484.5 892.3L1461.3 891.7Z"/>
<path fill="#0000cf" d="M1455.9 915L1479.1 914.8L1461.3 891.7L1438.1 889.3Z"/>
<path fill="#0000df" d="M1432.7 913.3L1455.9 915L1438.1 889.3L1414.9 884.5Z"/>
<path fill="#0000ef" d="M1409.5 909.1L1432.7 913.3L1414.9 884.5L1391.7 876.4Z"/>
<path fill="#0000ff" d="M1386.3 901.4L1409.5 909.1L1391.7 876.4L1368.5 863.7Z"/>
<path fill="#0030ff" d="M1363.1 888.7L1386.3 901.4L1368.5 863.7L1345.3 844.7Z"/>
<path fill="#0050ff" d="M1339.9 868.9L1363.1 888.7L1345.3 844.7L1322.1 816.7Z"/>
<path fill="#009fff" d="M1316.7 838.9L1339.9 868.9L1322.1 816.7L1298.9 776.4Z"/>
<path fill="#00efff" d="M1293.5 795L1316.7 838.9L1298.9 776.4L1275.7 720.1Z"/>
<path fill="#70ff8f" d="M1270.3 734.5L1293.5 795L1275.7 720.1L1252.5 646.4Z"/>
<path fill="#efff10" d="M1247.1 661.5L1270.3 734.5L1252.5 646.4L1229.3 563.8Z"/>
<path fill="#ff8f00" d="M1223.9 599.4L1247.1 661.5L1229.3 563.8L1206.1 505.3Z"/>
<path fill="#ff8000" d="M1200.7 598.7L1223.9 599.4L1206.1 505.3L1182.9 531.1Z"/>
<path fill="#dfff20" d="M1177.5 696.6L1200.7 598.7L1182.9 531.1L1159.7 671.5Z"/>
<path fill="#00dfff" d="M1154.3 846.8L1177.5 696.6L1159.7 671.5L1136.5 853Z"/>
<path fill="#0010ff" d="M1131.1 964.9L1154.3 846.8L1136.5 853L1113.3 977.5Z"/>
<path fill="#0000af" d="M1107.9 1026L1131.1 964.9L1113.3 977.5L1090.1 1030.7Z"/>
<path fill="#00008f" d="M1084.7 1050.8L1107.9 1026L1090.1 1030.7L1066.9 1045.9Z"/>
<path fill="#00008f" d="M1061.5 1060.4L1084.7 1050.8L1066.9 1045.9L1043.7 1048.9Z"/>
<path fill="#00008f" d="M1038.4 1065.4L1061.5 1060.4L1043.7 1048.9L1020.5 1050.2Z"/>
<path fill="#00008f" d="M1015.2 1069.7L1038.4 1065.4L1020.5 1050.2L997.3 1052.8Z"/>
<path fill="#00008f" d="M992 1074.4L1015.2 1069.7L997.3 1052.8L974.1 1057Z"/>
<path fill="#00008f" d="M968.8 1079.7L992 1074.4L974.1 1057L951 1062.4Z"/>
<path fill="#00008f" d="M945.6 1085.4L968.8 1079.7L951 1062.4L927.8 1068.6Z"/>
<path fill="#00008f" d="M922.4 1091.5L945.6 1085.4L927.8 1068.6L904.6 1075.3Z"/>
<path fill="#00008f" d="M899.2 1097.8L922.4 1091.5L904.6 1075.3L881.4 1082.1Z"/>
<path fill="#00008f" d="M876 1104.2L899.2 1097.8L881.4 1082.1L858.2 1089.2Z"/>
<path fill="#00008f" d="M852.8 1110.7L876 1104.2L858.2 1089.2L835 1096.2Z"/>
<path fill="#00008f" d="M829.6 1117.2L852.8 1110.7L835 1096.2L811.8 1103.3Z"/>
<path fill="#00008f" d="M806.4 1123.8L829.6 1117.2L811.8 1103.3L788.6 1110.3Z"/>
<path fill="#00008f" d="M783.2 1130.4L806.4 1123.8L788.6 1110.3L765.4 1117.3Z"/>
<path fill="#00008f" d="M760 1136.9L783.2 1130.4L765.4 1117.3L742.2 1124.2Z"/>
<path fill="#00008f" d="M736.8 1143.5L760 1136.9L742.2 1124.2L719 1131.1Z"/>
<path fill="#00008f" d="M713.6 1150L736.8 1143.5L719 1131.1L695.8 1138Z"/>
<path fill="#00008f" d="M690.4 1156.5L713.6 1150L695.8 1138L672.6 1144.8Z"/>
<path fill="#00008f" d="M667.2 1163L690.4 1156.5L672.6 1144.8L649.4 1151.5Z"/>
<path fill="#00008f" d="M644 1169.5L667.2 1163L649.4 1151.5L626.2 1158.2Z"/>
<path fill="#00009f" d="M1566.5 922.5L1589.7 918L1571.9 904.1L1548.7 907.8Z"/>
<path fill="#00009f" d="M1543.3 926.6L1566.5 922.5L1548.7 907.8L1525.5 911Z"/>
<path fill="#0000af" d="M1520.1 930.1L1543.3 926.6L1525.5 911L1502.3 913.4Z"/>
<path fill="#0000af" d="M1496.9 932.9L1520.1 930.1L1502.3 913.4L1479.1 914.8Z"/>
<path fill="#0000af" d="M1473.7 934.8L1496.9 932.9L1479.1 914.8L1455.9 915Z"/>
<path fill="#0000bf" d="M1450.5 935.3L1473.7 934.8L1455.9 915L1432.7 913.3Z"/>
<path fill="#0000cf" d="M1427.3 933.9L1450.5 935.3L1432.7 913.3L1409.5 909.1Z"/>
<path fill="#0000df" d="M1404.1 929.9L1427.3 933.9L1409.5 909.1L1386.3 901.4Z"/>
<path fill="#0000ff" d="M1380.9 922L1404.1 929.9L1386.3 901.4L1363.1 888.7Z"/>
<path fill="#0020ff" d="M1357.7 908.4L1380.9 922L1363.1 888.7L1339.9 868.9Z"/>
<path fill="#0050ff" d="M1334.5 886.7L1357.7 908.4L1339.9 868.9L1316.7 838.9Z"/>
<path fill="#009fff" d="M1311.3 853.4L1334.5 886.7L1316.7 838.9L1293.5 795Z"/>
<path fill="#00ffff" d="M1288.1 805.3L1311.3 853.4L1293.5 795L1270.3 734.5Z"/>
<path fill="#70ff8f" d="M1264.9 744L1288.1 805.3L1270.3 734.5L1247.1 661.5Z"/>
<path fill="#dfff20" d="M1241.7 686L1264.9 744L1247.1 661.5L1223.9 599.4Z"/>
<path fill="#ffef00" d="M1218.5 672.1L1241.7 686L1223.9 599.4L1200.7 598.7Z"/>
<path fill="#9fff60" d="M1195.3 739.6L1218.5 672.1L1200.7 598.7L1177.5 696.6Z"/>
<path fill="#00cfff" d="M1172.1 860.4L1195.3 739.6L1177.5 696.6L1154.3 846.8Z"/>
<path fill="#0020ff" d="M1148.9 965.1L1172.1 860.4L1154.3 846.8L1131.1 964.9Z"/>
<path fill="#0000bf" d="M1125.7 1025.5L1148.9 965.1L1131.1 964.9L1107.9 1026Z"/>
<path fill="#00008f" d="M1102.6 1054L1125.7 1025.5L1107.9 1026L1084.7 1050.8Z"/>
<path fill="#00008f" d="M1079.4 1067.3L1102.6 1054L1084.7 1050.8L1061.5 1060.4Z"/>
<path fill="#00008f" d="M1056.2 1074.8L1079.4 1067.3L1061.5 1060.4L1038.4 1065.4Z"/>
<path fill="#00008f" d="M1033 1080.6L1056.2 1074.8L1038.4 1065.4L1015.2 1069.7Z"/>
<path fill="#00008f" d="M1009.8 1086.1L1033 1080.6L1015.2 1069.7L992 1074.4Z"/>
<path fill="#00008f" d="M986.6 1091.6L1009.8 1086.1L992 1074.4L968.8 1079.7Z"/>
<path fill="#00008f" d="M963.4 1097.4L986.6 1091.6L968.8 1079.7L945.6 1085.4Z"/>
<path fill="#00008f" d="M940.2 1103.4L963.4 1097.4L945.6 1085.4L922.4 1091.5Z"/>
<path fill="#00008f" d="M917 1109.5L940.2 1103.4L922.4 1091.5L899.2 1097.8Z"/>
<path fill="#00008f" d="M893.8 1115.7L917 1109.5L899.2 1097.8L876 1104.2Z"/>
<path fill="#00008f" d="M870.6 1122L893.8 1115.7L876 1104.2L852.8 1110.7Z"/>
<path fill="#00008f" d="M847.4 1128.3L870.6 1122L852.8 1110.7L829.6 1117.2Z"/>
<path fill="#00008f" d="M824.2 1134.7L847.4 1128.3L829.6 1117.2L806.4 1123.8Z"/>
<path fill="#00008f" d="M801 1141.1L824.2 1134.7L806.4 1123.8L783.2 1130.4Z"/>
<path fill="#00008f" d="M777.8 1147.5L801 1141.1L783.2 1130.4L760 1136.9Z"/>
<path fill="#00008f" d="M754.6 1153.8L777.8 1147.5L760 1136.9L736.8 1143.5Z"/>
<path fill="#00008f" d="M731.4 1160.2L754.6 1153.8L736.8 1143.5L713.6 1150Z"/>
<path fill="#00008f" d="M708.2 1166.6L731.4 1160.2L713.6 1150L690.4 1156.5Z"/>
<path fill="#00008f" d="M685 1173L708.2 1166.6L690.4 1156.5L667.2 1163Z"/>
<path fill="#00008f" d="M661.8 1179.3L685 1173L667.2 1163L644 1169.5Z"/>
<path fill="#00009f" d="M1584.3 934.8L1607.5 929.8L1589.7 918L1566.5 922.5Z"/>
<path fill="#00009f" d="M1561.1 939.5L1584.3 934.8L1566.5 922.5L1543.3 926.6Z"/>
<path fill="#00009f" d="M1537.9 943.8L1561.1 939.5L1543.3 926.6L1520.1 930.1Z"/>
<path fill="#00009f" d="M1514.7 947.6L1537.9 943.8L1520.1 930.1L1496.9 932.9Z"/>
<path fill="#0000af" d="M1491.5 950.7L1514.7 947.6L1496.9 932.9L1473.7 934.8Z"/>
<path fill="#0000af" d="M1468.3 952.7L1491.5 950.7L1473.7 934.8L1450.5 935.3Z"/>
<path fill="#0000bf" d="M1445.1 953.3L1468.3 952.7L1450.5 935.3L1427.3 933.9Z"/>
<path fill="#0000cf" d="M1421.9 951.8L1445.1 953.3L1427.3 933.9L1404.1 929.9Z"/>
<path fill="#0000df" d="M1398.7 947.4L1421.9 951.8L1404.1 929.9L1380.9 922Z"/>
<path fill="#0000ff" d="M1375.5 938.4L1398.7 947.4L1380.9 922L1357.7 908.4Z"/>
<path fill="#0020ff" d="M1352.3 922.9L1375.5 938.4L1357.7 908.4L1334.5 886.7Z"/>
<path fill="#0050ff" d="M1329.1 897.8L1352.3 922.9L1334.5 886.7L1311.3 853.4Z"/>
<path fill="#009fff" d="M1305.9 860.1L1329.1 897.8L1311.3 853.4L1288.1 805.3Z"/>
<path fill="#10ffef" d="M1282.7 809.8L1305.9 860.1L1288.1 805.3L1264.9 744Z"/>
<path fill="#70ff8f" d="M1259.5 758.5L1282.7 809.8L1264.9 744L1241.7 686Z"/>
<path fill="#9fff60" d="M1236.3 739.1L1259.5 758.5L1241.7 686L1218.5 672.1Z"/>
<path fill="#50ffaf" d="M1213.1 786.1L1236.3 739.1L1218.5 672.1L1195.3 739.6Z"/>
<path fill="#00afff" d="M1189.9 882.9L1213.1 786.1L1195.3 739.6L1172.1 860.4Z"/>
<path fill="#0020ff" d="M1166.8 973.3L1189.9 882.9L1172.1 860.4L1148.9 965.1Z"/>
<path fill="#0000bf" d="M1143.6 1029.5L1166.8 973.3L1148.9 965.1L1125.7 1025.5Z"/>
<path fill="#00009f" d="M1120.4 1058.6L1143.6 1029.5L1125.7 1025.5L1102.6 1054Z"/>
<path fill="#00008f" d="M1097.2 1073.5L1120.4 1058.6L1102.6 1054L1079.4 1067.3Z"/>
<path fill="#00008f" d="M1074 1082.5L1097.2 1073.5L1079.4 1067.3L1056.2 1074.8Z"/>
<path fill="#00008f" d="M1050.8 1089.3L1074 1082.5L1056.2 1074.8L1033 1080.6Z"/>
<path fill="#00008f" d="M1027.6 1095.4L1050.8 1089.3L1033 1080.6L1009.8 1086.1Z"/>
<path fill="#00008f" d="M1004.4 1101.3L1027.6 1095.4L1009.8 1086.1L986.6 1091.6Z"/>
<path fill="#00008f" d="M981.2 1107.2L1004.4 1101.3L986.6 1091.6L963.4 1097.4Z"/>
<path fill="#00008f" d="M958 1113.3L981.2 1107.2L963.4 1097.4L940.2 1103.4Z"/>
<path fill="#00008f" d="M934.8 1119.4L958 1113.3L940.2 1103.4L917 1109.5Z"/>
<path fill="#00008f" d="M911.6 1125.5L934.8 1119.4L917 1109.5L893.8 1115.7Z"/>
<path fill="#00008f" d="M888.4 1131.7L911.6 1125.5L893.8 1115.7L870.6 1122Z"/>
<path fill="#00008f" d="M865.2 1138L888.4 1131.7L870.6 1122L847.4 1128.3Z"/>
<path fill="#00008f" d="M842 1144.3L865.2 1138L847.4 1128.3L824.2 1134.7Z"/>
<path fill="#00008f" d="M818.8 1150.6L842 1144.3L824.2 1134.7L801 1141.1Z"/>
<path fill="#00008f" d="M795.6 1156.9L818.8 1150.6L801 1141.1L777.8 1147.5Z"/>
<path fill="#00008f" d="M772.4 1163.2L795.6 1156.9L777.8 1147.5L754.6 1153.8Z"/>
<path fill="#00008f" d="M749.2 1169.5L772.4 1163.2L754.6 1153.8L731.4 1160.2Z"/>
<path fill="#00008f" d="M726 1175.8L749.2 1169.5L731.4 1160.2L708.2 1166.6Z"/>
<path fill="#00008f" d="M702.8 1182.1L726 1175.8L708.2 1166.6L685 1173Z"/>
<path fill="#00008f" d="M679.6 1188.4L702.8 1182.1L685 1173L661.8 1179.3Z"/>
<path fill="#00008f" d="M1602.1 945.7L1625.3 940.4L1607.5 929.8L1584.3 934.8Z"/>
<path fill="#00008f" d="M1578.9 950.9L1602.1 945.7L1584.3 934.8L1561.1 939.5Z"/>
<path fill="#00009f" d="M1555.7 955.7L1578.9 950.9L1561.1 939.5L1537.9 943.8Z"/>
<path fill="#00009f" d="M1532.5 960.1L1555.7 955.7L1537.9 943.8L1514.7 947.6Z"/>
<path fill="#00009f" d="M1509.3 964L1532.5 960.1L1514.7 947.6L1491.5 950.7Z"/>
<path fill="#00009f" d="M1486.1 967L1509.3 964L1491.5 950.7L1468.3 952.7Z"/>
<path fill="#0000af" d="M1462.9 969L1486.1 967L1468.3 952.7L1445.1 953.3Z"/>
<path fill="#0000bf" d="M1439.7 969.4L1462.9 969L1445.1 953.3L1421.9 951.8Z"/>
<path fill="#0000cf" d="M1416.5 967.4L1439.7 969.4L1421.9 951.8L1398.7 947.4Z"/>
<path fill="#0000df" d="M1393.3 961.8L1416.5 967.4L1398.7 947.4L1375.5 938.4Z"/>
<path fill="#0000ff" d="M1370.1 950.9L1393.3 961.8L1375.5 938.4L1352.3 922.9Z"/>
<path fill="#0030ff" d="M1346.9 932.2L1370.1 950.9L1352.3 922.9L1329.1 897.8Z"/>
<path fill="#0070ff" d="M1323.7 902.6L1346.9 932.2L1329.1 897.8L1305.9 860.1Z"/>
<path fill="#00bfff" d="M1300.5 861.6L1323.7 902.6L1305.9 860.1L1282.7 809.8Z"/>
<path fill="#20ffdf" d="M1277.3 817.4L1300.5 861.6L1282.7 809.8L1259.5 758.5Z"/>
<path fill="#50ffaf" d="M1254.1 796.6L1277.3 817.4L1259.5 758.5L1236.3 739.1Z"/>
<path fill="#20ffdf" d="M1230.9 830L1254.1 796.6L1236.3 739.1L1213.1 786.1Z"/>
<path fill="#008fff" d="M1207.8 908.2L1230.9 830L1213.1 786.1L1189.9 882.9Z"/>
<path fill="#0020ff" d="M1184.6 985.6L1207.8 908.2L1189.9 882.9L1166.8 973.3Z"/>
<path fill="#0000cf" d="M1161.4 1036.6L1184.6 985.6L1166.8 973.3L1143.6 1029.5Z"/>
<path fill="#00009f" d="M1138.2 1064.7L1161.4 1036.6L1143.6 1029.5L1120.4 1058.6Z"/>
<path fill="#00008f" d="M1115 1080.1L1138.2 1064.7L1120.4 1058.6L1097.2 1073.5Z"/>
<path fill="#00008f" d="M1091.8 1089.9L1115 1080.1L1097.2 1073.5L1074 1082.5Z"/>
<path fill="#00008f" d="M1068.6 1097.3L1091.8 1089.9L1074 1082.5L1050.8 1089.3Z"/>
<path fill="#00008f" d="M1045.4 1103.8L1068.6 1097.3L1050.8 1089.3L1027.6 1095.4Z"/>
<path fill="#00008f" d="M1022.2 1110L1045.4 1103.8L1027.6 1095.4L1004.4 1101.3Z"/>
<path fill="#00008f" d="M999 1116.1L1022.2 1110L1004.4 1101.3L981.2 1107.2Z"/>
<path fill="#00008f" d="M975.8 1122.2L999 1116.1L981.2 1107.2L958 1113.3Z"/>
<path fill="#00008f" d="M952.6 1128.3L975.8 1122.2L958 1113.3L934.8 1119.4Z"/>
<path fill="#00008f" d="M929.4 1134.5L952.6 1128.3L934.8 1119.4L911.6 1125.5Z"/>
<path fill="#00008f" d="M906.2 1140.7L929.4 1134.5L911.6 1125.5L888.4 1131.7Z"/>
<path fill="#00008f" d="M883 1146.9L906.2 1140.7L888.4 1131.7L865.2 1138Z"/>
<path fill="#00008f" d="M859.8 1153.2L883 1146.9L865.2 1138L842 1144.3Z"/>
<path fill="#00008f" d="M836.6 1159.4L859.8 1153.2L842 1144.3L818.8 1150.6Z"/>
<path fill="#00008f" d="M813.4 1165.7L836.6 1159.4L818.8 1150.6L795.6 1156.9Z"/>
<path fill="#00008f" d="M790.2 1172L813.4 1165.7L795.6 1156.9L772.4 1163.2Z"/>
<path fill="#00008f" d="M767.1 1178.3L790.2 1172L772.4 1163.2L749.2 1169.5Z"/>
<path fill="#00008f" d="M743.9 1184.5L767.1 1178.3L749.2 1169.5L726 1175.8Z"/>
<path fill="#00008f" d="M720.7 1190.8L743.9 1184.5L726 1175.8L702.8 1182.1Z"/>
<path fill="#00008f" d="M697.5 1197.1L720.7 1190.8L702.8 1182.1L679.6 1188.4Z"/>
<path fill="#00008f" d="M1619.9 955.7L1643.1 950.2L1625.3 940.4L1602.1 945.7Z"/>
<path fill="#00008f" d="M1596.7 961.2L1619.9 955.7L1602.1 945.7L1578.9 950.9Z"/>
<path fill="#00008f" d="M1573.5 966.3L1596.7 961.2L1578.9 950.9L1555.7 955.7Z"/>
<path fill="#00008f" d="M1550.3 971.2L1573.5 966.3L1555.7 955.7L1532.5 960.1Z"/>
<path fill="#00009f" d="M1527.1 975.6L1550.3 971.2L1532.5 960.1L1509.3 964Z"/>
<path fill="#00009f" d="M1503.9 979.5L1527.1 975.6L1509.3 964L1486.1 967Z"/>
<path fill="#00009f" d="M1480.7 982.4L1503.9 979.5L1486.1 967L1462.9 969Z"/>
<path fill="#0000af" d="M1457.5 984.1L1480.7 982.4L1462.9 969L1439.7 969.4Z"/>
<path fill="#0000bf" d="M1434.3 983.9L1457.5 984.1L1439.7 969.4L1416.5 967.4Z"/>
<path fill="#0000cf" d="M1411.1 980.8L1434.3 983.9L1416.5 967.4L1393.3 961.8Z"/>
<path fill="#0000df" d="M1387.9 973.3L1411.1 980.8L1393.3 961.8L1370.1 950.9Z"/>
<path fill="#0000ff" d="M1364.7 959.3L1387.9 973.3L1370.1 950.9L1346.9 932.2Z"/>
<path fill="#0040ff" d="M1341.5 936.2L1364.7 959.3L1346.9 932.2L1323.7 902.6Z"/>
<path fill="#0080ff" d="M1318.3 902.7L1341.5 936.2L1323.7 902.6L1300.5 861.6Z"/>
<path fill="#00cfff" d="M1295.1 865.2L1318.3 902.7L1300.5 861.6L1277.3 817.4Z"/>
<path fill="#00ffff" d="M1271.9 845L1295.1 865.2L1277.3 817.4L1254.1 796.6Z"/>
<path fill="#00dfff" d="M1248.8 869.3L1271.9 845L1254.1 796.6L1230.9 830Z"/>
<path fill="#0080ff" d="M1225.6 933.3L1248.8 869.3L1230.9 830L1207.8 908.2Z"/>
<path fill="#0010ff" d="M1202.4 999.8L1225.6 933.3L1207.8 908.2L1184.6 985.6Z"/>
<path fill="#0000bf" d="M1179.2 1045.5L1202.4 999.8L1184.6 985.6L1161.4 1036.6Z"/>
<path fill="#00009f" d="M1156 1072L1179.2 1045.5L1161.4 1036.6L1138.2 1064.7Z"/>
<path fill="#00008f" d="M1132.8 1087.3L1156 1072L1138.2 1064.7L1115 1080.1Z"/>
<path fill="#00008f" d="M1109.6 1097.4L1132.8 1087.3L1115 1080.1L1091.8 1089.9Z"/>
<path fill="#00008f" d="M1086.4 1105.1L1109.6 1097.4L1091.8 1089.9L1068.6 1097.3Z"/>
<path fill="#00008f" d="M1063.2 1111.9L1086.4 1105.1L1068.6 1097.3L1045.4 1103.8Z"/>
<path fill="#00008f" d="M1040 1118.2L1063.2 1111.9L1045.4 1103.8L1022.2 1110Z"/>
<path fill="#00008f" d="M1016.8 1124.5L1040 1118.2L1022.2 1110L999 1116.1Z"/>
<path fill="#00008f" d="M993.6 1130.7L1016.8 1124.5L999 1116.1L975.8 1122.2Z"/>
<path fill="#00008f" d="M970.4 1136.8L993.6 1130.7L975.8 1122.2L952.6 1128.3Z"/>
<path fill="#00008f" d="M947.2 1143L970.4 1136.8L952.6 1128.3L929.4 1134.5Z"/>
<path fill="#00008f" d="M924 1149.3L947.2 1143L929.4 1134.5L906.2 1140.7Z"/>
<path fill="#00008f" d="M900.8 1155.5L924 1149.3L906.2 1140.7L883 1146.9Z"/>
<path fill="#00008f" d="M877.6 1161.7L900.8 1155.5L883 1146.9L859.8 1153.2Z"/>
<path fill="#00008f" d="M854.5 1168L877.6 1161.7L859.8 1153.2L836.6 1159.4Z"/>
<path fill="#00008f" d="M831.3 1174.2L854.5 1168L836.6 1159.4L813.4 1165.7Z"/>
<path fill="#00008f" d="M808.1 1180.5L831.3 1174.2L813.4 1165.7L790.2 1172Z"/>
<path fill="#00008f" d="M784.9 1186.8L808.1 1180.5L790.2 1172L767.1 1178.3Z"/>
<path fill="#00008f" d="M761.7 1193L784.9 1186.8L767.1 1178.3L743.9 1184.5Z"/>
<path fill="#00008f" d="M738.5 1199.3L761.7 1193L743.9 1184.5L720.7 1190.8Z"/>
<path fill="#00008f" d="M715.3 1205.6L738.5 1199.3L720.7 1190.8L697.5 1197.1Z"/>
<path fill="#00008f" d="M1637.7 965.2L1660.8 959.4L1643.1 950.2L1619.9 955.7Z"/>
<path fill="#00008f" d="M1614.5 970.8L1637.7 965.2L1619.9 955.7L1596.7 961.2Z"/>
<path fill="#00008f" d="M1591.3 976.2L1614.5 970.8L1596.7 961.2L1573.5 966.3Z"/>
<path fill="#00008f" d="M1568.1 981.4L1591.3 976.2L1573.5 966.3L1550.3 971.2Z"/>
<path fill="#00008f" d="M1544.9 986.3L1568.1 981.4L1550.3 971.2L1527.1 975.6Z"/>
<path fill="#00009f" d="M1521.7 990.6L1544.9 986.3L1527.1 975.6L1503.9 979.5Z"/>
<path fill="#00009f" d="M1498.5 994.3L1521.7 990.6L1503.9 979.5L1480.7 982.4Z"/>
<path fill="#00009f" d="M1475.3 996.9L1498.5 994.3L1480.7 982.4L1457.5 984.1Z"/>
<path fill="#0000af" d="M1452.1 998L1475.3 996.9L1457.5 984.1L1434.3 983.9Z"/>
<path fill="#0000bf" d="M1428.9 996.7L1452.1 998L1434.3 983.9L1411.1 980.8Z"/>
<path fill="#0000cf" d="M1405.7 991.9L1428.9 996.7L1411.1 980.8L1387.9 973.3Z"/>
<path fill="#0000ef" d="M1382.5 981.5L1405.7 991.9L1387.9 973.3L1364.7 959.3Z"/>
<path fill="#0020ff" d="M1359.3 963.3L1382.5 981.5L1364.7 959.3L1341.5 936.2Z"/>
<path fill="#0050ff" d="M1336.1 936L1359.3 963.3L1341.5 936.2L1318.3 902.7Z"/>
<path fill="#009fff" d="M1312.9 904.2L1336.1 936L1318.3 902.7L1295.1 865.2Z"/>
<path fill="#00bfff" d="M1289.8 885.5L1312.9 904.2L1295.1 865.2L1271.9 845Z"/>
<path fill="#00afff" d="M1266.6 903.8L1289.8 885.5L1271.9 845L1248.8 869.3Z"/>
<path fill="#0060ff" d="M1243.4 957L1266.6 903.8L1248.8 869.3L1225.6 933.3Z"/>
<path fill="#0000ff" d="M1220.2 1014.4L1243.4 957L1225.6 933.3L1202.4 999.8Z"/>
<path fill="#0000bf" d="M1197 1055.4L1220.2 1014.4L1202.4 999.8L1179.2 1045.5Z"/>
<path fill="#00009f" d="M1173.8 1080.1L1197 1055.4L1179.2 1045.5L1156 1072Z"/>
<path fill="#00008f" d="M1150.6 1095L1173.8 1080.1L1156 1072L1132.8 1087.3Z"/>
<path fill="#00008f" d="M1127.4 1105.1L1150.6 1095L1132.8 1087.3L1109.6 1097.4Z"/>
<path fill="#00008f" d="M1104.2 1113L1127.4 1105.1L1109.6 1097.4L1086.4 1105.1Z"/>
<path fill="#00008f" d="M1081 1119.9L1104.2 1113L1086.4 1105.1L1063.2 1111.9Z"/>
<path fill="#00008f" d="M1057.8 1126.4L1081 1119.9L1063.2 1111.9L1040 1118.2Z"/>
<path fill="#00008f" d="M1034.6 1132.7L1057.8 1126.4L1040 1118.2L1016.8 1124.5Z"/>
<path fill="#00008f" d="M1011.4 1138.9L1034.6 1132.7L1016.8 1124.5L993.6 1130.7Z"/>
<path fill="#00008f" d="M988.2 1145.2L1011.4 1138.9L993.6 1130.7L970.4 1136.8Z"/>
<path fill="#00008f" d="M965 1151.4L988.2 1145.2L970.4 1136.8L947.2 1143Z"/>
<path fill="#00008f" d="M941.8 1157.6L965 1151.4L947.2 1143L924 1149.3Z"/>
<path fill="#00008f" d="M918.7 1163.9L941.8 1157.6L924 1149.3L900.8 1155.5Z"/>
<path fill="#00008f" d="M895.5 1170.1L918.7 1163.9L900.8 1155.5L877.6 1161.7Z"/>
<path fill="#00008f" d="M872.3 1176.4L895.5 1170.1L877.6 1161.7L854.5 1168Z"/>
<path fill="#00008f" d="M849.1 1182.6L872.3 1176.4L854.5 1168L831.3 1174.2Z"/>
<path fill="#00008f" d="M825.9 1188.9L849.1 1182.6L831.3 1174.2L808.1 1180.5Z"/>
<path fill="#00008f" d="M802.7 1195.1L825.9 1188.9L808.1 1180.5L784.9 1186.8Z"/>
<path fill="#00008f" d="M779.5 1201.4L802.7 1195.1L784.9 1186.8L761.7 1193Z"/>
<path fill="#00008f" d="M756.3 1207.7L779.5 1201.4L761.7 1193L738.5 1199.3Z"/>
<path fill="#00008f" d="M733.1 1213.9L756.3 1207.7L738.5 1199.3L715.3 1205.6Z"/>
<path fill="#00008f" d="M1655.5 974.3L1678.6 968.4L1660.8 959.4L1637.7 965.2Z"/>
<path fill="#00008f" d="M1632.3 980L1655.5 974.3L1637.7 965.2L1614.5 970.8Z"/>
<path fill="#00008f" d="M1609.1 985.6L1632.3 980L1614.5 970.8L1591.3 976.2Z"/>
<path fill="#00008f" d="M1585.9 991.1L1609.1 985.6L1591.3 976.2L1568.1 981.4Z"/>
<path fill="#00008f" d="M1562.7 996.2L1585.9 991.1L1568.1 981.4L1544.9 986.3Z"/>
<path fill="#00008f" d="M1539.5 1000.9L1562.7 996.2L1544.9 986.3L1521.7 990.6Z"/>
<path fill="#00009f" d="M1516.3 1005.1L1539.5 1000.9L1521.7 990.6L1498.5 994.3Z"/>
<path fill="#00009f" d="M1493.1 1008.4L1516.3 1005.1L1498.5 994.3L1475.3 996.9Z"/>
<path fill="#00009f" d="M1469.9 1010.5L1493.1 1008.4L1475.3 996.9L1452.1 998Z"/>
<path fill="#0000af" d="M1446.7 1010.6L1469.9 1010.5L1452.1 998L1428.9 996.7Z"/>
<path fill="#0000bf" d="M1423.5 1007.7L1446.7 1010.6L1428.9 996.7L1405.7 991.9Z"/>
<path fill="#0000df" d="M1400.3 1000.2L1423.5 1007.7L1405.7 991.9L1382.5 981.5Z"/>
<path fill="#0000ff" d="M1377.1 985.9L1400.3 1000.2L1382.5 981.5L1359.3 963.3Z"/>
<path fill="#0030ff" d="M1353.9 963.6L1377.1 985.9L1359.3 963.3L1336.1 936Z"/>
<path fill="#0070ff" d="M1330.8 936.7L1353.9 963.6L1336.1 936L1312.9 904.2Z"/>
<path fill="#008fff" d="M1307.6 919.9L1330.8 936.7L1312.9 904.2L1289.8 885.5Z"/>
<path fill="#008fff" d="M1284.4 934L1307.6 919.9L1289.8 885.5L1266.6 903.8Z"/>
<path fill="#0040ff" d="M1261.2 978.9L1284.4 934L1266.6 903.8L1243.4 957Z"/>
<path fill="#0000ef" d="M1238 1028.9L1261.2 978.9L1243.4 957L1220.2 1014.4Z"/>
<path fill="#0000bf" d="M1214.8 1065.7L1238 1028.9L1220.2 1014.4L1197 1055.4Z"/>
<path fill="#00009f" d="M1191.6 1088.6L1214.8 1065.7L1197 1055.4L1173.8 1080.1Z"/>
<path fill="#00008f" d="M1168.4 1102.9L1191.6 1088.6L1173.8 1080.1L1150.6 1095Z"/>
<path fill="#00008f" d="M1145.2 1112.9L1168.4 1102.9L1150.6 1095L1127.4 1105.1Z"/>
<path fill="#00008f" d="M1122 1120.9L1145.2 1112.9L1127.4 1105.1L1104.2 1113Z"/>
<path fill="#00008f" d="M1098.8 1127.9L1122 1120.9L1104.2 1113L1081 1119.9Z"/>
<path fill="#00008f" d="M1075.6 1134.5L1098.8 1127.9L1081 1119.9L1057.8 1126.4Z"/>
<path fill="#00008f" d="M1052.4 1140.9L1075.6 1134.5L1057.8 1126.4L1034.6 1132.7Z"/>
<path fill="#00008f" d="M1029.2 1147.1L1052.4 1140.9L1034.6 1132.7L1011.4 1138.9Z"/>
<path fill="#00008f" d="M1006 1153.4L1029.2 1147.1L1011.4 1138.9L988.2 1145.2Z"/>
<path fill="#00008f" d="M982.9 1159.7L1006 1153.4L988.2 1145.2L965 1151.4Z"/>
<path fill="#00008f" d="M959.7 1165.9L982.9 1159.7L965 1151.4L941.8 1157.6Z"/>
<path fill="#00008f" d="M936.5 1172.2L959.7 1165.9L941.8 1157.6L918.7 1163.9Z"/>
<path fill="#00008f" d="M913.3 1178.4L936.5 1172.2L918.7 1163.9L895.5 1170.1Z"/>
<path fill="#00008f" d="M890.1 1184.7L913.3 1178.4L895.5 1170.1L872.3 1176.4Z"/>
<path fill="#00008f" d="M866.9 1190.9L890.1 1184.7L872.3 1176.4L849.1 1182.6Z"/>
<path fill="#00008f" d="M843.7 1197.2L866.9 1190.9L849.1 1182.6L825.9 1188.9Z"/>
<path fill="#00008f" d="M820.5 1203.4L843.7 1197.2L825.9 1188.9L802.7 1195.1Z"/>
<path fill="#00008f" d="M797.3 1209.7L820.5 1203.4L802.7 1195.1L779.5 1201.4Z"/>
<path fill="#00008f" d="M774.1 1216L797.3 1209.7L779.5 1201.4L756.3 1207.7Z"/>
<path fill="#00008f" d="M750.9 1222.2L774.1 1216L756.3 1207.7L733.1 1213.9Z"/>
<path fill="#00008f" d="M1673.2 983.1L1696.4 977.1L1678.6 968.4L1655.5 974.3Z"/>
<path fill="#00008f" d="M1650.1 988.9L1673.2 983.1L1655.5 974.3L1632.3 980Z"/>
<path fill="#00008f" d="M1626.9 994.7L1650.1 988.9L1632.3 980L1609.1 985.6Z"/>
<path fill="#00008f" d="M1603.7 1000.3L1626.9 994.7L1609.1 985.6L1585.9 991.1Z"/>
<path fill="#00008f" d="M1580.5 1005.6L1603.7 1000.3L1585.9 991.1L1562.7 996.2Z"/>
<path fill="#00008f" d="M1557.3 1010.7L1580.5 1005.6L1562.7 996.2L1539.5 1000.9Z"/>
<path fill="#00008f" d="M1534.1 1015.2L1557.3 1010.7L1539.5 1000.9L1516.3 1005.1Z"/>
<path fill="#00009f" d="M1510.9 1019.1L1534.1 1015.2L1516.3 1005.1L1493.1 1008.4Z"/>
<path fill="#00009f" d="M1487.7 1021.9L1510.9 1019.1L1493.1 1008.4L1469.9 1010.5Z"/>
<path fill="#0000af" d="M1464.5 1023.1L1487.7 1021.9L1469.9 1010.5L1446.7 1010.6Z"/>
<path fill="#0000af" d="M1441.3 1021.7L1464.5 1023.1L1446.7 1010.6L1423.5 1007.7Z"/>
<path fill="#0000cf" d="M1418.1 1016.3L1441.3 1021.7L1423.5 1007.7L1400.3 1000.2Z"/>
<path fill="#0000ef" d="M1394.9 1005.2L1418.1 1016.3L1400.3 1000.2L1377.1 985.9Z"/>
<path fill="#0020ff" d="M1371.7 986.9L1394.9 1005.2L1377.1 985.9L1353.9 963.6Z"/>
<path fill="#0050ff" d="M1348.6 964.1L1371.7 986.9L1353.9 963.6L1330.8 936.7Z"/>
<path fill="#0070ff" d="M1325.4 949.2L1348.6 964.1L1330.8 936.7L1307.6 919.9Z"/>
<path fill="#0070ff" d="M1302.2 960.5L1325.4 949.2L1307.6 919.9L1284.4 934Z"/>
<path fill="#0030ff" d="M1279 998.9L1302.2 960.5L1284.4 934L1261.2 978.9Z"/>
<path fill="#0000ef" d="M1255.8 1042.9L1279 998.9L1261.2 978.9L1238 1028.9Z"/>
<path fill="#0000bf" d="M1232.6 1076.1L1255.8 1042.9L1238 1028.9L1214.8 1065.7Z"/>
<path fill="#00009f" d="M1209.4 1097.4L1232.6 1076.1L1214.8 1065.7L1191.6 1088.6Z"/>
<path fill="#00008f" d="M1186.2 1111.1L1209.4 1097.4L1191.6 1088.6L1168.4 1102.9Z"/>
<path fill="#00008f" d="M1163 1121L1186.2 1111.1L1168.4 1102.9L1145.2 1112.9Z"/>
<path fill="#00008f" d="M1139.8 1128.9L1163 1121L1145.2 1112.9L1122 1120.9Z"/>
<path fill="#00008f" d="M1116.6 1135.9L1139.8 1128.9L1122 1120.9L1098.8 1127.9Z"/>
<path fill="#00008f" d="M1093.4 1142.6L1116.6 1135.9L1098.8 1127.9L1075.6 1134.5Z"/>
<path fill="#00008f" d="M1070.2 1149L1093.4 1142.6L1075.6 1134.5L1052.4 1140.9Z"/>
<path fill="#00008f" d="M1047.1 1155.3L1070.2 1149L1052.4 1140.9L1029.2 1147.1Z"/>
<path fill="#00008f" d="M1023.9 1161.6L1047.1 1155.3L1029.2 1147.1L1006 1153.4Z"/>
<path fill="#00008f" d="M1000.7 1167.9L1023.9 1161.6L1006 1153.4L982.9 1159.7Z"/>
<path fill="#00008f" d="M977.5 1174.1L1000.7 1167.9L982.9 1159.7L959.7 1165.9Z"/>
<path fill="#00008f" d="M954.3 1180.4L977.5 1174.1L959.7 1165.9L936.5 1172.2Z"/>
<path fill="#00008f" d="M931.1 1186.6L954.3 1180.4L936.5 1172.2L913.3 1178.4Z"/>
<path fill="#00008f" d="M907.9 1192.9L931.1 1186.6L913.3 1178.4L890.1 1184.7Z"/>
<path fill="#00008f" d="M884.7 1199.2L907.9 1192.9L890.1 1184.7L866.9 1190.9Z"/>
<path fill="#00008f" d="M861.5 1205.4L884.7 1199.2L866.9 1190.9L843.7 1197.2Z"/>
<path fill="#00008f" d="M838.3 1211.7L861.5 1205.4L843.7 1197.2L820.5 1203.4Z"/>
<path fill="#00008f" d="M815.1 1217.9L838.3 1211.7L820.5 1203.4L797.3 1209.7Z"/>
<path fill="#00008f" d="M791.9 1224.2L815.1 1217.9L797.3 1209.7L774.1 1216Z"/>
<path fill="#00008f" d="M768.7 1230.5L791.9 1224.2L774.1 1216L750.9 1222.2Z"/>
<path fill="#00008f" d="M1691 991.7L1714.2 985.7L1696.4 977.1L1673.2 983.1Z"/>
<path fill="#00008f" d="M1667.9 997.7L1691 991.7L1673.2 983.1L1650.1 988.9Z"/>
<path fill="#00008f" d="M1644.7 1003.5L1667.9 997.7L1650.1 988.9L1626.9 994.7Z"/>
<path fill="#00008f" d="M1621.5 1009.2L1644.7 1003.5L1626.9 994.7L1603.7 1000.3Z"/>
<path fill="#00008f" d="M1598.3 1014.8L1621.5 1009.2L1603.7 1000.3L1580.5 1005.6Z"/>
<path fill="#00008f" d="M1575.1 1020L1598.3 1014.8L1580.5 1005.6L1557.3 1010.7Z"/>
<path fill="#00008f" d="M1551.9 1024.9L1575.1 1020L1557.3 1010.7L1534.1 1015.2Z"/>
<path fill="#00008f" d="M1528.7 1029.2L1551.9 1024.9L1534.1 1015.2L1510.9 1019.1Z"/>
<path fill="#00009f" d="M1505.5 1032.5L1528.7 1029.2L1510.9 1019.1L1487.7 1021.9Z"/>
<path fill="#00009f" d="M1482.3 1034.5L1505.5 1032.5L1487.7 1021.9L1464.5 1023.1Z"/>
<path fill="#0000af" d="M1459.1 1034.3L1482.3 1034.5L1464.5 1023.1L1441.3 1021.7Z"/>
<path fill="#0000bf" d="M1435.9 1030.7L1459.1 1034.3L1441.3 1021.7L1418.1 1016.3Z"/>
<path fill="#0000df" d="M1412.7 1022.1L1435.9 1030.7L1418.1 1016.3L1394.9 1005.2Z"/>
<path fill="#0000ff" d="M1389.6 1007.1L1412.7 1022.1L1394.9 1005.2L1371.7 986.9Z"/>
<path fill="#0030ff" d="M1366.4 987.8L1389.6 1007.1L1371.7 986.9L1348.6 964.1Z"/>
<path fill="#0050ff" d="M1343.2 974.7L1366.4 987.8L1348.6 964.1L1325.4 949.2Z"/>
<path fill="#0050ff" d="M1320 984L1343.2 974.7L1325.4 949.2L1302.2 960.5Z"/>
<path fill="#0020ff" d="M1296.8 1017.4L1320 984L1302.2 960.5L1279 998.9Z"/>
<path fill="#0000df" d="M1273.6 1056.4L1296.8 1017.4L1279 998.9L1255.8 1042.9Z"/>
<path fill="#0000af" d="M1250.4 1086.5L1273.6 1056.4L1255.8 1042.9L1232.6 1076.1Z"/>
<path fill="#00009f" d="M1227.2 1106.3L1250.4 1086.5L1232.6 1076.1L1209.4 1097.4Z"/>
<path fill="#00008f" d="M1204 1119.5L1227.2 1106.3L1209.4 1097.4L1186.2 1111.1Z"/>
<path fill="#00008f" d="M1180.8 1129.1L1204 1119.5L1186.2 1111.1L1163 1121Z"/>
<path fill="#00008f" d="M1157.6 1137L1180.8 1129.1L1163 1121L1139.8 1128.9Z"/>
<path fill="#00008f" d="M1134.4 1144L1157.6 1137L1139.8 1128.9L1116.6 1135.9Z"/>
<path fill="#00008f" d="M1111.2 1150.7L1134.4 1144L1116.6 1135.9L1093.4 1142.6Z"/>
<path fill="#00008f" d="M1088.1 1157.1L1111.2 1150.7L1093.4 1142.6L1070.2 1149Z"/>
<path fill="#00008f" d="M1064.9 1163.5L1088.1 1157.1L1070.2 1149L1047.1 1155.3Z"/>
<path fill="#00008f" d="M1041.7 1169.8L1064.9 1163.5L1047.1 1155.3L1023.9 1161.6Z"/>
<path fill="#00008f" d="M1018.5 1176.1L1041.7 1169.8L1023.9 1161.6L1000.7 1167.9Z"/>
<path fill="#00008f" d="M995.3 1182.3L1018.5 1176.1L1000.7 1167.9L977.5 1174.1Z"/>
<path fill="#00008f" d="M972.1 1188.6L995.3 1182.3L977.5 1174.1L954.3 1180.4Z"/>
<path fill="#00008f" d="M948.9 1194.9L972.1 1188.6L954.3 1180.4L931.1 1186.6Z"/>
<path fill="#00008f" d="M925.7 1201.1L948.9 1194.9L931.1 1186.6L907.9 1192.9Z"/>
<path fill="#00008f" d="M902.5 1207.4L925.7 1201.1L907.9 1192.9L884.7 1199.2Z"/>
<path fill="#00008f" d="M879.3 1213.6L902.5 1207.4L884.7 1199.2L861.5 1205.4Z"/>
<path fill="#00008f" d="M856.1 1219.9L879.3 1213.6L861.5 1205.4L838.3 1211.7Z"/>
<path fill="#00008f" d="M832.9 1226.2L856.1 1219.9L838.3 1211.7L815.1 1217.9Z"/>
<path fill="#00008f" d="M809.8 1232.4L832.9 1226.2L815.1 1217.9L791.9 1224.2Z"/>
<path fill="#00008f" d="M786.6 1238.7L809.8 1232.4L791.9 1224.2L768.7 1230.5Z"/>
<path fill="#00008f" d="M1708.8 1000.3L1732 994.2L1714.2 985.7L1691 991.7Z"/>
<path fill="#00008f" d="M1685.7 1006.3L1708.8 1000.3L1691 991.7L1667.9 997.7Z"/>
<path fill="#00008f" d="M1662.5 1012.2L1685.7 1006.3L1667.9 997.7L1644.7 1003.5Z"/>
<path fill="#00008f" d="M1639.3 1018L1662.5 1012.2L1644.7 1003.5L1621.5 1009.2Z"/>
<path fill="#00008f" d="M1616.1 1023.7L1639.3 1018L1621.5 1009.2L1598.3 1014.8Z"/>
<path fill="#00008f" d="M1592.9 1029.1L1616.1 1023.7L1598.3 1014.8L1575.1 1020Z"/>
<path fill="#00008f" d="M1569.7 1034.2L1592.9 1029.1L1575.1 1020L1551.9 1024.9Z"/>
<path fill="#00008f" d="M1546.5 1038.8L1569.7 1034.2L1551.9 1024.9L1528.7 1029.2Z"/>
<path fill="#00009f" d="M1523.3 1042.6L1546.5 1038.8L1528.7 1029.2L1505.5 1032.5Z"/>
<path fill="#00009f" d="M1500.1 1045.2L1523.3 1042.6L1505.5 1032.5L1482.3 1034.5Z"/>
<path fill="#0000af" d="M1476.9 1046L1500.1 1045.2L1482.3 1034.5L1459.1 1034.3Z"/>
<path fill="#0000bf" d="M1453.7 1043.8L1476.9 1046L1459.1 1034.3L1435.9 1030.7Z"/>
<path fill="#0000cf" d="M1430.5 1037.1L1453.7 1043.8L1435.9 1030.7L1412.7 1022.1Z"/>
<path fill="#0000ef" d="M1407.4 1024.8L1430.5 1037.1L1412.7 1022.1L1389.6 1007.1Z"/>
<path fill="#0020ff" d="M1384.2 1008.5L1407.4 1024.8L1389.6 1007.1L1366.4 987.8Z"/>
<path fill="#0040ff" d="M1361 997.2L1384.2 1008.5L1366.4 987.8L1343.2 974.7Z"/>
<path fill="#0030ff" d="M1337.8 1005.1L1361 997.2L1343.2 974.7L1320 984Z"/>
<path fill="#0010ff" d="M1314.6 1034.4L1337.8 1005.1L1320 984L1296.8 1017.4Z"/>
<path fill="#0000df" d="M1291.4 1069.3L1314.6 1034.4L1296.8 1017.4L1273.6 1056.4Z"/>
<path fill="#0000af" d="M1268.2 1096.8L1291.4 1069.3L1273.6 1056.4L1250.4 1086.5Z"/>
<path fill="#00009f" d="M1245 1115.3L1268.2 1096.8L1250.4 1086.5L1227.2 1106.3Z"/>
<path fill="#00008f" d="M1221.8 1127.9L1245 1115.3L1227.2 1106.3L1204 1119.5Z"/>
<path fill="#00008f" d="M1198.6 1137.3L1221.8 1127.9L1204 1119.5L1180.8 1129.1Z"/>
<path fill="#00008f" d="M1175.4 1145.1L1198.6 1137.3L1180.8 1129.1L1157.6 1137Z"/>
<path fill="#00008f" d="M1152.3 1152.1L1175.4 1145.1L1157.6 1137L1134.4 1144Z"/>
<path fill="#00008f" d="M1129.1 1158.8L1152.3 1152.1L1134.4 1144L1111.2 1150.7Z"/>
<path fill="#00008f" d="M1105.9 1165.3L1129.1 1158.8L1111.2 1150.7L1088.1 1157.1Z"/>
<path fill="#00008f" d="M1082.7 1171.6L1105.9 1165.3L1088.1 1157.1L1064.9 1163.5Z"/>
<path fill="#00008f" d="M1059.5 1177.9L1082.7 1171.6L1064.9 1163.5L1041.7 1169.8Z"/>
<path fill="#00008f" d="M1036.3 1184.2L1059.5 1177.9L1041.7 1169.8L1018.5 1176.1Z"/>
<path fill="#00008f" d="M1013.1 1190.5L1036.3 1184.2L1018.5 1176.1L995.3 1182.3Z"/>
<path fill="#00008f" d="M989.9 1196.8L1013.1 1190.5L995.3 1182.3L972.1 1188.6Z"/>
<path fill="#00008f" d="M966.7 1203.1L989.9 1196.8L972.1 1188.6L948.9 1194.9Z"/>
<path fill="#00008f" d="M943.5 1209.3L966.7 1203.1L948.9 1194.9L925.7 1201.1Z"/>
<path fill="#00008f" d="M920.3 1215.6L943.5 1209.3L925.7 1201.1L902.5 1207.4Z"/>
<path fill="#00008f" d="M897.1 1221.9L920.3 1215.6L902.5 1207.4L879.3 1213.6Z"/>
<path fill="#00008f" d="M874 1228.1L897.1 1221.9L879.3 1213.6L856.1 1219.9Z"/>
<path fill="#00008f" d="M850.8 1234.4L874 1228.1L856.1 1219.9L832.9 1226.2Z"/>
<path fill="#00008f" d="M827.6 1240.6L850.8 1234.4L832.9 1226.2L809.8 1232.4Z"/>
<path fill="#00008f" d="M804.4 1246.9L827.6 1240.6L809.8 1232.4L786.6 1238.7Z"/>
<path fill="#00008f" d="M1726.6 1008.7L1749.8 1002.6L1732 994.2L1708.8 1000.3Z"/>
<path fill="#00008f" d="M1703.4 1014.8L1726.6 1008.7L1708.8 1000.3L1685.7 1006.3Z"/>
<path fill="#00008f" d="M1680.3 1020.8L1703.4 1014.8L1685.7 1006.3L1662.5 1012.2Z"/>
<path fill="#00008f" d="M1657.1 1026.7L1680.3 1020.8L1662.5 1012.2L1639.3 1018Z"/>
<path fill="#00008f" d="M1633.9 1032.4L1657.1 1026.7L1639.3 1018L1616.1 1023.7Z"/>
<path fill="#00008f" d="M1610.7 1038L1633.9 1032.4L1616.1 1023.7L1592.9 1029.1Z"/>
<path fill="#00008f" d="M1587.5 1043.2L1610.7 1038L1592.9 1029.1L1569.7 1034.2Z"/>
<path fill="#00008f" d="M1564.3 1048.1L1587.5 1043.2L1569.7 1034.2L1546.5 1038.8Z"/>
<path fill="#00008f" d="M1541.1 1052.3L1564.3 1048.1L1546.5 1038.8L1523.3 1042.6Z"/>
<path fill="#00009f" d="M1517.9 1055.4L1541.1 1052.3L1523.3 1042.6L1500.1 1045.2Z"/>
<path fill="#00009f" d="M1494.7 1056.9L1517.9 1055.4L1500.1 1045.2L1476.9 1046Z"/>
<path fill="#0000af" d="M1471.5 1055.9L1494.7 1056.9L1476.9 1046L1453.7 1043.8Z"/>
<path fill="#0000bf" d="M1448.4 1050.9L1471.5 1055.9L1453.7 1043.8L1430.5 1037.1Z"/>
<path fill="#0000df" d="M1425.2 1040.8L1448.4 1050.9L1430.5 1037.1L1407.4 1024.8Z"/>
<path fill="#0000ff" d="M1402 1027L1425.2 1040.8L1407.4 1024.8L1384.2 1008.5Z"/>
<path fill="#0020ff" d="M1378.8 1017.2L1402 1027L1384.2 1008.5L1361 997.2Z"/>
<path fill="#0020ff" d="M1355.6 1024.2L1378.8 1017.2L1361 997.2L1337.8 1005.1Z"/>
<path fill="#0000ff" d="M1332.4 1050.2L1355.6 1024.2L1337.8 1005.1L1314.6 1034.4Z"/>
<path fill="#0000cf" d="M1309.2 1081.7L1332.4 1050.2L1314.6 1034.4L1291.4 1069.3Z"/>
<path fill="#0000af" d="M1286 1106.9L1309.2 1081.7L1291.4 1069.3L1268.2 1096.8Z"/>
<path fill="#00009f" d="M1262.8 1124.3L1286 1106.9L1268.2 1096.8L1245 1115.3Z"/>
<path fill="#00008f" d="M1239.6 1136.3L1262.8 1124.3L1245 1115.3L1221.8 1127.9Z"/>
<path fill="#00008f" d="M1216.4 1145.5L1239.6 1136.3L1221.8 1127.9L1198.6 1137.3Z"/>
<path fill="#00008f" d="M1193.3 1153.3L1216.4 1145.5L1198.6 1137.3L1175.4 1145.1Z"/>
<path fill="#00008f" d="M1170.1 1160.3L1193.3 1153.3L1175.4 1145.1L1152.3 1152.1Z"/>
<path fill="#00008f" d="M1146.9 1166.9L1170.1 1160.3L1152.3 1152.1L1129.1 1158.8Z"/>
<path fill="#00008f" d="M1123.7 1173.4L1146.9 1166.9L1129.1 1158.8L1105.9 1165.3Z"/>
<path fill="#00008f" d="M1100.5 1179.8L1123.7 1173.4L1105.9 1165.3L1082.7 1171.6Z"/>
<path fill="#00008f" d="M1077.3 1186.1L1100.5 1179.8L1082.7 1171.6L1059.5 1177.9Z"/>
<path fill="#00008f" d="M1054.1 1192.4L1077.3 1186.1L1059.5 1177.9L1036.3 1184.2Z"/>
<path fill="#00008f" d="M1030.9 1198.7L1054.1 1192.4L1036.3 1184.2L1013.1 1190.5Z"/>
<path fill="#00008f" d="M1007.7 1205L1030.9 1198.7L1013.1 1190.5L989.9 1196.8Z"/>
<path fill="#00008f" d="M984.5 1211.2L1007.7 1205L989.9 1196.8L966.7 1203.1Z"/>
<path fill="#00008f" d="M961.3 1217.5L984.5 1211.2L966.7 1203.1L943.5 1209.3Z"/>
<path fill="#00008f" d="M938.2 1223.8L961.3 1217.5L943.5 1209.3L920.3 1215.6Z"/>
<path fill="#00008f" d="M915 1230.1L938.2 1223.8L920.3 1215.6L897.1 1221.9Z"/>
<path fill="#00008f" d="M891.8 1236.3L915 1230.1L897.1 1221.9L874 1228.1Z"/>
<path fill="#00008f" d="M868.6 1242.6L891.8 1236.3L874 1228.1L850.8 1234.4Z"/>
<path fill="#00008f" d="M845.4 1248.9L868.6 1242.6L850.8 1234.4L827.6 1240.6Z"/>
<path fill="#00008f" d="M822.2 1255.1L845.4 1248.9L827.6 1240.6L804.4 1246.9Z"/>
<path fill="#00008f" d="M1744.4 1017.1L1767.6 1011L1749.8 1002.6L1726.6 1008.7Z"/>
<path fill="#00008f" d="M1721.2 1023.2L1744.4 1017.1L1726.6 1008.7L1703.4 1014.8Z"/>
<path fill="#00008f" d="M1698.1 1029.2L1721.2 1023.2L1703.4 1014.8L1680.3 1020.8Z"/>
<path fill="#00008f" d="M1674.9 1035.2L1698.1 1029.2L1680.3 1020.8L1657.1 1026.7Z"/>
<path fill="#00008f" d="M1651.7 1041L1674.9 1035.2L1657.1 1026.7L1633.9 1032.4Z"/>
<path fill="#00008f" d="M1628.5 1046.7L1651.7 1041L1633.9 1032.4L1610.7 1038Z"/>
<path fill="#00008f" d="M1605.3 1052.1L1628.5 1046.7L1610.7 1038L1587.5 1043.2Z"/>
<path fill="#00008f" d="M1582.1 1057.2L1605.3 1052.1L1587.5 1043.2L1564.3 1048.1Z"/>
<path fill="#00008f" d="M1558.9 1061.6L1582.1 1057.2L1564.3 1048.1L1541.1 1052.3Z"/>
<path fill="#00009f" d="M1535.7 1065.2L1558.9 1061.6L1541.1 1052.3L1517.9 1055.4Z"/>
<path fill="#00009f" d="M1512.5 1067.3L1535.7 1065.2L1517.9 1055.4L1494.7 1056.9Z"/>
<path fill="#0000af" d="M1489.3 1067.2L1512.5 1067.3L1494.7 1056.9L1471.5 1055.9Z"/>
<path fill="#0000bf" d="M1466.2 1063.6L1489.3 1067.2L1471.5 1055.9L1448.4 1050.9Z"/>
<path fill="#0000cf" d="M1443 1055.4L1466.2 1063.6L1448.4 1050.9L1425.2 1040.8Z"/>
<path fill="#0000ff" d="M1419.8 1043.7L1443 1055.4L1425.2 1040.8L1402 1027Z"/>
<path fill="#0010ff" d="M1396.6 1035.3L1419.8 1043.7L1402 1027L1378.8 1017.2Z"/>
<path fill="#0010ff" d="M1373.4 1041.6L1396.6 1035.3L1378.8 1017.2L1355.6 1024.2Z"/>
<path fill="#0000ef" d="M1350.2 1065L1373.4 1041.6L1355.6 1024.2L1332.4 1050.2Z"/>
<path fill="#0000cf" d="M1327 1093.6L1350.2 1065L1332.4 1050.2L1309.2 1081.7Z"/>
<path fill="#0000af" d="M1303.8 1116.9L1327 1093.6L1309.2 1081.7L1286 1106.9Z"/>
<path fill="#00009f" d="M1280.6 1133.2L1303.8 1116.9L1286 1106.9L1262.8 1124.3Z"/>
<path fill="#00008f" d="M1257.4 1144.8L1280.6 1133.2L1262.8 1124.3L1239.6 1136.3Z"/>
<path fill="#00008f" d="M1234.3 1153.8L1257.4 1144.8L1239.6 1136.3L1216.4 1145.5Z"/>
<path fill="#00008f" d="M1211.1 1161.4L1234.3 1153.8L1216.4 1145.5L1193.3 1153.3Z"/>
<path fill="#00008f" d="M1187.9 1168.4L1211.1 1161.4L1193.3 1153.3L1170.1 1160.3Z"/>
<path fill="#00008f" d="M1164.7 1175.1L1187.9 1168.4L1170.1 1160.3L1146.9 1166.9Z"/>
<path fill="#00008f" d="M1141.5 1181.6L1164.7 1175.1L1146.9 1166.9L1123.7 1173.4Z"/>
<path fill="#00008f" d="M1118.3 1187.9L1141.5 1181.6L1123.7 1173.4L1100.5 1179.8Z"/>
<path fill="#00008f" d="M1095.1 1194.3L1118.3 1187.9L1100.5 1179.8L1077.3 1186.1Z"/>
<path fill="#00008f" d="M1071.9 1200.6L1095.1 1194.3L1077.3 1186.1L1054.1 1192.4Z"/>
<path fill="#00008f" d="M1048.7 1206.9L1071.9 1200.6L1054.1 1192.4L1030.9 1198.7Z"/>
<path fill="#00008f" d="M1025.5 1213.2L1048.7 1206.9L1030.9 1198.7L1007.7 1205Z"/>
<path fill="#00008f" d="M1002.4 1219.4L1025.5 1213.2L1007.7 1205L984.5 1211.2Z"/>
<path fill="#00008f" d="M979.2 1225.7L1002.4 1219.4L984.5 1211.2L961.3 1217.5Z"/>
<path fill="#00008f" d="M956 1232L979.2 1225.7L961.3 1217.5L938.2 1223.8Z"/>
<path fill="#00008f" d="M932.8 1238.2L956 1232L938.2 1223.8L915 1230.1Z"/>
<path fill="#00008f" d="M909.6 1244.5L932.8 1238.2L915 1230.1L891.8 1236.3Z"/>
<path fill="#00008f" d="M886.4 1250.8L909.6 1244.5L891.8 1236.3L868.6 1242.6Z"/>
<path fill="#00008f" d="M863.2 1257.1L886.4 1250.8L868.6 1242.6L845.4 1248.9Z"/>
<path fill="#00008f" d="M840 1263.3L863.2 1257.1L845.4 1248.9L822.2 1255.1Z"/>
<path fill="#00008f" d="M1762.2 1025.5L1785.4 1019.3L1767.6 1011L1744.4 1017.1Z"/>
<path fill="#00008f" d="M1739 1031.6L1762.2 1025.5L1744.4 1017.1L1721.2 1023.2Z"/>
<path fill="#00008f" d="M1715.9 1037.7L1739 1031.6L1721.2 1023.2L1698.1 1029.2Z"/>
<path fill="#00008f" d="M1692.7 1043.7L1715.9 1037.7L1698.1 1029.2L1674.9 1035.2Z"/>
<path fill="#00008f" d="M1669.5 1049.6L1692.7 1043.7L1674.9 1035.2L1651.7 1041Z"/>
<path fill="#00008f" d="M1646.3 1055.3L1669.5 1049.6L1651.7 1041L1628.5 1046.7Z"/>
<path fill="#00008f" d="M1623.1 1060.8L1646.3 1055.3L1628.5 1046.7L1605.3 1052.1Z"/>
<path fill="#00008f" d="M1599.9 1066L1623.1 1060.8L1605.3 1052.1L1582.1 1057.2Z"/>
<path fill="#00008f" d="M1576.7 1070.8L1599.9 1066L1582.1 1057.2L1558.9 1061.6Z"/>
<path fill="#00008f" d="M1553.5 1074.7L1576.7 1070.8L1558.9 1061.6L1535.7 1065.2Z"/>
<path fill="#00009f" d="M1530.3 1077.3L1553.5 1074.7L1535.7 1065.2L1512.5 1067.3Z"/>
<path fill="#00009f" d="M1507.1 1077.9L1530.3 1077.3L1512.5 1067.3L1489.3 1067.2Z"/>
<path fill="#0000af" d="M1484 1075.4L1507.1 1077.9L1489.3 1067.2L1466.2 1063.6Z"/>
<path fill="#0000cf" d="M1460.8 1068.9L1484 1075.4L1466.2 1063.6L1443 1055.4Z"/>
<path fill="#0000ef" d="M1437.6 1059L1460.8 1068.9L1443 1055.4L1419.8 1043.7Z"/>
<path fill="#0000ff" d="M1414.4 1051.8L1437.6 1059L1419.8 1043.7L1396.6 1035.3Z"/>
<path fill="#0000ff" d="M1391.2 1057.7L1414.4 1051.8L1396.6 1035.3L1373.4 1041.6Z"/>
<path fill="#0000ef" d="M1368 1078.9L1391.2 1057.7L1373.4 1041.6L1350.2 1065Z"/>
<path fill="#0000bf" d="M1344.8 1105.1L1368 1078.9L1350.2 1065L1327 1093.6Z"/>
<path fill="#0000af" d="M1321.6 1126.7L1344.8 1105.1L1327 1093.6L1303.8 1116.9Z"/>
<path fill="#00009f" d="M1298.4 1142.1L1321.6 1126.7L1303.8 1116.9L1280.6 1133.2Z"/>
<path fill="#00008f" d="M1275.3 1153.3L1298.4 1142.1L1280.6 1133.2L1257.4 1144.8Z"/>
<path fill="#00008f" d="M1252.1 1162.1L1275.3 1153.3L1257.4 1144.8L1234.3 1153.8Z"/>
<path fill="#00008f" d="M1228.9 1169.6L1252.1 1162.1L1234.3 1153.8L1211.1 1161.4Z"/>
<path fill="#00008f" d="M1205.7 1176.6L1228.9 1169.6L1211.1 1161.4L1187.9 1168.4Z"/>
<path fill="#00008f" d="M1182.5 1183.2L1205.7 1176.6L1187.9 1168.4L1164.7 1175.1Z"/>
<path fill="#00008f" d="M1159.3 1189.7L1182.5 1183.2L1164.7 1175.1L1141.5 1181.6Z"/>
<path fill="#00008f" d="M1136.1 1196.1L1159.3 1189.7L1141.5 1181.6L1118.3 1187.9Z"/>
<path fill="#00008f" d="M1112.9 1202.4L1136.1 1196.1L1118.3 1187.9L1095.1 1194.3Z"/>
<path fill="#00008f" d="M1089.7 1208.8L1112.9 1202.4L1095.1 1194.3L1071.9 1200.6Z"/>
<path fill="#00008f" d="M1066.5 1215L1089.7 1208.8L1071.9 1200.6L1048.7 1206.9Z"/>
<path fill="#00008f" d="M1043.4 1221.3L1066.5 1215L1048.7 1206.9L1025.5 1213.2Z"/>
<path fill="#00008f" d="M1020.2 1227.6L1043.4 1221.3L1025.5 1213.2L1002.4 1219.4Z"/>
<path fill="#00008f" d="M997 1233.9L1020.2 1227.6L1002.4 1219.4L979.2 1225.7Z"/>
<path fill="#00008f" d="M973.8 1240.2L997 1233.9L979.2 1225.7L956 1232Z"/>
<path fill="#00008f" d="M950.6 1246.4L973.8 1240.2L956 1232L932.8 1238.2Z"/>
<path fill="#00008f" d="M927.4 1252.7L950.6 1246.4L932.8 1238.2L909.6 1244.5Z"/>
<path fill="#00008f" d="M904.2 1259L927.4 1252.7L909.6 1244.5L886.4 1250.8Z"/>
<path fill="#00008f" d="M881 1265.3L904.2 1259L886.4 1250.8L863.2 1257.1Z"/>
<path fill="#00008f" d="M857.8 1271.5L881 1265.3L863.2 1257.1L840 1263.3Z"/>
<path fill="#00008f" d="M1780 1033.8L1803.2 1027.6L1785.4 1019.3L1762.2 1025.5Z"/>
<path fill="#00008f" d="M1756.8 1039.9L1780 1033.8L1762.2 1025.5L1739 1031.6Z"/>
<path fill="#00008f" d="M1733.7 1046L1756.8 1039.9L1739 1031.6L1715.9 1037.7Z"/>
<path fill="#00008f" d="M1710.5 1052.1L1733.7 1046L1715.9 1037.7L1692.7 1043.7Z"/>
<path fill="#00008f" d="M1687.3 1058L1710.5 1052.1L1692.7 1043.7L1669.5 1049.6Z"/>
<path fill="#00008f" d="M1664.1 1063.8L1687.3 1058L1669.5 1049.6L1646.3 1055.3Z"/>
<path fill="#00008f" d="M1640.9 1069.5L1664.1 1063.8L1646.3 1055.3L1623.1 1060.8Z"/>
<path fill="#00008f" d="M1617.7 1074.8L1640.9 1069.5L1623.1 1060.8L1599.9 1066Z"/>
<path fill="#00008f" d="M1594.5 1079.7L1617.7 1074.8L1599.9 1066L1576.7 1070.8Z"/>
<path fill="#00008f" d="M1571.3 1083.9L1594.5 1079.7L1576.7 1070.8L1553.5 1074.7Z"/>
<path fill="#00009f" d="M1548.1 1087L1571.3 1083.9L1553.5 1074.7L1530.3 1077.3Z"/>
<path fill="#00009f" d="M1525 1088.2L1548.1 1087L1530.3 1077.3L1507.1 1077.9Z"/>
<path fill="#0000af" d="M1501.8 1086.7L1525 1088.2L1507.1 1077.9L1484 1075.4Z"/>
<path fill="#0000bf" d="M1478.6 1081.5L1501.8 1086.7L1484 1075.4L1460.8 1068.9Z"/>
<path fill="#0000df" d="M1455.4 1073.2L1478.6 1081.5L1460.8 1068.9L1437.6 1059Z"/>
<path fill="#0000ef" d="M1432.2 1067.1L1455.4 1073.2L1437.6 1059L1414.4 1051.8Z"/>
<path fill="#0000ff" d="M1409 1072.6L1432.2 1067.1L1414.4 1051.8L1391.2 1057.7Z"/>
<path fill="#0000df" d="M1385.8 1092.1L1409 1072.6L1391.2 1057.7L1368 1078.9Z"/>
<path fill="#0000bf" d="M1362.6 1116.2L1385.8 1092.1L1368 1078.9L1344.8 1105.1Z"/>
<path fill="#00009f" d="M1339.4 1136.3L1362.6 1116.2L1344.8 1105.1L1321.6 1126.7Z"/>
<path fill="#00009f" d="M1316.2 1150.9L1339.4 1136.3L1321.6 1126.7L1298.4 1142.1Z"/>
<path fill="#00008f" d="M1293.1 1161.7L1316.2 1150.9L1298.4 1142.1L1275.3 1153.3Z"/>
<path fill="#00008f" d="M1269.9 1170.3L1293.1 1161.7L1275.3 1153.3L1252.1 1162.1Z"/>
<path fill="#00008f" d="M1246.7 1177.8L1269.9 1170.3L1252.1 1162.1L1228.9 1169.6Z"/>
<path fill="#00008f" d="M1223.5 1184.8L1246.7 1177.8L1228.9 1169.6L1205.7 1176.6Z"/>
<path fill="#00008f" d="M1200.3 1191.4L1223.5 1184.8L1205.7 1176.6L1182.5 1183.2Z"/>
<path fill="#00008f" d="M1177.1 1197.9L1200.3 1191.4L1182.5 1183.2L1159.3 1189.7Z"/>
<path fill="#00008f" d="M1153.9 1204.3L1177.1 1197.9L1159.3 1189.7L1136.1 1196.1Z"/>
<path fill="#00008f" d="M1130.7 1210.6L1153.9 1204.3L1136.1 1196.1L1112.9 1202.4Z"/>
<path fill="#00008f" d="M1107.5 1216.9L1130.7 1210.6L1112.9 1202.4L1089.7 1208.8Z"/>
<path fill="#00008f" d="M1084.4 1223.2L1107.5 1216.9L1089.7 1208.8L1066.5 1215Z"/>
<path fill="#00008f" d="M1061.2 1229.5L1084.4 1223.2L1066.5 1215L1043.4 1221.3Z"/>
<path fill="#00008f" d="M1038 1235.8L1061.2 1229.5L1043.4 1221.3L1020.2 1227.6Z"/>
<path fill="#00008f" d="M1014.8 1242.1L1038 1235.8L1020.2 1227.6L997 1233.9Z"/>
<path fill="#00008f" d="M991.6 1248.3L1014.8 1242.1L997 1233.9L973.8 1240.2Z"/>
<path fill="#00008f" d="M968.4 1254.6L991.6 1248.3L973.8 1240.2L950.6 1246.4Z"/>
<path fill="#00008f" d="M945.2 1260.9L968.4 1254.6L950.6 1246.4L927.4 1252.7Z"/>
<path fill="#00008f" d="M922 1267.2L945.2 1260.9L927.4 1252.7L904.2 1259Z"/>
<path fill="#00008f" d="M898.8 1273.4L922 1267.2L904.2 1259L881 1265.3Z"/>
<path fill="#00008f" d="M875.7 1279.7L898.8 1273.4L881 1265.3L857.8 1271.5Z"/>
<path fill="#00008f" d="M1797.8 1042.1L1821 1035.9L1803.2 1027.6L1780 1033.8Z"/>
<path fill="#00008f" d="M1774.6 1048.2L1797.8 1042.1L1780 1033.8L1756.8 1039.9Z"/>
<path fill="#00008f" d="M1751.4 1054.4L1774.6 1048.2L1756.8 1039.9L1733.7 1046Z"/>
<path fill="#00008f" d="M1728.3 1060.4L1751.4 1054.4L1733.7 1046L1710.5 1052.1Z"/>
<path fill="#00008f" d="M1705.1 1066.4L1728.3 1060.4L1710.5 1052.1L1687.3 1058Z"/>
<path fill="#00008f" d="M1681.9 1072.3L1705.1 1066.4L1687.3 1058L1664.1 1063.8Z"/>
<path fill="#00008f" d="M1658.7 1078L1681.9 1072.3L1664.1 1063.8L1640.9 1069.5Z"/>
<path fill="#00008f" d="M1635.5 1083.5L1658.7 1078L1640.9 1069.5L1617.7 1074.8Z"/>
<path fill="#00008f" d="M1612.3 1088.5L1635.5 1083.5L1617.7 1074.8L1594.5 1079.7Z"/>
<path fill="#00008f" d="M1589.1 1093L1612.3 1088.5L1594.5 1079.7L1571.3 1083.9Z"/>
<path fill="#00009f" d="M1565.9 1096.4L1589.1 1093L1571.3 1083.9L1548.1 1087Z"/>
<path fill="#00009f" d="M1542.8 1098.2L1565.9 1096.4L1548.1 1087L1525 1088.2Z"/>
<path fill="#0000af" d="M1519.6 1097.5L1542.8 1098.2L1525 1088.2L1501.8 1086.7Z"/>
<path fill="#0000bf" d="M1496.4 1093.4L1519.6 1097.5L1501.8 1086.7L1478.6 1081.5Z"/>
<path fill="#0000cf" d="M1473.2 1086.5L1496.4 1093.4L1478.6 1081.5L1455.4 1073.2Z"/>
<path fill="#0000ef" d="M1450 1081.4L1473.2 1086.5L1455.4 1073.2L1432.2 1067.1Z"/>
<path fill="#0000ef" d="M1426.8 1086.7L1450 1081.4L1432.2 1067.1L1409 1072.6Z"/>
<path fill="#0000df" d="M1403.6 1104.6L1426.8 1086.7L1409 1072.6L1385.8 1092.1Z"/>
<path fill="#0000bf" d="M1380.4 1126.9L1403.6 1104.6L1385.8 1092.1L1362.6 1116.2Z"/>
<path fill="#00009f" d="M1357.2 1145.8L1380.4 1126.9L1362.6 1116.2L1339.4 1136.3Z"/>
<path fill="#00008f" d="M1334.1 1159.7L1357.2 1145.8L1339.4 1136.3L1316.2 1150.9Z"/>
<path fill="#00008f" d="M1310.9 1170.2L1334.1 1159.7L1316.2 1150.9L1293.1 1161.7Z"/>
<path fill="#00008f" d="M1287.7 1178.6L1310.9 1170.2L1293.1 1161.7L1269.9 1170.3Z"/>
<path fill="#00008f" d="M1264.5 1186.1L1287.7 1178.6L1269.9 1170.3L1246.7 1177.8Z"/>
<path fill="#00008f" d="M1241.3 1193L1264.5 1186.1L1246.7 1177.8L1223.5 1184.8Z"/>
<path fill="#00008f" d="M1218.1 1199.6L1241.3 1193L1223.5 1184.8L1200.3 1191.4Z"/>
<path fill="#00008f" d="M1194.9 1206L1218.1 1199.6L1200.3 1191.4L1177.1 1197.9Z"/>
<path fill="#00008f" d="M1171.7 1212.4L1194.9 1206L1177.1 1197.9L1153.9 1204.3Z"/>
<path fill="#00008f" d="M1148.5 1218.8L1171.7 1212.4L1153.9 1204.3L1130.7 1210.6Z"/>
<path fill="#00008f" d="M1125.4 1225.1L1148.5 1218.8L1130.7 1210.6L1107.5 1216.9Z"/>
<path fill="#00008f" d="M1102.2 1231.4L1125.4 1225.1L1107.5 1216.9L1084.4 1223.2Z"/>
<path fill="#00008f" d="M1079 1237.7L1102.2 1231.4L1084.4 1223.2L1061.2 1229.5Z"/>
<path fill="#00008f" d="M1055.8 1244L1079 1237.7L1061.2 1229.5L1038 1235.8Z"/>
<path fill="#00008f" d="M1032.6 1250.3L1055.8 1244L1038 1235.8L1014.8 1242.1Z"/>
<path fill="#00008f" d="M1009.4 1256.5L1032.6 1250.3L1014.8 1242.1L991.6 1248.3Z"/>
<path fill="#00008f" d="M986.2 1262.8L1009.4 1256.5L991.6 1248.3L968.4 1254.6Z"/>
<path fill="#00008f" d="M963 1269.1L986.2 1262.8L968.4 1254.6L945.2 1260.9Z"/>
<path fill="#00008f" d="M939.9 1275.4L963 1269.1L945.2 1260.9L922 1267.2Z"/>
<path fill="#00008f" d="M916.7 1281.6L939.9 1275.4L922 1267.2L898.8 1273.4Z"/>
<path fill="#00008f" d="M893.5 1287.9L916.7 1281.6L898.8 1273.4L875.7 1279.7Z"/>
<path fill="#00008f" d="M1815.6 1050.4L1838.8 1044.2L1821 1035.9L1797.8 1042.1Z"/>
<path fill="#00008f" d="M1792.4 1056.5L1815.6 1050.4L1797.8 1042.1L1774.6 1048.2Z"/>
<path fill="#00008f" d="M1769.2 1062.7L1792.4 1056.5L1774.6 1048.2L1751.4 1054.4Z"/>
<path fill="#00008f" d="M1746.1 1068.8L1769.2 1062.7L1751.4 1054.4L1728.3 1060.4Z"/>
<path fill="#00008f" d="M1722.9 1074.8L1746.1 1068.8L1728.3 1060.4L1705.1 1066.4Z"/>
<path fill="#00008f" d="M1699.7 1080.7L1722.9 1074.8L1705.1 1066.4L1681.9 1072.3Z"/>
<path fill="#00008f" d="M1676.5 1086.5L1699.7 1080.7L1681.9 1072.3L1658.7 1078Z"/>
<path fill="#00008f" d="M1653.3 1092L1676.5 1086.5L1658.7 1078L1635.5 1083.5Z"/>
<path fill="#00008f" d="M1630.1 1097.2L1653.3 1092L1635.5 1083.5L1612.3 1088.5Z"/>
<path fill="#00008f" d="M1606.9 1101.9L1630.1 1097.2L1612.3 1088.5L1589.1 1093Z"/>
<path fill="#00008f" d="M1583.7 1105.6L1606.9 1101.9L1589.1 1093L1565.9 1096.4Z"/>
<path fill="#00009f" d="M1560.6 1107.9L1583.7 1105.6L1565.9 1096.4L1542.8 1098.2Z"/>
<path fill="#0000af" d="M1537.4 1107.8L1560.6 1107.9L1542.8 1098.2L1519.6 1097.5Z"/>
<path fill="#0000bf" d="M1514.2 1104.7L1537.4 1107.8L1519.6 1097.5L1496.4 1093.4Z"/>
<path fill="#0000cf" d="M1491 1099L1514.2 1104.7L1496.4 1093.4L1473.2 1086.5Z"/>
<path fill="#0000df" d="M1467.8 1094.9L1491 1099L1473.2 1086.5L1450 1081.4Z"/>
<path fill="#0000df" d="M1444.6 1099.9L1467.8 1094.9L1450 1081.4L1426.8 1086.7Z"/>
<path fill="#0000cf" d="M1421.4 1116.6L1444.6 1099.9L1426.8 1086.7L1403.6 1104.6Z"/>
<path fill="#0000af" d="M1398.2 1137.4L1421.4 1116.6L1403.6 1104.6L1380.4 1126.9Z"/>
<path fill="#00009f" d="M1375.1 1155.2L1398.2 1137.4L1380.4 1126.9L1357.2 1145.8Z"/>
<path fill="#00008f" d="M1351.9 1168.5L1375.1 1155.2L1357.2 1145.8L1334.1 1159.7Z"/>
<path fill="#00008f" d="M1328.7 1178.6L1351.9 1168.5L1334.1 1159.7L1310.9 1170.2Z"/>
<path fill="#00008f" d="M1305.5 1186.9L1328.7 1178.6L1310.9 1170.2L1287.7 1178.6Z"/>
<path fill="#00008f" d="M1282.3 1194.3L1305.5 1186.9L1287.7 1178.6L1264.5 1186.1Z"/>
<path fill="#00008f" d="M1259.1 1201.1L1282.3 1194.3L1264.5 1186.1L1241.3 1193Z"/>
<path fill="#00008f" d="M1235.9 1207.7L1259.1 1201.1L1241.3 1193L1218.1 1199.6Z"/>
<path fill="#00008f" d="M1212.7 1214.2L1235.9 1207.7L1218.1 1199.6L1194.9 1206Z"/>
<path fill="#00008f" d="M1189.5 1220.6L1212.7 1214.2L1194.9 1206L1171.7 1212.4Z"/>
<path fill="#00008f" d="M1166.4 1226.9L1189.5 1220.6L1171.7 1212.4L1148.5 1218.8Z"/>
<path fill="#00008f" d="M1143.2 1233.3L1166.4 1226.9L1148.5 1218.8L1125.4 1225.1Z"/>
<path fill="#00008f" d="M1120 1239.6L1143.2 1233.3L1125.4 1225.1L1102.2 1231.4Z"/>
<path fill="#00008f" d="M1096.8 1245.9L1120 1239.6L1102.2 1231.4L1079 1237.7Z"/>
<path fill="#00008f" d="M1073.6 1252.1L1096.8 1245.9L1079 1237.7L1055.8 1244Z"/>
<path fill="#00008f" d="M1050.4 1258.4L1073.6 1252.1L1055.8 1244L1032.6 1250.3Z"/>
<path fill="#00008f" d="M1027.2 1264.7L1050.4 1258.4L1032.6 1250.3L1009.4 1256.5Z"/>
<path fill="#00008f" d="M1004 1271L1027.2 1264.7L1009.4 1256.5L986.2 1262.8Z"/>
<path fill="#00008f" d="M980.9 1277.3L1004 1271L986.2 1262.8L963 1269.1Z"/>
<path fill="#00008f" d="M957.7 1283.6L980.9 1277.3L963 1269.1L939.9 1275.4Z"/>
<path fill="#00008f" d="M934.5 1289.8L957.7 1283.6L939.9 1275.4L916.7 1281.6Z"/>
<path fill="#00008f" d="M911.3 1296.1L934.5 1289.8L916.7 1281.6L893.5 1287.9Z"/>
<path fill="#00008f" d="M1833.4 1058.6L1856.6 1052.4L1838.8 1044.2L1815.6 1050.4Z"/>
<path fill="#00008f" d="M1810.2 1064.8L1833.4 1058.6L1815.6 1050.4L1792.4 1056.5Z"/>
<path fill="#00008f" d="M1787 1071L1810.2 1064.8L1792.4 1056.5L1769.2 1062.7Z"/>
<path fill="#00008f" d="M1763.9 1077.1L1787 1071L1769.2 1062.7L1746.1 1068.8Z"/>
<path fill="#00008f" d="M1740.7 1083.1L1763.9 1077.1L1746.1 1068.8L1722.9 1074.8Z"/>
<path fill="#00008f" d="M1717.5 1089.1L1740.7 1083.1L1722.9 1074.8L1699.7 1080.7Z"/>
<path fill="#00008f" d="M1694.3 1094.9L1717.5 1089.1L1699.7 1080.7L1676.5 1086.5Z"/>
<path fill="#00008f" d="M1671.1 1100.5L1694.3 1094.9L1676.5 1086.5L1653.3 1092Z"/>
<path fill="#00008f" d="M1647.9 1105.8L1671.1 1100.5L1653.3 1092L1630.1 1097.2Z"/>
<path fill="#00008f" d="M1624.7 1110.7L1647.9 1105.8L1630.1 1097.2L1606.9 1101.9Z"/>
<path fill="#00008f" d="M1601.5 1114.6L1624.7 1110.7L1606.9 1101.9L1583.7 1105.6Z"/>
<path fill="#00009f" d="M1578.4 1117.3L1601.5 1114.6L1583.7 1105.6L1560.6 1107.9Z"/>
<path fill="#00009f" d="M1555.2 1117.9L1578.4 1117.3L1560.6 1107.9L1537.4 1107.8Z"/>
<path fill="#0000af" d="M1532 1115.6L1555.2 1117.9L1537.4 1107.8L1514.2 1104.7Z"/>
<path fill="#0000cf" d="M1508.8 1111L1532 1115.6L1514.2 1104.7L1491 1099Z"/>
<path fill="#0000df" d="M1485.6 1107.6L1508.8 1111L1491 1099L1467.8 1094.9Z"/>
<path fill="#0000df" d="M1462.4 1112.6L1485.6 1107.6L1467.8 1094.9L1444.6 1099.9Z"/>
<path fill="#0000cf" d="M1439.2 1128.1L1462.4 1112.6L1444.6 1099.9L1421.4 1116.6Z"/>
<path fill="#0000af" d="M1416 1147.6L1439.2 1128.1L1421.4 1116.6L1398.2 1137.4Z"/>
<path fill="#00009f" d="M1392.9 1164.4L1416 1147.6L1398.2 1137.4L1375.1 1155.2Z"/>
<path fill="#00008f" d="M1369.7 1177.2L1392.9 1164.4L1375.1 1155.2L1351.9 1168.5Z"/>
<path fill="#00008f" d="M1346.5 1187L1369.7 1177.2L1351.9 1168.5L1328.7 1178.6Z"/>
<path fill="#00008f" d="M1323.3 1195.2L1346.5 1187L1328.7 1178.6L1305.5 1186.9Z"/>
<path fill="#00008f" d="M1300.1 1202.5L1323.3 1195.2L1305.5 1186.9L1282.3 1194.3Z"/>
<path fill="#00008f" d="M1276.9 1209.3L1300.1 1202.5L1282.3 1194.3L1259.1 1201.1Z"/>
<path fill="#00008f" d="M1253.7 1215.9L1276.9 1209.3L1259.1 1201.1L1235.9 1207.7Z"/>
<path fill="#00008f" d="M1230.5 1222.4L1253.7 1215.9L1235.9 1207.7L1212.7 1214.2Z"/>
<path fill="#00008f" d="M1207.4 1228.8L1230.5 1222.4L1212.7 1214.2L1189.5 1220.6Z"/>
<path fill="#00008f" d="M1184.2 1235.1L1207.4 1228.8L1189.5 1220.6L1166.4 1226.9Z"/>
<path fill="#00008f" d="M1161 1241.4L1184.2 1235.1L1166.4 1226.9L1143.2 1233.3Z"/>
<path fill="#00008f" d="M1137.8 1247.7L1161 1241.4L1143.2 1233.3L1120 1239.6Z"/>
<path fill="#00008f" d="M1114.6 1254L1137.8 1247.7L1120 1239.6L1096.8 1245.9Z"/>
<path fill="#00008f" d="M1091.4 1260.3L1114.6 1254L1096.8 1245.9L1073.6 1252.1Z"/>
<path fill="#00008f" d="M1068.2 1266.6L1091.4 1260.3L1073.6 1252.1L1050.4 1258.4Z"/>
<path fill="#00008f" d="M1045 1272.9L1068.2 1266.6L1050.4 1258.4L1027.2 1264.7Z"/>
<path fill="#00008f" d="M1021.9 1279.2L1045 1272.9L1027.2 1264.7L1004 1271Z"/>
<path fill="#00008f" d="M998.7 1285.5L1021.9 1279.2L1004 1271L980.9 1277.3Z"/>
<path fill="#00008f" d="M975.5 1291.7L998.7 1285.5L980.9 1277.3L957.7 1283.6Z"/>
<path fill="#00008f" d="M952.3 1298L975.5 1291.7L957.7 1283.6L934.5 1289.8Z"/>
<path fill="#00008f" d="M929.1 1304.3L952.3 1298L934.5 1289.8L911.3 1296.1Z"/>
<path fill="#00008f" d="M1851.2 1066.9L1874.4 1060.6L1856.6 1052.4L1833.4 1058.6Z"/>
<path fill="#00008f" d="M1828 1073.1L1851.2 1066.9L1833.4 1058.6L1810.2 1064.8Z"/>
<path fill="#00008f" d="M1804.8 1079.2L1828 1073.1L1810.2 1064.8L1787 1071Z"/>
<path fill="#00008f" d="M1781.7 1085.4L1804.8 1079.2L1787 1071L1763.9 1077.1Z"/>
<path fill="#00008f" d="M1758.5 1091.4L1781.7 1085.4L1763.9 1077.1L1740.7 1083.1Z"/>
<path fill="#00008f" d="M1735.3 1097.4L1758.5 1091.4L1740.7 1083.1L1717.5 1089.1Z"/>
<path fill="#00008f" d="M1712.1 1103.3L1735.3 1097.4L1717.5 1089.1L1694.3 1094.9Z"/>
<path fill="#00008f" d="M1688.9 1109L1712.1 1103.3L1694.3 1094.9L1671.1 1100.5Z"/>
<path fill="#00008f" d="M1665.7 1114.4L1688.9 1109L1671.1 1100.5L1647.9 1105.8Z"/>
<path fill="#00008f" d="M1642.5 1119.4L1665.7 1114.4L1647.9 1105.8L1624.7 1110.7Z"/>
<path fill="#00008f" d="M1619.3 1123.6L1642.5 1119.4L1624.7 1110.7L1601.5 1114.6Z"/>
<path fill="#00009f" d="M1596.2 1126.6L1619.3 1123.6L1601.5 1114.6L1578.4 1117.3Z"/>
<path fill="#00009f" d="M1573 1127.7L1596.2 1126.6L1578.4 1117.3L1555.2 1117.9Z"/>
<path fill="#0000af" d="M1549.8 1126.2L1573 1127.7L1555.2 1117.9L1532 1115.6Z"/>
<path fill="#0000bf" d="M1526.6 1122.4L1549.8 1126.2L1532 1115.6L1508.8 1111Z"/>
<path fill="#0000cf" d="M1503.4 1119.7L1526.6 1122.4L1508.8 1111L1485.6 1107.6Z"/>
<path fill="#0000cf" d="M1480.2 1124.7L1503.4 1119.7L1485.6 1107.6L1462.4 1112.6Z"/>
<path fill="#0000bf" d="M1457 1139.3L1480.2 1124.7L1462.4 1112.6L1439.2 1128.1Z"/>
<path fill="#0000af" d="M1433.9 1157.6L1457 1139.3L1439.2 1128.1L1416 1147.6Z"/>
<path fill="#00009f" d="M1410.7 1173.6L1433.9 1157.6L1416 1147.6L1392.9 1164.4Z"/>
<path fill="#00008f" d="M1387.5 1185.8L1410.7 1173.6L1392.9 1164.4L1369.7 1177.2Z"/>
<path fill="#00008f" d="M1364.3 1195.4L1387.5 1185.8L1369.7 1177.2L1346.5 1187Z"/>
<path fill="#00008f" d="M1341.1 1203.5L1364.3 1195.4L1346.5 1187L1323.3 1195.2Z"/>
<path fill="#00008f" d="M1317.9 1210.7L1341.1 1203.5L1323.3 1195.2L1300.1 1202.5Z"/>
<path fill="#00008f" d="M1294.7 1217.5L1317.9 1210.7L1300.1 1202.5L1276.9 1209.3Z"/>
<path fill="#00008f" d="M1271.5 1224.1L1294.7 1217.5L1276.9 1209.3L1253.7 1215.9Z"/>
<path fill="#00008f" d="M1248.4 1230.6L1271.5 1224.1L1253.7 1215.9L1230.5 1222.4Z"/>
<path fill="#00008f" d="M1225.2 1236.9L1248.4 1230.6L1230.5 1222.4L1207.4 1228.8Z"/>
<path fill="#00008f" d="M1202 1243.3L1225.2 1236.9L1207.4 1228.8L1184.2 1235.1Z"/>
<path fill="#00008f" d="M1178.8 1249.6L1202 1243.3L1184.2 1235.1L1161 1241.4Z"/>
<path fill="#00008f" d="M1155.6 1255.9L1178.8 1249.6L1161 1241.4L1137.8 1247.7Z"/>
<path fill="#00008f" d="M1132.4 1262.2L1155.6 1255.9L1137.8 1247.7L1114.6 1254Z"/>
<path fill="#00008f" d="M1109.2 1268.5L1132.4 1262.2L1114.6 1254L1091.4 1260.3Z"/>
<path fill="#00008f" d="M1086.1 1274.8L1109.2 1268.5L1091.4 1260.3L1068.2 1266.6Z"/>
<path fill="#00008f" d="M1062.9 1281.1L1086.1 1274.8L1068.2 1266.6L1045 1272.9Z"/>
<path fill="#00008f" d="M1039.7 1287.4L1062.9 1281.1L1045 1272.9L1021.9 1279.2Z"/>
<path fill="#00008f" d="M1016.5 1293.7L1039.7 1287.4L1021.9 1279.2L998.7 1285.5Z"/>
<path fill="#00008f" d="M993.3 1299.9L1016.5 1293.7L998.7 1285.5L975.5 1291.7Z"/>
<path fill="#00008f" d="M970.1 1306.2L993.3 1299.9L975.5 1291.7L952.3 1298Z"/>
<path fill="#00008f" d="M946.9 1312.5L970.1 1306.2L952.3 1298L929.1 1304.3Z"/>
<path fill="#00008f" d="M1869 1075.1L1892.2 1068.9L1874.4 1060.6L1851.2 1066.9Z"/>
<path fill="#00008f" d="M1845.8 1081.3L1869 1075.1L1851.2 1066.9L1828 1073.1Z"/>
<path fill="#00008f" d="M1822.6 1087.5L1845.8 1081.3L1828 1073.1L1804.8 1079.2Z"/>
<path fill="#00008f" d="M1799.5 1093.6L1822.6 1087.5L1804.8 1079.2L1781.7 1085.4Z"/>
<path fill="#00008f" d="M1776.3 1099.7L1799.5 1093.6L1781.7 1085.4L1758.5 1091.4Z"/>
<path fill="#00008f" d="M1753.1 1105.7L1776.3 1099.7L1758.5 1091.4L1735.3 1097.4Z"/>
<path fill="#00008f" d="M1729.9 1111.7L1753.1 1105.7L1735.3 1097.4L1712.1 1103.3Z"/>
<path fill="#00008f" d="M1706.7 1117.4L1729.9 1111.7L1712.1 1103.3L1688.9 1109Z"/>
<path fill="#00008f" d="M1683.5 1122.9L1706.7 1117.4L1688.9 1109L1665.7 1114.4Z"/>
<path fill="#00008f" d="M1660.3 1128L1683.5 1122.9L1665.7 1114.4L1642.5 1119.4Z"/>
<path fill="#00008f" d="M1637.2 1132.4L1660.3 1128L1642.5 1119.4L1619.3 1123.6Z"/>
<path fill="#00009f" d="M1614 1135.7L1637.2 1132.4L1619.3 1123.6L1596.2 1126.6Z"/>
<path fill="#00009f" d="M1590.8 1137.2L1614 1135.7L1596.2 1126.6L1573 1127.7Z"/>
<path fill="#0000af" d="M1567.6 1136.4L1590.8 1137.2L1573 1127.7L1549.8 1126.2Z"/>
<path fill="#0000bf" d="M1544.4 1133.4L1567.6 1136.4L1549.8 1126.2L1526.6 1122.4Z"/>
<path fill="#0000cf" d="M1521.2 1131.4L1544.4 1133.4L1526.6 1122.4L1503.4 1119.7Z"/>
<path fill="#0000cf" d="M1498 1136.3L1521.2 1131.4L1503.4 1119.7L1480.2 1124.7Z"/>
<path fill="#0000bf" d="M1474.8 1150.1L1498 1136.3L1480.2 1124.7L1457 1139.3Z"/>
<path fill="#0000af" d="M1451.7 1167.4L1474.8 1150.1L1457 1139.3L1433.9 1157.6Z"/>
<path fill="#00009f" d="M1428.5 1182.6L1451.7 1167.4L1433.9 1157.6L1410.7 1173.6Z"/>
<path fill="#00008f" d="M1405.3 1194.4L1428.5 1182.6L1410.7 1173.6L1387.5 1185.8Z"/>
<path fill="#00008f" d="M1382.1 1203.8L1405.3 1194.4L1387.5 1185.8L1364.3 1195.4Z"/>
<path fill="#00008f" d="M1358.9 1211.8L1382.1 1203.8L1364.3 1195.4L1341.1 1203.5Z"/>
<path fill="#00008f" d="M1335.7 1218.9L1358.9 1211.8L1341.1 1203.5L1317.9 1210.7Z"/>
<path fill="#00008f" d="M1312.5 1225.7L1335.7 1218.9L1317.9 1210.7L1294.7 1217.5Z"/>
<path fill="#00008f" d="M1289.4 1232.3L1312.5 1225.7L1294.7 1217.5L1271.5 1224.1Z"/>
<path fill="#00008f" d="M1266.2 1238.7L1289.4 1232.3L1271.5 1224.1L1248.4 1230.6Z"/>
<path fill="#00008f" d="M1243 1245.1L1266.2 1238.7L1248.4 1230.6L1225.2 1236.9Z"/>
<path fill="#00008f" d="M1219.8 1251.4L1243 1245.1L1225.2 1236.9L1202 1243.3Z"/>
<path fill="#00008f" d="M1196.6 1257.8L1219.8 1251.4L1202 1243.3L1178.8 1249.6Z"/>
<path fill="#00008f" d="M1173.4 1264.1L1196.6 1257.8L1178.8 1249.6L1155.6 1255.9Z"/>
<path fill="#00008f" d="M1150.2 1270.4L1173.4 1264.1L1155.6 1255.9L1132.4 1262.2Z"/>
<path fill="#00008f" d="M1127.1 1276.7L1150.2 1270.4L1132.4 1262.2L1109.2 1268.5Z"/>
<path fill="#00008f" d="M1103.9 1283L1127.1 1276.7L1109.2 1268.5L1086.1 1274.8Z"/>
<path fill="#00008f" d="M1080.7 1289.3L1103.9 1283L1086.1 1274.8L1062.9 1281.1Z"/>
<path fill="#00008f" d="M1057.5 1295.5L1080.7 1289.3L1062.9 1281.1L1039.7 1287.4Z"/>
<path fill="#00008f" d="M1034.3 1301.8L1057.5 1295.5L1039.7 1287.4L1016.5 1293.7Z"/>
<path fill="#00008f" d="M1011.1 1308.1L1034.3 1301.8L1016.5 1293.7L993.3 1299.9Z"/>
<path fill="#00008f" d="M987.9 1314.4L1011.1 1308.1L993.3 1299.9L970.1 1306.2Z"/>
<path fill="#00008f" d="M964.8 1320.7L987.9 1314.4L970.1 1306.2L946.9 1312.5Z"/>
</g>
<g font-family="'Liberation Sans', sans-serif" font-size="50" fill="#000" stroke="#000" stroke-width="0.3" style="font-kerning:none" font-kerning="none">
<text x="253" y="165">x 10</text>
<text x="346.5" y="134" font-size="35"><tspan dy="3.4">−</tspan><tspan dy="-3.4">3</tspan></text>
<text x="217" y="995.5" text-anchor="end">0</text>
<text x="217" y="816.8" text-anchor="end">0.5</text>
<text x="217" y="638.1" text-anchor="end">1</text>
<text x="217" y="459.4" text-anchor="end">1.5</text>
<text x="217" y="280.7" text-anchor="end">2</text>
<text x="113.3" y="632.6" text-anchor="middle" transform="rotate(-90 113.3 632.6)">Fisher Information Determinant Value</text>
<text x="214.7" y="1050.0" text-anchor="end">20</text>
<text x="392.8" y="1131.8" text-anchor="end">10</text>
<text x="570.9" y="1213.7" text-anchor="end">0</text>
<text x="749.1" y="1295.6" text-anchor="end"><tspan dy="4">−</tspan><tspan dy="-4">10</tspan></text>
<text x="927.2" y="1377.5" text-anchor="end"><tspan dy="4">−</tspan><tspan dy="-4">20</tspan></text>
<text x="999.3" y="1384.5"><tspan dy="4">−</tspan><tspan dy="-4">20</tspan></text>
<text x="1231.3" y="1321.5"><tspan dy="4">−</tspan><tspan dy="-4">10</tspan></text>
<text x="1463.2" y="1258.5">0</text>
<text x="1695.2" y="1195.6">10</text>
<text x="1927.2" y="1132.6">20</text>
<text x="25.5" y="1395">x<tspan dy="4">−</tspan><tspan dy="-4">Coordinate of Sensor 2</tspan></text>
<text x="1386" y="1414.5">x<tspan dy="4">−</tspan><tspan dy="-4">Coordinate of Sensor 1</tspan></text>
</g>
</svg>
</body></html>
